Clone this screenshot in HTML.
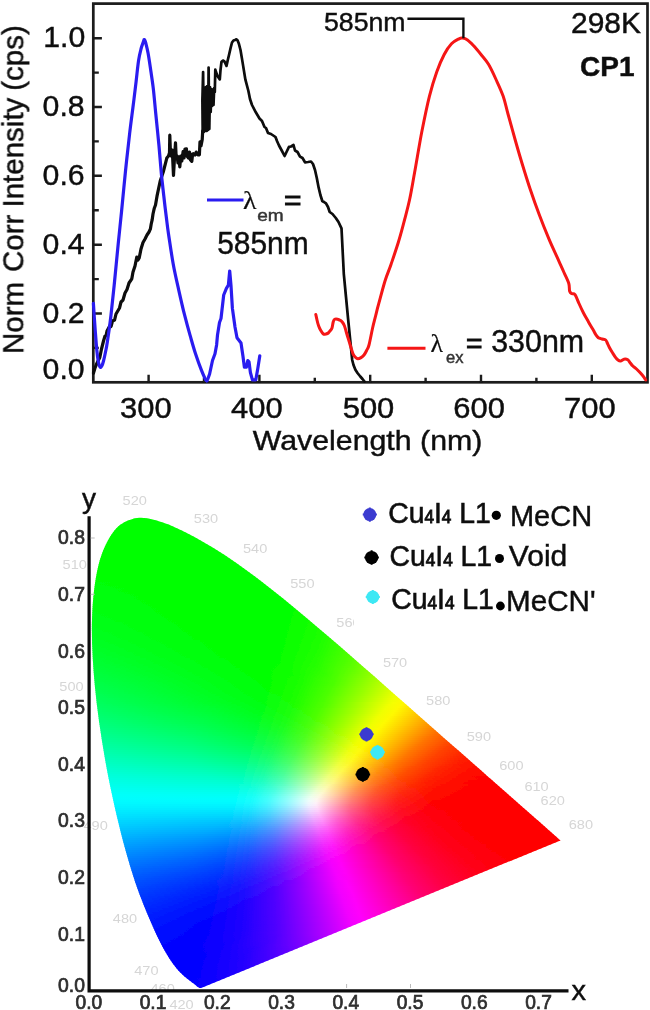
<!DOCTYPE html>
<html><head><meta charset="utf-8"><title>chart</title>
<style>html,body{margin:0;padding:0;background:#fff}svg{display:block}text{font-family:"Liberation Sans",sans-serif}</style>
</head><body>
<svg width="650" height="1010" viewBox="0 0 650 1010">
<defs><filter id="bl" x="0" y="0" width="650" height="1010" filterUnits="userSpaceOnUse"><feGaussianBlur stdDeviation="0.55"/></filter></defs>
<g filter="url(#bl)">
<rect width="650" height="1010" fill="#fff"/>
<rect x="93.3" y="3.6" width="554.2" height="378.7" fill="#fff" stroke="#1a1a1a" stroke-width="2.7"/>
<path d="M148.6 382.3 v-7.5M204.0 382.3 v-4.5M259.4 382.3 v-7.5M314.8 382.3 v-4.5M370.2 382.3 v-7.5M425.6 382.3 v-4.5M481.0 382.3 v-7.5M536.4 382.3 v-4.5M591.8 382.3 v-7.5M93.3 347.9 h5.5M93.3 313.5 h8.6M93.3 279.1 h5.5M93.3 244.7 h8.6M93.3 210.2 h5.5M93.3 175.8 h8.6M93.3 141.4 h5.5M93.3 107.0 h8.6M93.3 72.6 h5.5M93.3 38.2 h8.6" stroke="#1a1a1a" stroke-width="2.4" fill="none"/>
<polyline points="93.5,373.0 95.0,368.0 96.2,365.0 98.0,361.0 99.8,357.5 101.5,349.0 103.5,341.0 105.0,336.0 106.0,336.0 107.0,331.0 109.7,326.0 111.0,326.5 112.5,321.0 114.6,320.0 116.0,314.0 119.5,308.0 121.0,302.0 123.0,300.0 125.0,293.0 127.0,289.5 129.0,283.0 131.8,278.8 133.0,272.0 135.0,266.0 136.8,257.0 138.0,260.0 139.2,258.0 141.0,249.0 143.0,242.5 145.0,239.0 147.0,235.0 149.0,232.0 150.4,228.9 151.2,224.0 152.1,220.2 153.0,214.0 154.3,208.2 155.5,205.0 157.0,196.2 160.2,181.0 163.5,171.2 166.8,158.1 168.5,156.0 169.5,152.7 169.8,135.2 170.4,152.0 171.1,155.9 172.3,150.0 173.5,175.5 174.6,156.0 175.5,142.9 176.2,158.0 177.1,155.9 178.0,163.0 179.0,157.0 179.8,166.8 180.8,156.0 181.8,161.0 183.1,151.6 184.0,158.0 185.0,149.0 186.4,148.8 187.0,156.0 188.5,158.1 189.5,152.0 190.5,160.0 191.8,161.4 192.6,154.0 193.4,153.7 195.0,155.0 196.2,152.1 198.0,155.0 199.4,154.8 200.0,141.8 201.0,146.0 202.2,139.6 202.7,130.9" fill="none" stroke="#0a0a0a" stroke-width="3.2" stroke-linejoin="round" stroke-linecap="round"/>
<polyline points="202.7,130.9 202.4,100.0 203.1,72.0 203.8,132.0 204.6,88.0 205.3,131.0 206.0,87.0 206.7,131.0 207.4,86.0 208.1,130.0 208.6,67.6 209.3,129.0 210.0,87.0 210.7,112.0 211.4,89.0 212.1,106.0 212.8,90.0 213.5,105.0 214.2,88.0 214.8,92.0 215.3,69.5 216.0,72.0 217.5,76.0 219.8,79.4 220.5,70.0 221.5,61.7 223.0,60.5 224.4,61.3 226.5,65.9 227.8,60.0 229.0,55.0 230.6,48.0 232.0,42.5 233.5,40.5 235.0,40.0 236.5,39.3 237.6,40.5 238.9,43.8 240.5,50.0 242.5,61.9 245.4,79.7 248.4,91.0 250.0,99.0 252.0,105.0 255.8,112.3 259.5,118.5 262.0,121.0 264.5,127.0 266.0,128.0 268.0,133.0 271.0,134.0 275.5,137.0 277.0,141.0 279.0,145.5 282.0,151.0 284.6,156.0 286.5,152.0 289.0,146.8 291.0,146.5 293.5,145.0 295.0,150.5 297.5,152.0 300.0,156.6 302.5,158.0 305.0,162.3 308.0,162.0 311.0,161.5 313.0,164.0 315.0,170.0 316.8,178.0 318.6,187.4 320.4,195.0 322.3,201.0 324.0,202.0 326.0,203.4 328.0,207.0 329.7,212.0 332.5,214.0 335.8,218.0 338.5,222.0 341.5,228.3 342.6,250.0 343.8,273.8 346.0,297.0 348.0,318.0 350.5,342.8 352.2,360.0 353.5,365.0 355.4,369.8 357.5,373.0 360.3,376.5 362.5,379.0 364.5,381.5" fill="none" stroke="#0a0a0a" stroke-width="2.7" stroke-linejoin="round" stroke-linecap="round"/>
<path d="M315.8 314.5C316.0 315.4 316.6 318.2 317.0 320.0C317.4 321.8 317.9 323.8 318.5 325.5C319.1 327.2 319.7 328.6 320.5 330.0C321.3 331.4 322.5 333.3 323.4 334.0C324.3 334.7 325.2 334.2 326.0 334.0C326.8 333.8 327.6 333.6 328.3 333.0C329.0 332.4 329.8 331.3 330.4 330.5C331.0 329.7 331.5 329.4 332.0 328.0C332.5 326.6 332.8 323.4 333.2 322.0C333.6 320.6 333.8 319.9 334.5 319.4C335.2 318.9 336.5 319.0 337.5 319.2C338.5 319.4 339.8 320.1 340.6 320.6C341.5 321.2 342.0 321.7 342.6 322.5C343.2 323.3 343.7 324.1 344.3 325.5C344.9 326.9 345.4 328.9 346.0 331.0C346.6 333.1 347.2 335.3 348.0 337.8C348.8 340.3 349.7 343.3 350.5 346.0C351.3 348.7 352.2 351.9 353.0 353.8C353.8 355.7 354.6 356.4 355.4 357.2C356.2 358.0 356.9 358.7 357.8 358.8C358.7 358.9 360.0 358.2 361.0 357.6C362.0 357.0 363.1 356.2 364.0 355.0C364.9 353.8 365.8 352.2 366.6 350.5C367.4 348.8 368.0 348.8 369.0 345.0C370.0 341.2 371.5 332.9 372.6 328.0C373.7 323.1 374.7 319.6 375.7 315.5C376.7 311.4 377.2 309.1 378.8 303.4C380.4 297.6 383.0 287.5 385.0 281.0C387.0 274.5 388.8 271.0 391.0 264.5C393.2 258.0 396.2 249.3 398.5 241.8C400.8 234.3 402.8 226.7 404.6 219.7C406.4 212.7 407.8 207.8 409.5 200.0C411.2 192.2 412.5 184.1 414.6 172.6C416.7 161.1 419.5 143.5 422.0 130.8C424.5 118.1 426.9 106.2 429.4 96.3C431.9 86.4 434.3 78.7 436.8 71.7C439.3 64.7 441.8 59.1 444.2 54.5C446.6 49.9 449.0 46.4 451.5 43.8C454.0 41.2 457.1 39.8 459.0 38.8C460.9 37.8 461.2 37.9 462.6 38.1C464.0 38.3 465.6 38.7 467.5 40.0C469.4 41.3 471.4 43.4 473.7 45.8C475.9 48.2 478.5 51.4 481.0 54.5C483.5 57.6 486.0 60.2 488.5 64.3C491.0 68.4 493.4 73.7 495.8 79.0C498.2 84.3 501.2 90.5 503.2 96.3C505.2 102.1 505.9 106.5 508.0 114.0C510.1 121.5 513.0 132.2 515.5 141.0C518.0 149.8 520.5 158.4 523.0 166.5C525.5 174.6 527.6 181.5 530.3 189.5C533.0 197.5 536.1 206.3 539.2 214.6C542.3 222.9 545.7 231.4 549.0 239.2C552.3 247.0 556.5 255.8 559.0 261.4C561.5 266.9 562.4 268.8 564.0 272.5C565.6 276.2 567.9 280.4 568.8 283.5C569.7 286.6 569.1 289.3 569.6 291.0C570.1 292.7 570.6 293.0 571.5 293.6C572.4 294.2 573.8 293.0 575.0 294.6C576.2 296.2 577.6 300.4 579.0 303.5C580.4 306.6 581.9 309.9 583.5 313.0C585.1 316.1 586.9 319.1 588.5 322.0C590.1 324.9 592.1 328.1 593.4 330.3C594.6 332.5 595.2 333.8 596.0 335.0C596.8 336.2 597.3 337.0 598.3 337.7C599.3 338.4 600.8 338.6 602.0 339.0C603.2 339.4 604.8 339.2 605.7 340.0C606.6 340.8 606.9 342.2 607.5 343.5C608.1 344.8 608.6 345.9 609.4 347.5C610.2 349.1 611.5 351.2 612.5 352.8C613.5 354.4 614.6 356.2 615.5 357.4C616.4 358.6 617.2 359.4 618.0 360.0C618.8 360.6 619.5 361.1 620.5 361.0C621.5 360.9 622.8 359.4 624.0 359.2C625.2 359.0 626.8 359.2 627.8 359.8C628.8 360.4 629.5 362.0 630.3 363.0C631.1 364.0 631.8 365.0 632.8 366.0C633.8 367.0 635.3 367.9 636.5 369.0C637.7 370.1 638.9 371.3 640.0 372.5C641.1 373.7 642.0 374.8 643.0 376.0C644.0 377.2 645.3 379.3 645.8 380.0" fill="none" stroke="#f51515" stroke-width="3.0" stroke-linejoin="round" stroke-linecap="round"/>
<path d="M93.4 303.4C93.7 307.8 94.6 322.2 95.2 330.0C95.8 337.8 96.3 344.7 96.8 350.0C97.3 355.3 97.9 359.2 98.4 362.0C98.9 364.8 99.4 366.3 100.0 367.0C100.6 367.7 101.2 367.0 101.8 366.0C102.4 365.0 102.9 363.3 103.5 361.0C104.1 358.7 104.9 355.0 105.5 352.0C106.1 349.0 106.3 348.8 107.2 342.8C108.1 336.8 109.7 326.3 110.9 316.0C112.1 305.7 113.4 293.2 114.6 281.0C115.8 268.8 117.1 254.8 118.3 243.0C119.5 231.2 120.5 222.0 121.7 210.0C122.9 198.0 124.2 183.7 125.5 171.0C126.8 158.3 128.4 144.5 129.6 133.9C130.8 123.4 131.8 116.4 132.9 107.7C134.0 99.0 135.2 89.4 136.1 81.6C137.0 73.8 137.7 66.3 138.5 60.9C139.3 55.5 140.2 52.1 141.0 49.0C141.8 45.9 142.6 44.0 143.2 42.4C143.8 40.8 143.9 39.4 144.3 39.6C144.8 39.8 145.3 41.2 145.9 43.5C146.5 45.8 147.3 48.8 148.1 53.3C148.9 57.8 149.9 64.5 150.8 70.7C151.7 76.9 152.7 82.9 153.5 90.3C154.3 97.7 155.0 105.9 155.9 115.0C156.8 124.1 158.0 135.3 158.9 145.0C159.8 154.7 160.5 164.5 161.3 173.0C162.1 181.5 163.0 188.7 163.8 196.0C164.6 203.3 165.5 210.7 166.3 217.0C167.1 223.3 167.3 226.1 168.5 233.9C169.7 241.7 171.5 254.6 173.2 264.0C174.9 273.4 176.9 281.9 178.8 290.3C180.7 298.8 182.6 307.2 184.5 314.7C186.4 322.2 188.2 328.8 190.1 335.4C192.0 342.0 193.8 348.5 195.7 354.3C197.6 360.1 199.8 366.1 201.4 370.2C203.0 374.3 204.2 376.9 205.1 378.7C206.0 380.5 206.5 380.4 206.8 380.8" fill="none" stroke="#2b1cf0" stroke-width="3.2" stroke-linejoin="round" stroke-linecap="round"/>
<polyline points="206.8,380.8 208.0,378.5 209.6,374.0 212.5,360.5 215.0,353.8 216.6,345.0 217.5,335.0 219.5,322.5 221.0,318.5 223.7,295.0 226.4,288.4 228.4,285.0 229.7,271.0 231.0,285.7 232.4,308.4 235.0,327.0 237.0,337.8 241.0,343.0 243.0,356.5 244.4,367.2 246.4,367.2 247.8,360.5 249.0,361.8 250.4,372.5 252.4,379.8 255.8,379.8 257.8,368.5 259.8,355.8" fill="none" stroke="#2b1cf0" stroke-width="3.2" stroke-linejoin="round" stroke-linecap="round"/>
<path d="M407.4 18.8H463.4V38.2" fill="none" stroke="#111" stroke-width="2.4"/>
<text x="324.0" y="31.0" font-size="26" fill="#111" font-weight="normal" text-anchor="start"  textLength="81.5" lengthAdjust="spacingAndGlyphs"  stroke="#111" stroke-width="0.45">585nm</text>
<text x="571.0" y="32.8" font-size="29.5" fill="#111" font-weight="normal" text-anchor="start"  textLength="70.0" lengthAdjust="spacingAndGlyphs"  stroke="#111" stroke-width="0.45">298K</text>
<text x="580.0" y="76.3" font-size="27.5" fill="#111" font-weight="bold" text-anchor="start"  textLength="54.5" lengthAdjust="spacingAndGlyphs"  stroke="#111" stroke-width="0.45">CP1</text>
<path d="M207 200H243.5" stroke="#2b1cf0" stroke-width="3.1"/>
<text x="243.0" y="209.0" font-size="26" fill="#111" font-weight="normal" text-anchor="start" style="font-family:'Liberation Serif',serif" textLength="13.5" lengthAdjust="spacingAndGlyphs"  stroke="#111" stroke-width="0.2">λ</text>
<text x="257.2" y="220.5" font-size="16.7" fill="#333" font-weight="normal" text-anchor="start"  textLength="26.5" lengthAdjust="spacingAndGlyphs"  stroke="#333" stroke-width="0.45">em</text>
<text x="284.0" y="209.5" font-size="27" fill="#111" font-weight="normal" text-anchor="start"  textLength="17.5" lengthAdjust="spacingAndGlyphs"  stroke="#111" stroke-width="0.9">=</text>
<text x="217.2" y="254.2" font-size="30.5" fill="#111" font-weight="normal" text-anchor="start"  textLength="91.5" lengthAdjust="spacingAndGlyphs"  stroke="#111" stroke-width="0.45">585nm</text>
<path d="M387.4 348.2H425.5" stroke="#f51515" stroke-width="3.0"/>
<text x="430.5" y="351.8" font-size="25" fill="#111" font-weight="normal" text-anchor="start" style="font-family:'Liberation Serif',serif" textLength="12.5" lengthAdjust="spacingAndGlyphs"  stroke="#111" stroke-width="0.2">λ</text>
<text x="446.0" y="363.4" font-size="16" fill="#333" font-weight="normal" text-anchor="start"  textLength="17.5" lengthAdjust="spacingAndGlyphs"  stroke="#333" stroke-width="0.45">ex</text>
<text x="466.0" y="352.8" font-size="27" fill="#111" font-weight="normal" text-anchor="start"  textLength="16.5" lengthAdjust="spacingAndGlyphs"  stroke="#111" stroke-width="0.9">=</text>
<text x="491.2" y="352.4" font-size="30.5" fill="#111" font-weight="normal" text-anchor="start"  textLength="93.0" lengthAdjust="spacingAndGlyphs"  stroke="#111" stroke-width="0.45">330nm</text>
<text x="43.3" y="46.9" font-size="30.3" fill="#111" font-weight="normal" text-anchor="start"  textLength="42.0" lengthAdjust="spacingAndGlyphs"  stroke="#111" stroke-width="0.45">1.0</text>
<text x="42.6" y="116.0" font-size="30.3" fill="#111" font-weight="normal" text-anchor="start"  textLength="42.0" lengthAdjust="spacingAndGlyphs"  stroke="#111" stroke-width="0.45">0.8</text>
<text x="42.6" y="185.1" font-size="30.3" fill="#111" font-weight="normal" text-anchor="start"  textLength="42.0" lengthAdjust="spacingAndGlyphs"  stroke="#111" stroke-width="0.45">0.6</text>
<text x="42.6" y="254.2" font-size="30.3" fill="#111" font-weight="normal" text-anchor="start"  textLength="42.0" lengthAdjust="spacingAndGlyphs"  stroke="#111" stroke-width="0.45">0.4</text>
<text x="42.6" y="323.3" font-size="30.3" fill="#111" font-weight="normal" text-anchor="start"  textLength="42.0" lengthAdjust="spacingAndGlyphs"  stroke="#111" stroke-width="0.45">0.2</text>
<text x="42.6" y="378.7" font-size="30.3" fill="#111" font-weight="normal" text-anchor="start"  textLength="42.0" lengthAdjust="spacingAndGlyphs"  stroke="#111" stroke-width="0.45">0.0</text>
<text x="120.1" y="418.3" font-size="30.3" fill="#111" font-weight="normal" text-anchor="start"  textLength="51.6" lengthAdjust="spacingAndGlyphs"  stroke="#111" stroke-width="0.45">300</text>
<text x="231.1" y="418.3" font-size="30.3" fill="#111" font-weight="normal" text-anchor="start"  textLength="51.6" lengthAdjust="spacingAndGlyphs"  stroke="#111" stroke-width="0.45">400</text>
<text x="342.7" y="418.3" font-size="30.3" fill="#111" font-weight="normal" text-anchor="start"  textLength="51.6" lengthAdjust="spacingAndGlyphs"  stroke="#111" stroke-width="0.45">500</text>
<text x="453.3" y="418.3" font-size="30.3" fill="#111" font-weight="normal" text-anchor="start"  textLength="51.6" lengthAdjust="spacingAndGlyphs"  stroke="#111" stroke-width="0.45">600</text>
<text x="564.1" y="418.3" font-size="30.3" fill="#111" font-weight="normal" text-anchor="start"  textLength="51.6" lengthAdjust="spacingAndGlyphs"  stroke="#111" stroke-width="0.45">700</text>
<text x="252.8" y="450.2" font-size="28.5" fill="#111" font-weight="normal" text-anchor="start"  textLength="229.5" lengthAdjust="spacingAndGlyphs"  stroke="#111" stroke-width="0.45">Wavelength (nm)</text>
<text transform="translate(23.3 354.0) rotate(-90)" font-size="29.5" fill="#111" stroke="#111" stroke-width="0.45"><tspan x="0">Norm</tspan><tspan x="82">Corr</tspan><tspan x="146.5">Intensity</tspan><tspan x="263.3">(cps)</tspan></text>
<defs><linearGradient id="g" gradientUnits="userSpaceOnUse" x1="88" y1="0" x2="564" y2="0"/><linearGradient id="r0" href="#g"><stop offset="0.000" stop-color="#00ff00"/><stop offset="0.479" stop-color="#03ff00"/><stop offset="0.597" stop-color="#1dff00"/><stop offset="0.710" stop-color="#4eff00"/><stop offset="0.842" stop-color="#a1ff00"/><stop offset="0.964" stop-color="#f1ff00"/><stop offset="1.000" stop-color="#fefe00"/></linearGradient><linearGradient id="r1" href="#g"><stop offset="0.000" stop-color="#00ff00"/><stop offset="0.477" stop-color="#03ff00"/><stop offset="0.595" stop-color="#1dff00"/><stop offset="0.708" stop-color="#4eff00"/><stop offset="0.838" stop-color="#a0ff00"/><stop offset="0.960" stop-color="#f1ff00"/><stop offset="1.000" stop-color="#fffd00"/></linearGradient><linearGradient id="r2" href="#g"><stop offset="0.000" stop-color="#00ff00"/><stop offset="0.477" stop-color="#03ff00"/><stop offset="0.592" stop-color="#1dff00"/><stop offset="0.706" stop-color="#4eff00"/><stop offset="0.836" stop-color="#a1ff00"/><stop offset="0.958" stop-color="#f2ff00"/><stop offset="1.000" stop-color="#fffc00"/></linearGradient><linearGradient id="r3" href="#g"><stop offset="0.000" stop-color="#00ff00"/><stop offset="0.475" stop-color="#03ff00"/><stop offset="0.590" stop-color="#1dff00"/><stop offset="0.702" stop-color="#4dff00"/><stop offset="0.830" stop-color="#9eff00"/><stop offset="0.954" stop-color="#f1ff00"/><stop offset="0.996" stop-color="#fffc00"/><stop offset="1.000" stop-color="#fffb00"/></linearGradient><linearGradient id="r4" href="#g"><stop offset="0.000" stop-color="#00ff00"/><stop offset="0.473" stop-color="#03ff00"/><stop offset="0.588" stop-color="#1dff00"/><stop offset="0.700" stop-color="#4dff00"/><stop offset="0.828" stop-color="#9fff00"/><stop offset="0.950" stop-color="#f1ff00"/><stop offset="0.992" stop-color="#fffc00"/><stop offset="1.000" stop-color="#fff900"/></linearGradient><linearGradient id="r5" href="#g"><stop offset="0.000" stop-color="#00ff00"/><stop offset="0.473" stop-color="#03ff00"/><stop offset="0.586" stop-color="#1dff00"/><stop offset="0.697" stop-color="#4dff00"/><stop offset="0.826" stop-color="#9fff00"/><stop offset="0.945" stop-color="#f0ff00"/><stop offset="0.987" stop-color="#fffc00"/><stop offset="1.000" stop-color="#fff800"/></linearGradient><linearGradient id="r6" href="#g"><stop offset="0.000" stop-color="#00ff00"/><stop offset="0.471" stop-color="#03ff00"/><stop offset="0.584" stop-color="#1dff00"/><stop offset="0.695" stop-color="#4dff00"/><stop offset="0.821" stop-color="#9fff00"/><stop offset="0.943" stop-color="#f1ff00"/><stop offset="0.985" stop-color="#fffb00"/><stop offset="1.000" stop-color="#fff600"/></linearGradient><linearGradient id="r7" href="#g"><stop offset="0.000" stop-color="#00ff00"/><stop offset="0.471" stop-color="#03ff00"/><stop offset="0.584" stop-color="#1dff00"/><stop offset="0.693" stop-color="#4dff00"/><stop offset="0.819" stop-color="#9fff00"/><stop offset="0.939" stop-color="#f1ff00"/><stop offset="0.981" stop-color="#fffb00"/><stop offset="1.000" stop-color="#fff400"/></linearGradient><linearGradient id="r8" href="#g"><stop offset="0.000" stop-color="#00ff00"/><stop offset="0.468" stop-color="#03ff00"/><stop offset="0.582" stop-color="#1dff00"/><stop offset="0.691" stop-color="#4dff00"/><stop offset="0.817" stop-color="#a0ff00"/><stop offset="0.935" stop-color="#f0ff00"/><stop offset="0.977" stop-color="#fffb00"/><stop offset="1.000" stop-color="#fff200"/></linearGradient><linearGradient id="r9" href="#g"><stop offset="0.000" stop-color="#00ff00"/><stop offset="0.468" stop-color="#03ff00"/><stop offset="0.580" stop-color="#1dff00"/><stop offset="0.689" stop-color="#4dff00"/><stop offset="0.815" stop-color="#a0ff00"/><stop offset="0.933" stop-color="#f1ff00"/><stop offset="0.975" stop-color="#fffb00"/><stop offset="1.000" stop-color="#fff000"/></linearGradient><linearGradient id="r10" href="#g"><stop offset="0.000" stop-color="#00ff00"/><stop offset="0.466" stop-color="#03ff00"/><stop offset="0.578" stop-color="#1dff00"/><stop offset="0.687" stop-color="#4eff00"/><stop offset="0.811" stop-color="#9fff00"/><stop offset="0.929" stop-color="#f1ff00"/><stop offset="0.971" stop-color="#fffb00"/><stop offset="1.000" stop-color="#ffee00"/></linearGradient><linearGradient id="r11" href="#g"><stop offset="0.000" stop-color="#00ff00"/><stop offset="0.464" stop-color="#03ff00"/><stop offset="0.576" stop-color="#1dff00"/><stop offset="0.683" stop-color="#4dff00"/><stop offset="0.807" stop-color="#9eff00"/><stop offset="0.924" stop-color="#f0ff00"/><stop offset="0.966" stop-color="#fffb00"/><stop offset="1.000" stop-color="#ffec00"/></linearGradient><linearGradient id="r12" href="#g"><stop offset="0.000" stop-color="#00ff00"/><stop offset="0.464" stop-color="#03ff00"/><stop offset="0.576" stop-color="#1dff00"/><stop offset="0.683" stop-color="#4eff00"/><stop offset="0.807" stop-color="#a1ff00"/><stop offset="0.922" stop-color="#f1ff00"/><stop offset="0.962" stop-color="#fffb00"/><stop offset="1.000" stop-color="#ffea00"/></linearGradient><linearGradient id="r13" href="#g"><stop offset="0.000" stop-color="#00ff00"/><stop offset="0.462" stop-color="#03ff00"/><stop offset="0.571" stop-color="#1cff00"/><stop offset="0.679" stop-color="#4dff00"/><stop offset="0.800" stop-color="#9eff00"/><stop offset="0.918" stop-color="#f1ff00"/><stop offset="0.958" stop-color="#fffc00"/><stop offset="1.000" stop-color="#ffe800"/></linearGradient><linearGradient id="r14" href="#g"><stop offset="0.000" stop-color="#00ff00"/><stop offset="0.462" stop-color="#03ff00"/><stop offset="0.571" stop-color="#1dff00"/><stop offset="0.679" stop-color="#4eff00"/><stop offset="0.800" stop-color="#a0ff00"/><stop offset="0.914" stop-color="#f0ff00"/><stop offset="0.954" stop-color="#fffc00"/><stop offset="1.000" stop-color="#ffe600"/></linearGradient><linearGradient id="r15" href="#g"><stop offset="0.000" stop-color="#00ff00"/><stop offset="0.460" stop-color="#03ff00"/><stop offset="0.569" stop-color="#1dff00"/><stop offset="0.674" stop-color="#4dff00"/><stop offset="0.796" stop-color="#9fff00"/><stop offset="0.912" stop-color="#f1ff00"/><stop offset="0.952" stop-color="#fffb00"/><stop offset="1.000" stop-color="#ffe300"/></linearGradient><linearGradient id="r16" href="#g"><stop offset="0.000" stop-color="#00ff00"/><stop offset="0.460" stop-color="#03ff00"/><stop offset="0.567" stop-color="#1dff00"/><stop offset="0.672" stop-color="#4dff00"/><stop offset="0.792" stop-color="#9eff00"/><stop offset="0.908" stop-color="#f1ff00"/><stop offset="0.947" stop-color="#fffb00"/><stop offset="1.000" stop-color="#ffe100"/></linearGradient><linearGradient id="r17" href="#g"><stop offset="0.000" stop-color="#00ff01"/><stop offset="0.458" stop-color="#03ff00"/><stop offset="0.565" stop-color="#1dff00"/><stop offset="0.670" stop-color="#4dff00"/><stop offset="0.790" stop-color="#9fff00"/><stop offset="0.903" stop-color="#f0ff00"/><stop offset="0.943" stop-color="#fffb00"/><stop offset="1.000" stop-color="#ffdf00"/></linearGradient><linearGradient id="r18" href="#g"><stop offset="0.000" stop-color="#00ff01"/><stop offset="0.456" stop-color="#03ff00"/><stop offset="0.563" stop-color="#1dff00"/><stop offset="0.666" stop-color="#4cff00"/><stop offset="0.784" stop-color="#9cff00"/><stop offset="0.899" stop-color="#f0ff00"/><stop offset="0.939" stop-color="#fffc00"/><stop offset="1.000" stop-color="#ffdc00"/></linearGradient><linearGradient id="r19" href="#g"><stop offset="0.000" stop-color="#00ff01"/><stop offset="0.456" stop-color="#03ff00"/><stop offset="0.563" stop-color="#1dff00"/><stop offset="0.666" stop-color="#4dff00"/><stop offset="0.786" stop-color="#a0ff00"/><stop offset="0.897" stop-color="#f1ff00"/><stop offset="0.937" stop-color="#fffb00"/><stop offset="1.000" stop-color="#ffda00"/></linearGradient><linearGradient id="r20" href="#g"><stop offset="0.000" stop-color="#00ff02"/><stop offset="0.454" stop-color="#03ff00"/><stop offset="0.559" stop-color="#1cff00"/><stop offset="0.662" stop-color="#4cff00"/><stop offset="0.779" stop-color="#9dff00"/><stop offset="0.893" stop-color="#f0ff00"/><stop offset="0.933" stop-color="#fffb00"/><stop offset="1.000" stop-color="#ffd700"/></linearGradient><linearGradient id="r21" href="#g"><stop offset="0.000" stop-color="#00ff02"/><stop offset="0.454" stop-color="#03ff00"/><stop offset="0.559" stop-color="#1dff00"/><stop offset="0.662" stop-color="#4eff00"/><stop offset="0.779" stop-color="#a0ff00"/><stop offset="0.891" stop-color="#f1ff00"/><stop offset="0.931" stop-color="#fffb00"/><stop offset="1.000" stop-color="#ffd400"/></linearGradient><linearGradient id="r22" href="#g"><stop offset="0.000" stop-color="#00ff02"/><stop offset="0.452" stop-color="#03ff00"/><stop offset="0.557" stop-color="#1dff00"/><stop offset="0.658" stop-color="#4cff00"/><stop offset="0.773" stop-color="#9dff00"/><stop offset="0.887" stop-color="#f1ff00"/><stop offset="0.926" stop-color="#fffb00"/><stop offset="1.000" stop-color="#ffd200"/></linearGradient><linearGradient id="r23" href="#g"><stop offset="0.000" stop-color="#00ff02"/><stop offset="0.452" stop-color="#03ff00"/><stop offset="0.557" stop-color="#1dff00"/><stop offset="0.658" stop-color="#4eff00"/><stop offset="0.775" stop-color="#a1ff00"/><stop offset="0.882" stop-color="#f0ff00"/><stop offset="0.922" stop-color="#fffb00"/><stop offset="1.000" stop-color="#ffcf00"/></linearGradient><linearGradient id="r24" href="#g"><stop offset="0.000" stop-color="#00ff03"/><stop offset="0.450" stop-color="#03ff00"/><stop offset="0.553" stop-color="#1dff00"/><stop offset="0.653" stop-color="#4dff00"/><stop offset="0.769" stop-color="#9eff00"/><stop offset="0.880" stop-color="#f1ff00"/><stop offset="0.918" stop-color="#fffb00"/><stop offset="1.000" stop-color="#ffcc00"/></linearGradient><linearGradient id="r25" href="#g"><stop offset="0.000" stop-color="#00ff03"/><stop offset="0.447" stop-color="#03ff00"/><stop offset="0.550" stop-color="#1cff00"/><stop offset="0.651" stop-color="#4dff00"/><stop offset="0.767" stop-color="#9fff00"/><stop offset="0.876" stop-color="#f1ff00"/><stop offset="0.914" stop-color="#fffb00"/><stop offset="1.000" stop-color="#ffc900"/></linearGradient><linearGradient id="r26" href="#g"><stop offset="0.000" stop-color="#00ff04"/><stop offset="0.447" stop-color="#03ff00"/><stop offset="0.550" stop-color="#1dff00"/><stop offset="0.649" stop-color="#4dff00"/><stop offset="0.763" stop-color="#9eff00"/><stop offset="0.872" stop-color="#f0ff00"/><stop offset="0.910" stop-color="#fffc00"/><stop offset="1.000" stop-color="#ffc700"/></linearGradient><linearGradient id="r27" href="#g"><stop offset="0.000" stop-color="#00ff04"/><stop offset="0.330" stop-color="#00ff00"/><stop offset="0.456" stop-color="#05ff00"/><stop offset="0.557" stop-color="#20ff00"/><stop offset="0.655" stop-color="#52ff00"/><stop offset="0.775" stop-color="#aaff00"/><stop offset="0.872" stop-color="#f2ff00"/><stop offset="0.910" stop-color="#fffa00"/><stop offset="1.000" stop-color="#ffc400"/></linearGradient><linearGradient id="r28" href="#g"><stop offset="0.000" stop-color="#00ff05"/><stop offset="0.271" stop-color="#00ff00"/><stop offset="0.450" stop-color="#04ff00"/><stop offset="0.550" stop-color="#1eff00"/><stop offset="0.649" stop-color="#50ff00"/><stop offset="0.765" stop-color="#a4ff00"/><stop offset="0.866" stop-color="#f1ff00"/><stop offset="0.903" stop-color="#fffb00"/><stop offset="1.000" stop-color="#ffc100"/></linearGradient><linearGradient id="r29" href="#g"><stop offset="0.000" stop-color="#00ff05"/><stop offset="0.239" stop-color="#00ff00"/><stop offset="0.447" stop-color="#04ff00"/><stop offset="0.548" stop-color="#1eff00"/><stop offset="0.647" stop-color="#50ff00"/><stop offset="0.763" stop-color="#a5ff00"/><stop offset="0.863" stop-color="#f2ff00"/><stop offset="0.901" stop-color="#fffa00"/><stop offset="1.000" stop-color="#ffbe00"/></linearGradient><linearGradient id="r30" href="#g"><stop offset="0.000" stop-color="#00ff06"/><stop offset="0.221" stop-color="#00ff00"/><stop offset="0.445" stop-color="#04ff00"/><stop offset="0.546" stop-color="#1eff00"/><stop offset="0.643" stop-color="#4fff00"/><stop offset="0.756" stop-color="#a2ff00"/><stop offset="0.859" stop-color="#f1ff00"/><stop offset="0.897" stop-color="#fffb00"/><stop offset="1.000" stop-color="#ffbb00"/></linearGradient><linearGradient id="r31" href="#g"><stop offset="0.000" stop-color="#00ff06"/><stop offset="0.210" stop-color="#00ff00"/><stop offset="0.443" stop-color="#03ff00"/><stop offset="0.542" stop-color="#1dff00"/><stop offset="0.639" stop-color="#4dff00"/><stop offset="0.750" stop-color="#a0ff00"/><stop offset="0.855" stop-color="#f1ff00"/><stop offset="0.893" stop-color="#fffb00"/><stop offset="1.000" stop-color="#ffb800"/></linearGradient><linearGradient id="r32" href="#g"><stop offset="0.000" stop-color="#00ff07"/><stop offset="0.202" stop-color="#00ff00"/><stop offset="0.441" stop-color="#03ff00"/><stop offset="0.540" stop-color="#1dff00"/><stop offset="0.637" stop-color="#4eff00"/><stop offset="0.748" stop-color="#a0ff00"/><stop offset="0.851" stop-color="#f0ff00"/><stop offset="0.889" stop-color="#fffb00"/><stop offset="0.981" stop-color="#ffc100"/><stop offset="1.000" stop-color="#ffb500"/></linearGradient><linearGradient id="r33" href="#g"><stop offset="0.000" stop-color="#00ff07"/><stop offset="0.197" stop-color="#00ff00"/><stop offset="0.441" stop-color="#04ff00"/><stop offset="0.540" stop-color="#1eff00"/><stop offset="0.637" stop-color="#4fff00"/><stop offset="0.748" stop-color="#a3ff00"/><stop offset="0.849" stop-color="#f1ff00"/><stop offset="0.884" stop-color="#fffb00"/><stop offset="0.975" stop-color="#ffc200"/><stop offset="1.000" stop-color="#ffb200"/></linearGradient><linearGradient id="r34" href="#g"><stop offset="0.000" stop-color="#00ff08"/><stop offset="0.195" stop-color="#00ff00"/><stop offset="0.439" stop-color="#03ff00"/><stop offset="0.538" stop-color="#1eff00"/><stop offset="0.632" stop-color="#4eff00"/><stop offset="0.742" stop-color="#a0ff00"/><stop offset="0.845" stop-color="#f1ff00"/><stop offset="0.880" stop-color="#fffb00"/><stop offset="0.966" stop-color="#ffc500"/><stop offset="1.000" stop-color="#ffaf00"/></linearGradient><linearGradient id="r35" href="#g"><stop offset="0.000" stop-color="#00ff08"/><stop offset="0.195" stop-color="#00ff00"/><stop offset="0.439" stop-color="#04ff00"/><stop offset="0.536" stop-color="#1dff00"/><stop offset="0.630" stop-color="#4eff00"/><stop offset="0.739" stop-color="#a0ff00"/><stop offset="0.840" stop-color="#f0ff00"/><stop offset="0.878" stop-color="#fffb00"/><stop offset="0.973" stop-color="#ffbe00"/><stop offset="1.000" stop-color="#ffac00"/></linearGradient><linearGradient id="r36" href="#g"><stop offset="0.000" stop-color="#00ff09"/><stop offset="0.195" stop-color="#00ff00"/><stop offset="0.437" stop-color="#03ff00"/><stop offset="0.534" stop-color="#1dff00"/><stop offset="0.628" stop-color="#4eff00"/><stop offset="0.737" stop-color="#a1ff00"/><stop offset="0.838" stop-color="#f1ff00"/><stop offset="0.874" stop-color="#fffb00"/><stop offset="0.964" stop-color="#ffc100"/><stop offset="1.000" stop-color="#ffa900"/></linearGradient><linearGradient id="r37" href="#g"><stop offset="0.000" stop-color="#00ff0a"/><stop offset="0.195" stop-color="#00ff00"/><stop offset="0.435" stop-color="#03ff00"/><stop offset="0.532" stop-color="#1dff00"/><stop offset="0.626" stop-color="#4eff00"/><stop offset="0.735" stop-color="#a2ff00"/><stop offset="0.834" stop-color="#f1ff00"/><stop offset="0.870" stop-color="#fffb00"/><stop offset="0.958" stop-color="#ffc200"/><stop offset="1.000" stop-color="#ffa600"/></linearGradient><linearGradient id="r38" href="#g"><stop offset="0.000" stop-color="#00ff0a"/><stop offset="0.195" stop-color="#00ff00"/><stop offset="0.435" stop-color="#03ff00"/><stop offset="0.532" stop-color="#1eff00"/><stop offset="0.624" stop-color="#4eff00"/><stop offset="0.731" stop-color="#a1ff00"/><stop offset="0.830" stop-color="#f0ff00"/><stop offset="0.866" stop-color="#fffb00"/><stop offset="0.950" stop-color="#ffc500"/><stop offset="1.000" stop-color="#ffa300"/></linearGradient><linearGradient id="r39" href="#g"><stop offset="0.000" stop-color="#00ff0b"/><stop offset="0.197" stop-color="#00ff00"/><stop offset="0.433" stop-color="#03ff00"/><stop offset="0.527" stop-color="#1dff00"/><stop offset="0.620" stop-color="#4dff00"/><stop offset="0.727" stop-color="#a0ff00"/><stop offset="0.828" stop-color="#f1ff00"/><stop offset="0.863" stop-color="#fffb00"/><stop offset="0.956" stop-color="#ffbe00"/><stop offset="1.000" stop-color="#ffa000"/></linearGradient><linearGradient id="r40" href="#g"><stop offset="0.000" stop-color="#00ff0c"/><stop offset="0.200" stop-color="#00ff00"/><stop offset="0.433" stop-color="#04ff00"/><stop offset="0.527" stop-color="#1eff00"/><stop offset="0.620" stop-color="#4fff00"/><stop offset="0.727" stop-color="#a2ff00"/><stop offset="0.824" stop-color="#f1ff00"/><stop offset="0.859" stop-color="#fffb00"/><stop offset="0.947" stop-color="#ffc100"/><stop offset="1.000" stop-color="#ff9d00"/></linearGradient><linearGradient id="r41" href="#g"><stop offset="0.000" stop-color="#00ff0d"/><stop offset="0.202" stop-color="#00ff00"/><stop offset="0.431" stop-color="#03ff00"/><stop offset="0.525" stop-color="#1eff00"/><stop offset="0.616" stop-color="#4dff00"/><stop offset="0.721" stop-color="#9fff00"/><stop offset="0.819" stop-color="#f0ff00"/><stop offset="0.855" stop-color="#fffb00"/><stop offset="0.941" stop-color="#ffc200"/><stop offset="1.000" stop-color="#ff9a00"/></linearGradient><linearGradient id="r42" href="#g"><stop offset="0.000" stop-color="#00ff0d"/><stop offset="0.204" stop-color="#00ff00"/><stop offset="0.431" stop-color="#04ff00"/><stop offset="0.525" stop-color="#1eff00"/><stop offset="0.616" stop-color="#4fff00"/><stop offset="0.721" stop-color="#a2ff00"/><stop offset="0.817" stop-color="#f1ff00"/><stop offset="0.853" stop-color="#fffa00"/><stop offset="0.947" stop-color="#ffba00"/><stop offset="1.000" stop-color="#ff9700"/></linearGradient><linearGradient id="r43" href="#g"><stop offset="0.000" stop-color="#00ff0e"/><stop offset="0.206" stop-color="#00ff00"/><stop offset="0.429" stop-color="#03ff00"/><stop offset="0.521" stop-color="#1dff00"/><stop offset="0.611" stop-color="#4eff00"/><stop offset="0.716" stop-color="#a1ff00"/><stop offset="0.813" stop-color="#f1ff00"/><stop offset="0.849" stop-color="#fffb00"/><stop offset="0.939" stop-color="#ffbd00"/><stop offset="1.000" stop-color="#ff9400"/></linearGradient><linearGradient id="r44" href="#g"><stop offset="0.000" stop-color="#00ff0f"/><stop offset="0.208" stop-color="#00ff00"/><stop offset="0.429" stop-color="#04ff00"/><stop offset="0.521" stop-color="#1eff00"/><stop offset="0.611" stop-color="#4fff00"/><stop offset="0.716" stop-color="#a3ff00"/><stop offset="0.811" stop-color="#f2ff00"/><stop offset="0.845" stop-color="#fffb00"/><stop offset="0.933" stop-color="#ffbf00"/><stop offset="1.000" stop-color="#ff9100"/></linearGradient><linearGradient id="r45" href="#g"><stop offset="0.000" stop-color="#00ff10"/><stop offset="0.212" stop-color="#00ff00"/><stop offset="0.426" stop-color="#04ff00"/><stop offset="0.519" stop-color="#1eff00"/><stop offset="0.607" stop-color="#4eff00"/><stop offset="0.710" stop-color="#a0ff00"/><stop offset="0.807" stop-color="#f1ff00"/><stop offset="0.840" stop-color="#fffb00"/><stop offset="0.924" stop-color="#ffc200"/><stop offset="1.000" stop-color="#ff8e00"/></linearGradient><linearGradient id="r46" href="#g"><stop offset="0.000" stop-color="#00ff11"/><stop offset="0.214" stop-color="#00ff00"/><stop offset="0.424" stop-color="#03ff00"/><stop offset="0.515" stop-color="#1dff00"/><stop offset="0.603" stop-color="#4dff00"/><stop offset="0.704" stop-color="#9dff00"/><stop offset="0.803" stop-color="#f1ff00"/><stop offset="0.836" stop-color="#fffb00"/><stop offset="0.918" stop-color="#ffc400"/><stop offset="1.000" stop-color="#ff8b00"/></linearGradient><linearGradient id="r47" href="#g"><stop offset="0.000" stop-color="#00ff12"/><stop offset="0.218" stop-color="#00ff00"/><stop offset="0.424" stop-color="#04ff00"/><stop offset="0.515" stop-color="#1eff00"/><stop offset="0.603" stop-color="#4eff00"/><stop offset="0.706" stop-color="#a2ff00"/><stop offset="0.798" stop-color="#f0ff00"/><stop offset="0.832" stop-color="#fffb00"/><stop offset="0.910" stop-color="#ffc700"/><stop offset="1.000" stop-color="#ff8800"/></linearGradient><linearGradient id="r48" href="#g"><stop offset="0.000" stop-color="#00ff12"/><stop offset="0.221" stop-color="#00ff00"/><stop offset="0.422" stop-color="#03ff00"/><stop offset="0.513" stop-color="#1dff00"/><stop offset="0.601" stop-color="#4eff00"/><stop offset="0.702" stop-color="#a1ff00"/><stop offset="0.796" stop-color="#f1ff00"/><stop offset="0.830" stop-color="#fffb00"/><stop offset="0.916" stop-color="#ffbf00"/><stop offset="1.000" stop-color="#ff8500"/></linearGradient><linearGradient id="r49" href="#g"><stop offset="0.000" stop-color="#00ff13"/><stop offset="0.225" stop-color="#00ff00"/><stop offset="0.422" stop-color="#04ff00"/><stop offset="0.513" stop-color="#1eff00"/><stop offset="0.599" stop-color="#4eff00"/><stop offset="0.700" stop-color="#a1ff00"/><stop offset="0.792" stop-color="#f1ff00"/><stop offset="0.826" stop-color="#fffb00"/><stop offset="0.908" stop-color="#ffc200"/><stop offset="1.000" stop-color="#ff8200"/></linearGradient><linearGradient id="r50" href="#g"><stop offset="0.000" stop-color="#00ff14"/><stop offset="0.229" stop-color="#00ff00"/><stop offset="0.420" stop-color="#03ff00"/><stop offset="0.508" stop-color="#1dff00"/><stop offset="0.595" stop-color="#4dff00"/><stop offset="0.693" stop-color="#9eff00"/><stop offset="0.788" stop-color="#f0ff00"/><stop offset="0.821" stop-color="#fffb00"/><stop offset="0.901" stop-color="#ffc400"/><stop offset="1.000" stop-color="#ff7f00"/></linearGradient><linearGradient id="r51" href="#g"><stop offset="0.000" stop-color="#00ff15"/><stop offset="0.231" stop-color="#00ff00"/><stop offset="0.420" stop-color="#04ff00"/><stop offset="0.508" stop-color="#1eff00"/><stop offset="0.595" stop-color="#4fff00"/><stop offset="0.695" stop-color="#a3ff00"/><stop offset="0.786" stop-color="#f1ff00"/><stop offset="0.819" stop-color="#fffa00"/><stop offset="0.905" stop-color="#ffbd00"/><stop offset="1.000" stop-color="#ff7c00"/></linearGradient><linearGradient id="r52" href="#g"><stop offset="0.000" stop-color="#00ff16"/><stop offset="0.235" stop-color="#00ff00"/><stop offset="0.418" stop-color="#04ff00"/><stop offset="0.506" stop-color="#1eff00"/><stop offset="0.592" stop-color="#4fff00"/><stop offset="0.691" stop-color="#a2ff00"/><stop offset="0.782" stop-color="#f1ff00"/><stop offset="0.815" stop-color="#fffb00"/><stop offset="0.899" stop-color="#ffbf00"/><stop offset="0.998" stop-color="#ff7a00"/><stop offset="1.000" stop-color="#ff7900"/></linearGradient><linearGradient id="r53" href="#g"><stop offset="0.000" stop-color="#00ff17"/><stop offset="0.239" stop-color="#00ff00"/><stop offset="0.418" stop-color="#04ff00"/><stop offset="0.506" stop-color="#1eff00"/><stop offset="0.590" stop-color="#4fff00"/><stop offset="0.689" stop-color="#a2ff00"/><stop offset="0.777" stop-color="#f0ff00"/><stop offset="0.811" stop-color="#fffb00"/><stop offset="0.891" stop-color="#ffc200"/><stop offset="0.996" stop-color="#ff7800"/><stop offset="1.000" stop-color="#ff7600"/></linearGradient><linearGradient id="r54" href="#g"><stop offset="0.000" stop-color="#00ff19"/><stop offset="0.244" stop-color="#00ff00"/><stop offset="0.416" stop-color="#04ff00"/><stop offset="0.502" stop-color="#1dff00"/><stop offset="0.586" stop-color="#4eff00"/><stop offset="0.683" stop-color="#9fff00"/><stop offset="0.775" stop-color="#f1ff00"/><stop offset="0.809" stop-color="#fffa00"/><stop offset="0.899" stop-color="#ffb800"/><stop offset="0.998" stop-color="#ff7400"/><stop offset="1.000" stop-color="#ff7300"/></linearGradient><linearGradient id="r55" href="#g"><stop offset="0.000" stop-color="#00ff1a"/><stop offset="0.248" stop-color="#00ff00"/><stop offset="0.416" stop-color="#04ff00"/><stop offset="0.502" stop-color="#1eff00"/><stop offset="0.586" stop-color="#4fff00"/><stop offset="0.685" stop-color="#a4ff00"/><stop offset="0.771" stop-color="#f1ff00"/><stop offset="0.805" stop-color="#fffa00"/><stop offset="0.891" stop-color="#ffbb00"/><stop offset="0.994" stop-color="#ff7300"/><stop offset="1.000" stop-color="#ff7000"/></linearGradient><linearGradient id="r56" href="#g"><stop offset="0.000" stop-color="#00ff1b"/><stop offset="0.250" stop-color="#00ff00"/><stop offset="0.414" stop-color="#04ff00"/><stop offset="0.500" stop-color="#1eff00"/><stop offset="0.584" stop-color="#4fff00"/><stop offset="0.681" stop-color="#a3ff00"/><stop offset="0.769" stop-color="#f2ff00"/><stop offset="0.800" stop-color="#fffb00"/><stop offset="0.882" stop-color="#ffbf00"/><stop offset="0.989" stop-color="#ff7200"/><stop offset="1.000" stop-color="#ff6d00"/></linearGradient><linearGradient id="r57" href="#g"><stop offset="0.000" stop-color="#00ff1c"/><stop offset="0.254" stop-color="#00ff00"/><stop offset="0.414" stop-color="#04ff00"/><stop offset="0.498" stop-color="#1eff00"/><stop offset="0.580" stop-color="#4eff00"/><stop offset="0.676" stop-color="#a2ff00"/><stop offset="0.765" stop-color="#f1ff00"/><stop offset="0.796" stop-color="#fffb00"/><stop offset="0.874" stop-color="#ffc200"/><stop offset="0.983" stop-color="#ff7300"/><stop offset="1.000" stop-color="#ff6a00"/></linearGradient><linearGradient id="r58" href="#g"><stop offset="0.000" stop-color="#00ff1d"/><stop offset="0.258" stop-color="#00ff00"/><stop offset="0.412" stop-color="#04ff00"/><stop offset="0.496" stop-color="#1eff00"/><stop offset="0.578" stop-color="#4eff00"/><stop offset="0.672" stop-color="#a0ff00"/><stop offset="0.761" stop-color="#f1ff00"/><stop offset="0.792" stop-color="#fffb00"/><stop offset="0.868" stop-color="#ffc400"/><stop offset="0.977" stop-color="#ff7400"/><stop offset="1.000" stop-color="#ff6700"/></linearGradient><linearGradient id="r59" href="#g"><stop offset="0.000" stop-color="#00ff1f"/><stop offset="0.263" stop-color="#00ff00"/><stop offset="0.412" stop-color="#04ff00"/><stop offset="0.496" stop-color="#1fff00"/><stop offset="0.578" stop-color="#50ff00"/><stop offset="0.674" stop-color="#a5ff00"/><stop offset="0.758" stop-color="#f2ff00"/><stop offset="0.790" stop-color="#fffa00"/><stop offset="0.874" stop-color="#ffbb00"/><stop offset="0.979" stop-color="#ff6f00"/><stop offset="1.000" stop-color="#ff6500"/></linearGradient><linearGradient id="r60" href="#g"><stop offset="0.000" stop-color="#00ff20"/><stop offset="0.267" stop-color="#00ff00"/><stop offset="0.410" stop-color="#04ff00"/><stop offset="0.494" stop-color="#1eff00"/><stop offset="0.576" stop-color="#50ff00"/><stop offset="0.670" stop-color="#a4ff00"/><stop offset="0.754" stop-color="#f1ff00"/><stop offset="0.786" stop-color="#fffa00"/><stop offset="0.866" stop-color="#ffbe00"/><stop offset="0.971" stop-color="#ff7100"/><stop offset="1.000" stop-color="#ff6200"/></linearGradient><linearGradient id="r61" href="#g"><stop offset="0.000" stop-color="#00ff21"/><stop offset="0.271" stop-color="#00ff00"/><stop offset="0.410" stop-color="#04ff00"/><stop offset="0.492" stop-color="#1eff00"/><stop offset="0.571" stop-color="#4fff00"/><stop offset="0.666" stop-color="#a3ff00"/><stop offset="0.750" stop-color="#f1ff00"/><stop offset="0.782" stop-color="#fffb00"/><stop offset="0.857" stop-color="#ffc200"/><stop offset="0.962" stop-color="#ff7400"/><stop offset="1.000" stop-color="#ff5f00"/></linearGradient><linearGradient id="r62" href="#g"><stop offset="0.000" stop-color="#00ff22"/><stop offset="0.275" stop-color="#00ff00"/><stop offset="0.408" stop-color="#04ff00"/><stop offset="0.489" stop-color="#1eff00"/><stop offset="0.569" stop-color="#4fff00"/><stop offset="0.662" stop-color="#a2ff00"/><stop offset="0.746" stop-color="#f0ff00"/><stop offset="0.777" stop-color="#fffb00"/><stop offset="0.851" stop-color="#ffc400"/><stop offset="0.956" stop-color="#ff7400"/><stop offset="1.000" stop-color="#ff5c00"/></linearGradient><linearGradient id="r63" href="#g"><stop offset="0.000" stop-color="#00ff24"/><stop offset="0.279" stop-color="#00ff01"/><stop offset="0.408" stop-color="#04ff00"/><stop offset="0.489" stop-color="#1fff00"/><stop offset="0.569" stop-color="#50ff00"/><stop offset="0.664" stop-color="#a7ff00"/><stop offset="0.744" stop-color="#f1ff00"/><stop offset="0.775" stop-color="#fffa00"/><stop offset="0.857" stop-color="#ffbb00"/><stop offset="0.958" stop-color="#ff7000"/><stop offset="1.000" stop-color="#ff5900"/></linearGradient><linearGradient id="r64" href="#g"><stop offset="0.000" stop-color="#00ff25"/><stop offset="0.284" stop-color="#00ff01"/><stop offset="0.408" stop-color="#04ff00"/><stop offset="0.489" stop-color="#20ff00"/><stop offset="0.567" stop-color="#51ff00"/><stop offset="0.662" stop-color="#a7ff00"/><stop offset="0.742" stop-color="#f2ff00"/><stop offset="0.771" stop-color="#fffa00"/><stop offset="0.849" stop-color="#ffbe00"/><stop offset="0.952" stop-color="#ff7100"/><stop offset="1.000" stop-color="#ff5700"/></linearGradient><linearGradient id="r65" href="#g"><stop offset="0.000" stop-color="#00ff27"/><stop offset="0.286" stop-color="#00ff01"/><stop offset="0.405" stop-color="#04ff00"/><stop offset="0.485" stop-color="#1fff00"/><stop offset="0.563" stop-color="#4fff00"/><stop offset="0.655" stop-color="#a4ff00"/><stop offset="0.737" stop-color="#f2ff00"/><stop offset="0.767" stop-color="#fffb00"/><stop offset="0.840" stop-color="#ffc200"/><stop offset="0.943" stop-color="#ff7300"/><stop offset="1.000" stop-color="#ff5400"/></linearGradient><linearGradient id="r66" href="#g"><stop offset="0.000" stop-color="#00ff28"/><stop offset="0.290" stop-color="#00ff01"/><stop offset="0.405" stop-color="#04ff00"/><stop offset="0.485" stop-color="#1fff00"/><stop offset="0.563" stop-color="#51ff00"/><stop offset="0.655" stop-color="#a7ff00"/><stop offset="0.733" stop-color="#f1ff00"/><stop offset="0.763" stop-color="#fffb00"/><stop offset="0.834" stop-color="#ffc400"/><stop offset="0.937" stop-color="#ff7400"/><stop offset="1.000" stop-color="#ff5100"/></linearGradient><linearGradient id="r67" href="#g"><stop offset="0.000" stop-color="#00ff2a"/><stop offset="0.296" stop-color="#00ff01"/><stop offset="0.403" stop-color="#04ff00"/><stop offset="0.483" stop-color="#1fff00"/><stop offset="0.561" stop-color="#51ff00"/><stop offset="0.653" stop-color="#a8ff00"/><stop offset="0.731" stop-color="#f2ff00"/><stop offset="0.761" stop-color="#fffa00"/><stop offset="0.840" stop-color="#ffbb00"/><stop offset="0.939" stop-color="#ff6f00"/><stop offset="1.000" stop-color="#ff4f00"/></linearGradient><linearGradient id="r68" href="#g"><stop offset="0.000" stop-color="#00ff2b"/><stop offset="0.300" stop-color="#00ff01"/><stop offset="0.403" stop-color="#04ff00"/><stop offset="0.481" stop-color="#1fff00"/><stop offset="0.557" stop-color="#50ff00"/><stop offset="0.647" stop-color="#a4ff00"/><stop offset="0.727" stop-color="#f2ff00"/><stop offset="0.756" stop-color="#fffa00"/><stop offset="0.832" stop-color="#ffbe00"/><stop offset="0.931" stop-color="#ff7200"/><stop offset="1.000" stop-color="#ff4c00"/></linearGradient><linearGradient id="r69" href="#g"><stop offset="0.000" stop-color="#00ff2d"/><stop offset="0.305" stop-color="#00ff01"/><stop offset="0.403" stop-color="#05ff00"/><stop offset="0.481" stop-color="#20ff00"/><stop offset="0.557" stop-color="#52ff00"/><stop offset="0.647" stop-color="#a8ff00"/><stop offset="0.723" stop-color="#f1ff00"/><stop offset="0.752" stop-color="#fffa00"/><stop offset="0.826" stop-color="#ffc000"/><stop offset="0.924" stop-color="#ff7300"/><stop offset="1.000" stop-color="#ff4900"/></linearGradient><linearGradient id="r70" href="#g"><stop offset="0.000" stop-color="#00ff2e"/><stop offset="0.309" stop-color="#00ff01"/><stop offset="0.403" stop-color="#05ff00"/><stop offset="0.481" stop-color="#21ff00"/><stop offset="0.557" stop-color="#53ff00"/><stop offset="0.649" stop-color="#adff00"/><stop offset="0.721" stop-color="#f2ff00"/><stop offset="0.750" stop-color="#fffa00"/><stop offset="0.834" stop-color="#ffb500"/><stop offset="0.929" stop-color="#ff6d00"/><stop offset="1.000" stop-color="#ff4700"/></linearGradient><linearGradient id="r71" href="#g"><stop offset="0.000" stop-color="#00ff30"/><stop offset="0.313" stop-color="#00ff01"/><stop offset="0.401" stop-color="#05ff00"/><stop offset="0.479" stop-color="#21ff00"/><stop offset="0.555" stop-color="#54ff00"/><stop offset="0.647" stop-color="#aeff00"/><stop offset="0.718" stop-color="#f3ff00"/><stop offset="0.748" stop-color="#fff900"/><stop offset="0.910" stop-color="#ff7600"/><stop offset="0.998" stop-color="#ff4500"/><stop offset="1.000" stop-color="#ff4400"/></linearGradient><linearGradient id="r72" href="#g"><stop offset="0.000" stop-color="#00ff32"/><stop offset="0.317" stop-color="#00ff02"/><stop offset="0.401" stop-color="#05ff00"/><stop offset="0.477" stop-color="#21ff00"/><stop offset="0.550" stop-color="#52ff00"/><stop offset="0.641" stop-color="#aaff00"/><stop offset="0.712" stop-color="#f1ff00"/><stop offset="0.742" stop-color="#fffa00"/><stop offset="0.815" stop-color="#ffbe00"/><stop offset="0.912" stop-color="#ff7100"/><stop offset="0.998" stop-color="#ff4200"/><stop offset="1.000" stop-color="#ff4200"/></linearGradient><linearGradient id="r73" href="#g"><stop offset="0.000" stop-color="#00ff34"/><stop offset="0.324" stop-color="#00ff02"/><stop offset="0.403" stop-color="#06ff00"/><stop offset="0.479" stop-color="#23ff00"/><stop offset="0.553" stop-color="#56ff00"/><stop offset="0.647" stop-color="#b4ff00"/><stop offset="0.712" stop-color="#f4ff00"/><stop offset="0.742" stop-color="#fff800"/><stop offset="0.899" stop-color="#ff7600"/><stop offset="0.992" stop-color="#ff4200"/><stop offset="1.000" stop-color="#ff3f00"/></linearGradient><linearGradient id="r74" href="#g"><stop offset="0.000" stop-color="#00ff35"/><stop offset="0.328" stop-color="#00ff02"/><stop offset="0.403" stop-color="#06ff00"/><stop offset="0.479" stop-color="#24ff00"/><stop offset="0.553" stop-color="#58ff00"/><stop offset="0.649" stop-color="#baff00"/><stop offset="0.710" stop-color="#f5ff00"/><stop offset="0.739" stop-color="#fff700"/><stop offset="0.893" stop-color="#ff7700"/><stop offset="0.985" stop-color="#ff4200"/><stop offset="1.000" stop-color="#ff3d00"/></linearGradient><linearGradient id="r75" href="#g"><stop offset="0.000" stop-color="#00ff37"/><stop offset="0.334" stop-color="#00ff02"/><stop offset="0.405" stop-color="#07ff00"/><stop offset="0.479" stop-color="#25ff00"/><stop offset="0.553" stop-color="#5aff00"/><stop offset="0.655" stop-color="#c4ff00"/><stop offset="0.710" stop-color="#f7ff00"/><stop offset="0.739" stop-color="#fff400"/><stop offset="0.887" stop-color="#ff7800"/><stop offset="0.979" stop-color="#ff4300"/><stop offset="1.000" stop-color="#ff3b00"/></linearGradient><linearGradient id="r76" href="#g"><stop offset="0.000" stop-color="#00ff39"/><stop offset="0.338" stop-color="#00ff02"/><stop offset="0.408" stop-color="#08ff00"/><stop offset="0.481" stop-color="#27ff00"/><stop offset="0.555" stop-color="#5eff00"/><stop offset="0.697" stop-color="#f0ff00"/><stop offset="0.727" stop-color="#fffa00"/><stop offset="0.798" stop-color="#ffbe00"/><stop offset="0.893" stop-color="#ff7100"/><stop offset="0.985" stop-color="#ff3e00"/><stop offset="1.000" stop-color="#ff3800"/></linearGradient><linearGradient id="r77" href="#g"><stop offset="0.000" stop-color="#00ff3b"/><stop offset="0.345" stop-color="#00ff02"/><stop offset="0.414" stop-color="#0aff00"/><stop offset="0.487" stop-color="#2cff00"/><stop offset="0.559" stop-color="#64ff00"/><stop offset="0.693" stop-color="#f0ff00"/><stop offset="0.723" stop-color="#fffa00"/><stop offset="0.792" stop-color="#ffc000"/><stop offset="0.884" stop-color="#ff7300"/><stop offset="0.977" stop-color="#ff3f00"/><stop offset="1.000" stop-color="#ff3600"/></linearGradient><linearGradient id="r78" href="#g"><stop offset="0.000" stop-color="#00ff3d"/><stop offset="0.349" stop-color="#00ff02"/><stop offset="0.418" stop-color="#0cff00"/><stop offset="0.489" stop-color="#2fff00"/><stop offset="0.561" stop-color="#69ff00"/><stop offset="0.689" stop-color="#efff00"/><stop offset="0.718" stop-color="#fffa00"/><stop offset="0.784" stop-color="#ffc400"/><stop offset="0.878" stop-color="#ff7400"/><stop offset="0.968" stop-color="#ff4000"/><stop offset="1.000" stop-color="#ff3400"/></linearGradient><linearGradient id="r79" href="#g"><stop offset="0.000" stop-color="#00ff3f"/><stop offset="0.355" stop-color="#00ff02"/><stop offset="0.424" stop-color="#0eff00"/><stop offset="0.496" stop-color="#34ff00"/><stop offset="0.567" stop-color="#71ff00"/><stop offset="0.685" stop-color="#efff00"/><stop offset="0.714" stop-color="#fefb00"/><stop offset="0.777" stop-color="#ffc600"/><stop offset="0.872" stop-color="#ff7500"/><stop offset="0.962" stop-color="#ff4000"/><stop offset="1.000" stop-color="#ff3200"/></linearGradient><linearGradient id="r80" href="#g"><stop offset="0.000" stop-color="#00ff41"/><stop offset="0.359" stop-color="#00ff02"/><stop offset="0.431" stop-color="#11ff00"/><stop offset="0.502" stop-color="#3aff00"/><stop offset="0.576" stop-color="#7dff00"/><stop offset="0.681" stop-color="#eeff00"/><stop offset="0.710" stop-color="#fefb00"/><stop offset="0.769" stop-color="#ffca00"/><stop offset="0.863" stop-color="#ff7700"/><stop offset="0.952" stop-color="#ff4300"/><stop offset="1.000" stop-color="#ff2f00"/></linearGradient><linearGradient id="r81" href="#g"><stop offset="0.000" stop-color="#00ff43"/><stop offset="0.366" stop-color="#01ff02"/><stop offset="0.437" stop-color="#15ff00"/><stop offset="0.506" stop-color="#3fff00"/><stop offset="0.580" stop-color="#84ff00"/><stop offset="0.679" stop-color="#efff00"/><stop offset="0.708" stop-color="#fffa00"/><stop offset="0.775" stop-color="#ffc000"/><stop offset="0.866" stop-color="#ff7200"/><stop offset="0.956" stop-color="#ff3e00"/><stop offset="1.000" stop-color="#ff2d00"/></linearGradient><linearGradient id="r82" href="#g"><stop offset="0.000" stop-color="#00ff45"/><stop offset="0.372" stop-color="#02ff02"/><stop offset="0.443" stop-color="#19ff00"/><stop offset="0.513" stop-color="#46ff00"/><stop offset="0.588" stop-color="#90ff00"/><stop offset="0.674" stop-color="#efff00"/><stop offset="0.704" stop-color="#fffa00"/><stop offset="0.767" stop-color="#ffc400"/><stop offset="0.857" stop-color="#ff7500"/><stop offset="0.945" stop-color="#ff4000"/><stop offset="1.000" stop-color="#ff2b00"/></linearGradient><linearGradient id="r83" href="#g"><stop offset="0.000" stop-color="#00ff47"/><stop offset="0.378" stop-color="#03ff02"/><stop offset="0.450" stop-color="#1dff00"/><stop offset="0.519" stop-color="#4dff00"/><stop offset="0.597" stop-color="#9dff00"/><stop offset="0.672" stop-color="#f0ff00"/><stop offset="0.700" stop-color="#fefb00"/><stop offset="0.761" stop-color="#ffc600"/><stop offset="0.851" stop-color="#ff7600"/><stop offset="0.939" stop-color="#ff4100"/><stop offset="1.000" stop-color="#ff2900"/></linearGradient><linearGradient id="r84" href="#g"><stop offset="0.000" stop-color="#00ff4a"/><stop offset="0.376" stop-color="#03ff03"/><stop offset="0.445" stop-color="#1bff00"/><stop offset="0.513" stop-color="#49ff00"/><stop offset="0.588" stop-color="#97ff00"/><stop offset="0.668" stop-color="#efff00"/><stop offset="0.695" stop-color="#fefb00"/><stop offset="0.754" stop-color="#ffc800"/><stop offset="0.847" stop-color="#ff7500"/><stop offset="0.933" stop-color="#ff4100"/><stop offset="1.000" stop-color="#ff2700"/></linearGradient><linearGradient id="r85" href="#g"><stop offset="0.000" stop-color="#00ff4c"/><stop offset="0.376" stop-color="#03ff04"/><stop offset="0.445" stop-color="#1cff00"/><stop offset="0.513" stop-color="#4bff00"/><stop offset="0.588" stop-color="#9aff00"/><stop offset="0.664" stop-color="#efff00"/><stop offset="0.691" stop-color="#fefb00"/><stop offset="0.746" stop-color="#ffcc00"/><stop offset="0.838" stop-color="#ff7800"/><stop offset="0.924" stop-color="#ff4200"/><stop offset="1.000" stop-color="#ff2500"/></linearGradient><linearGradient id="r86" href="#g"><stop offset="0.000" stop-color="#00ff4e"/><stop offset="0.374" stop-color="#03ff05"/><stop offset="0.443" stop-color="#1cff00"/><stop offset="0.511" stop-color="#4cff00"/><stop offset="0.586" stop-color="#9bff00"/><stop offset="0.662" stop-color="#f0ff00"/><stop offset="0.689" stop-color="#fefa00"/><stop offset="0.750" stop-color="#ffc400"/><stop offset="0.838" stop-color="#ff7400"/><stop offset="0.924" stop-color="#ff4000"/><stop offset="1.000" stop-color="#ff2300"/></linearGradient><linearGradient id="r87" href="#g"><stop offset="0.000" stop-color="#00ff50"/><stop offset="0.374" stop-color="#03ff06"/><stop offset="0.443" stop-color="#1dff00"/><stop offset="0.508" stop-color="#4cff00"/><stop offset="0.584" stop-color="#9cff00"/><stop offset="0.658" stop-color="#efff00"/><stop offset="0.685" stop-color="#fefa00"/><stop offset="0.744" stop-color="#ffc600"/><stop offset="0.832" stop-color="#ff7500"/><stop offset="0.916" stop-color="#ff4100"/><stop offset="1.000" stop-color="#ff2100"/></linearGradient><linearGradient id="r88" href="#g"><stop offset="0.000" stop-color="#00ff53"/><stop offset="0.372" stop-color="#03ff07"/><stop offset="0.439" stop-color="#1cff00"/><stop offset="0.504" stop-color="#4aff00"/><stop offset="0.578" stop-color="#98ff00"/><stop offset="0.653" stop-color="#eeff00"/><stop offset="0.681" stop-color="#fefb00"/><stop offset="0.737" stop-color="#ffc800"/><stop offset="0.826" stop-color="#ff7600"/><stop offset="0.910" stop-color="#ff4100"/><stop offset="1.000" stop-color="#ff1f00"/></linearGradient><linearGradient id="r89" href="#g"><stop offset="0.000" stop-color="#00ff55"/><stop offset="0.372" stop-color="#03ff08"/><stop offset="0.439" stop-color="#1dff00"/><stop offset="0.504" stop-color="#4cff00"/><stop offset="0.578" stop-color="#9bff00"/><stop offset="0.651" stop-color="#f0ff00"/><stop offset="0.679" stop-color="#fffa00"/><stop offset="0.742" stop-color="#ffbf00"/><stop offset="0.826" stop-color="#ff7300"/><stop offset="0.910" stop-color="#ff3f00"/><stop offset="1.000" stop-color="#ff1d00"/></linearGradient><linearGradient id="r90" href="#g"><stop offset="0.000" stop-color="#00ff58"/><stop offset="0.370" stop-color="#03ff0a"/><stop offset="0.437" stop-color="#1cff01"/><stop offset="0.502" stop-color="#4cff00"/><stop offset="0.576" stop-color="#9cff00"/><stop offset="0.647" stop-color="#efff00"/><stop offset="0.674" stop-color="#fefa00"/><stop offset="0.733" stop-color="#ffc400"/><stop offset="0.819" stop-color="#ff7400"/><stop offset="0.901" stop-color="#ff4000"/><stop offset="0.998" stop-color="#ff1c00"/><stop offset="1.000" stop-color="#ff1c00"/></linearGradient><linearGradient id="r91" href="#g"><stop offset="0.000" stop-color="#00ff5a"/><stop offset="0.368" stop-color="#03ff0c"/><stop offset="0.433" stop-color="#1bff02"/><stop offset="0.496" stop-color="#49ff00"/><stop offset="0.567" stop-color="#96ff00"/><stop offset="0.643" stop-color="#eeff00"/><stop offset="0.670" stop-color="#fefa00"/><stop offset="0.727" stop-color="#ffc600"/><stop offset="0.813" stop-color="#ff7500"/><stop offset="0.895" stop-color="#ff4000"/><stop offset="0.994" stop-color="#ff1b00"/><stop offset="1.000" stop-color="#ff1a00"/></linearGradient><linearGradient id="r92" href="#g"><stop offset="0.000" stop-color="#00ff5d"/><stop offset="0.368" stop-color="#03ff0d"/><stop offset="0.433" stop-color="#1cff02"/><stop offset="0.496" stop-color="#4bff00"/><stop offset="0.567" stop-color="#99ff00"/><stop offset="0.641" stop-color="#f0ff00"/><stop offset="0.666" stop-color="#fefb00"/><stop offset="0.721" stop-color="#ffc800"/><stop offset="0.807" stop-color="#ff7600"/><stop offset="0.889" stop-color="#ff4100"/><stop offset="0.987" stop-color="#ff1b00"/><stop offset="1.000" stop-color="#ff1800"/></linearGradient><linearGradient id="r93" href="#g"><stop offset="0.000" stop-color="#00ff60"/><stop offset="0.366" stop-color="#03ff0f"/><stop offset="0.431" stop-color="#1cff03"/><stop offset="0.494" stop-color="#4bff00"/><stop offset="0.565" stop-color="#9aff00"/><stop offset="0.637" stop-color="#efff00"/><stop offset="0.662" stop-color="#fefb00"/><stop offset="0.714" stop-color="#ffca00"/><stop offset="0.800" stop-color="#ff7700"/><stop offset="0.880" stop-color="#ff4200"/><stop offset="0.977" stop-color="#ff1c00"/><stop offset="1.000" stop-color="#ff1700"/></linearGradient><linearGradient id="r94" href="#g"><stop offset="0.000" stop-color="#00ff62"/><stop offset="0.317" stop-color="#00ff1c"/><stop offset="0.380" stop-color="#07ff0e"/><stop offset="0.443" stop-color="#24ff03"/><stop offset="0.506" stop-color="#59ff00"/><stop offset="0.592" stop-color="#c1ff00"/><stop offset="0.641" stop-color="#f6ff00"/><stop offset="0.666" stop-color="#fff600"/><stop offset="0.794" stop-color="#ff7800"/><stop offset="0.874" stop-color="#ff4300"/><stop offset="0.971" stop-color="#ff1c00"/><stop offset="1.000" stop-color="#ff1500"/></linearGradient><linearGradient id="r95" href="#g"><stop offset="0.000" stop-color="#00ff65"/><stop offset="0.298" stop-color="#00ff23"/><stop offset="0.372" stop-color="#05ff11"/><stop offset="0.435" stop-color="#20ff05"/><stop offset="0.496" stop-color="#51ff00"/><stop offset="0.569" stop-color="#a7ff00"/><stop offset="0.632" stop-color="#f2ff00"/><stop offset="0.658" stop-color="#fff900"/><stop offset="0.725" stop-color="#ffb600"/><stop offset="0.803" stop-color="#ff6e00"/><stop offset="0.882" stop-color="#ff3b00"/><stop offset="0.983" stop-color="#ff1700"/><stop offset="1.000" stop-color="#ff1300"/></linearGradient><linearGradient id="r96" href="#g"><stop offset="0.000" stop-color="#00ff68"/><stop offset="0.284" stop-color="#00ff29"/><stop offset="0.368" stop-color="#04ff14"/><stop offset="0.431" stop-color="#1fff06"/><stop offset="0.492" stop-color="#4fff00"/><stop offset="0.563" stop-color="#a2ff00"/><stop offset="0.628" stop-color="#f1ff00"/><stop offset="0.653" stop-color="#fff900"/><stop offset="0.716" stop-color="#ffba00"/><stop offset="0.794" stop-color="#ff7000"/><stop offset="0.874" stop-color="#ff3d00"/><stop offset="0.973" stop-color="#ff1800"/><stop offset="1.000" stop-color="#ff1200"/></linearGradient><linearGradient id="r97" href="#g"><stop offset="0.000" stop-color="#00ff6b"/><stop offset="0.275" stop-color="#00ff2e"/><stop offset="0.366" stop-color="#04ff16"/><stop offset="0.429" stop-color="#1fff08"/><stop offset="0.489" stop-color="#50ff00"/><stop offset="0.561" stop-color="#a4ff00"/><stop offset="0.624" stop-color="#f0ff00"/><stop offset="0.649" stop-color="#fef900"/><stop offset="0.708" stop-color="#ffbf00"/><stop offset="0.788" stop-color="#ff7100"/><stop offset="0.866" stop-color="#ff3e00"/><stop offset="0.962" stop-color="#ff1900"/><stop offset="1.000" stop-color="#ff1100"/></linearGradient><linearGradient id="r98" href="#g"><stop offset="0.000" stop-color="#00ff6d"/><stop offset="0.267" stop-color="#00ff32"/><stop offset="0.366" stop-color="#04ff18"/><stop offset="0.426" stop-color="#1eff0a"/><stop offset="0.487" stop-color="#50ff01"/><stop offset="0.559" stop-color="#a5ff00"/><stop offset="0.620" stop-color="#f0ff00"/><stop offset="0.645" stop-color="#fefa00"/><stop offset="0.702" stop-color="#ffc100"/><stop offset="0.782" stop-color="#ff7200"/><stop offset="0.859" stop-color="#ff3f00"/><stop offset="0.954" stop-color="#ff1a00"/><stop offset="1.000" stop-color="#ff0f00"/></linearGradient><linearGradient id="r99" href="#g"><stop offset="0.000" stop-color="#00ff70"/><stop offset="0.258" stop-color="#00ff37"/><stop offset="0.363" stop-color="#04ff1b"/><stop offset="0.424" stop-color="#1eff0c"/><stop offset="0.483" stop-color="#4eff01"/><stop offset="0.553" stop-color="#a0ff00"/><stop offset="0.616" stop-color="#efff00"/><stop offset="0.641" stop-color="#fefa00"/><stop offset="0.693" stop-color="#ffc600"/><stop offset="0.773" stop-color="#ff7500"/><stop offset="0.849" stop-color="#ff4100"/><stop offset="0.941" stop-color="#ff1b00"/><stop offset="1.000" stop-color="#ff0e00"/></linearGradient><linearGradient id="r100" href="#g"><stop offset="0.000" stop-color="#00ff73"/><stop offset="0.254" stop-color="#00ff3b"/><stop offset="0.361" stop-color="#04ff1e"/><stop offset="0.422" stop-color="#1eff0e"/><stop offset="0.481" stop-color="#4eff02"/><stop offset="0.550" stop-color="#a1ff00"/><stop offset="0.613" stop-color="#f0ff00"/><stop offset="0.639" stop-color="#fff900"/><stop offset="0.700" stop-color="#ffba00"/><stop offset="0.775" stop-color="#ff7000"/><stop offset="0.851" stop-color="#ff3d00"/><stop offset="0.945" stop-color="#ff1800"/><stop offset="1.000" stop-color="#ff0c00"/></linearGradient><linearGradient id="r101" href="#g"><stop offset="0.000" stop-color="#00ff76"/><stop offset="0.248" stop-color="#00ff40"/><stop offset="0.359" stop-color="#04ff21"/><stop offset="0.420" stop-color="#1eff11"/><stop offset="0.479" stop-color="#4eff04"/><stop offset="0.546" stop-color="#a0ff00"/><stop offset="0.609" stop-color="#f0ff00"/><stop offset="0.634" stop-color="#fef900"/><stop offset="0.691" stop-color="#ffbf00"/><stop offset="0.767" stop-color="#ff7200"/><stop offset="0.842" stop-color="#ff3f00"/><stop offset="0.935" stop-color="#ff1900"/><stop offset="1.000" stop-color="#ff0b00"/></linearGradient><linearGradient id="r102" href="#g"><stop offset="0.000" stop-color="#00ff79"/><stop offset="0.244" stop-color="#00ff44"/><stop offset="0.359" stop-color="#04ff24"/><stop offset="0.418" stop-color="#1eff13"/><stop offset="0.477" stop-color="#4eff05"/><stop offset="0.544" stop-color="#a1ff00"/><stop offset="0.605" stop-color="#efff00"/><stop offset="0.630" stop-color="#fefa00"/><stop offset="0.685" stop-color="#ffc100"/><stop offset="0.761" stop-color="#ff7400"/><stop offset="0.834" stop-color="#ff4000"/><stop offset="0.924" stop-color="#ff1b00"/><stop offset="1.000" stop-color="#ff0a00"/></linearGradient><linearGradient id="r103" href="#g"><stop offset="0.000" stop-color="#00ff7d"/><stop offset="0.239" stop-color="#00ff49"/><stop offset="0.357" stop-color="#04ff27"/><stop offset="0.416" stop-color="#1dff16"/><stop offset="0.473" stop-color="#4cff07"/><stop offset="0.538" stop-color="#9cff00"/><stop offset="0.601" stop-color="#eeff00"/><stop offset="0.626" stop-color="#fefa00"/><stop offset="0.676" stop-color="#ffc600"/><stop offset="0.754" stop-color="#ff7500"/><stop offset="0.828" stop-color="#ff4000"/><stop offset="0.918" stop-color="#ff1b00"/><stop offset="1.000" stop-color="#ff0900"/></linearGradient><linearGradient id="r104" href="#g"><stop offset="0.000" stop-color="#00ff80"/><stop offset="0.237" stop-color="#00ff4c"/><stop offset="0.355" stop-color="#04ff2b"/><stop offset="0.414" stop-color="#1dff19"/><stop offset="0.471" stop-color="#4dff09"/><stop offset="0.536" stop-color="#9dff00"/><stop offset="0.599" stop-color="#efff00"/><stop offset="0.622" stop-color="#fefa00"/><stop offset="0.670" stop-color="#ffc800"/><stop offset="0.748" stop-color="#ff7600"/><stop offset="0.821" stop-color="#ff4100"/><stop offset="0.910" stop-color="#ff1b00"/><stop offset="1.000" stop-color="#ff0800"/></linearGradient><linearGradient id="r105" href="#g"><stop offset="0.000" stop-color="#00ff83"/><stop offset="0.233" stop-color="#00ff51"/><stop offset="0.355" stop-color="#04ff2e"/><stop offset="0.414" stop-color="#1eff1b"/><stop offset="0.471" stop-color="#4fff0b"/><stop offset="0.536" stop-color="#a1ff00"/><stop offset="0.595" stop-color="#efff00"/><stop offset="0.618" stop-color="#fefa00"/><stop offset="0.664" stop-color="#ffcb00"/><stop offset="0.742" stop-color="#ff7700"/><stop offset="0.813" stop-color="#ff4200"/><stop offset="0.901" stop-color="#ff1c00"/><stop offset="1.000" stop-color="#ff0700"/></linearGradient><linearGradient id="r106" href="#g"><stop offset="0.000" stop-color="#00ff86"/><stop offset="0.231" stop-color="#00ff55"/><stop offset="0.353" stop-color="#04ff31"/><stop offset="0.410" stop-color="#1dff1f"/><stop offset="0.466" stop-color="#4dff0e"/><stop offset="0.532" stop-color="#9fff01"/><stop offset="0.592" stop-color="#f0ff00"/><stop offset="0.616" stop-color="#fef900"/><stop offset="0.668" stop-color="#ffc100"/><stop offset="0.742" stop-color="#ff7300"/><stop offset="0.813" stop-color="#ff3f00"/><stop offset="0.901" stop-color="#ff1a00"/><stop offset="1.000" stop-color="#ff0600"/></linearGradient><linearGradient id="r107" href="#g"><stop offset="0.000" stop-color="#00ff8a"/><stop offset="0.229" stop-color="#00ff59"/><stop offset="0.351" stop-color="#03ff35"/><stop offset="0.408" stop-color="#1cff23"/><stop offset="0.462" stop-color="#4bff12"/><stop offset="0.525" stop-color="#9bff02"/><stop offset="0.588" stop-color="#efff00"/><stop offset="0.611" stop-color="#fefa00"/><stop offset="0.660" stop-color="#ffc600"/><stop offset="0.733" stop-color="#ff7600"/><stop offset="0.805" stop-color="#ff4100"/><stop offset="0.891" stop-color="#ff1b00"/><stop offset="1.000" stop-color="#ff0500"/></linearGradient><linearGradient id="r108" href="#g"><stop offset="0.000" stop-color="#00ff8d"/><stop offset="0.225" stop-color="#00ff5e"/><stop offset="0.351" stop-color="#04ff39"/><stop offset="0.408" stop-color="#1eff26"/><stop offset="0.462" stop-color="#4dff14"/><stop offset="0.525" stop-color="#9fff04"/><stop offset="0.584" stop-color="#efff00"/><stop offset="0.607" stop-color="#fefa00"/><stop offset="0.653" stop-color="#ffc900"/><stop offset="0.727" stop-color="#ff7700"/><stop offset="0.796" stop-color="#ff4300"/><stop offset="0.880" stop-color="#ff1c00"/><stop offset="0.994" stop-color="#ff0400"/><stop offset="1.000" stop-color="#ff0400"/></linearGradient><linearGradient id="r109" href="#g"><stop offset="0.000" stop-color="#00ff90"/><stop offset="0.225" stop-color="#00ff62"/><stop offset="0.349" stop-color="#03ff3d"/><stop offset="0.405" stop-color="#1dff2a"/><stop offset="0.460" stop-color="#4eff17"/><stop offset="0.523" stop-color="#a0ff05"/><stop offset="0.582" stop-color="#f0ff00"/><stop offset="0.605" stop-color="#fef900"/><stop offset="0.658" stop-color="#ffbe00"/><stop offset="0.729" stop-color="#ff7100"/><stop offset="0.798" stop-color="#ff3e00"/><stop offset="0.884" stop-color="#ff1900"/><stop offset="0.998" stop-color="#ff0300"/><stop offset="1.000" stop-color="#ff0300"/></linearGradient><linearGradient id="r110" href="#g"><stop offset="0.000" stop-color="#00ff94"/><stop offset="0.223" stop-color="#00ff66"/><stop offset="0.349" stop-color="#04ff41"/><stop offset="0.403" stop-color="#1dff2e"/><stop offset="0.458" stop-color="#4eff1b"/><stop offset="0.521" stop-color="#a1ff07"/><stop offset="0.578" stop-color="#efff00"/><stop offset="0.601" stop-color="#fef900"/><stop offset="0.651" stop-color="#ffc100"/><stop offset="0.723" stop-color="#ff7200"/><stop offset="0.792" stop-color="#ff3e00"/><stop offset="0.878" stop-color="#ff1900"/><stop offset="0.994" stop-color="#ff0300"/><stop offset="1.000" stop-color="#ff0200"/></linearGradient><linearGradient id="r111" href="#g"><stop offset="0.000" stop-color="#00ff97"/><stop offset="0.221" stop-color="#00ff6b"/><stop offset="0.347" stop-color="#04ff46"/><stop offset="0.401" stop-color="#1dff33"/><stop offset="0.454" stop-color="#4cff1f"/><stop offset="0.515" stop-color="#9cff0b"/><stop offset="0.574" stop-color="#efff00"/><stop offset="0.597" stop-color="#fef900"/><stop offset="0.643" stop-color="#ffc600"/><stop offset="0.714" stop-color="#ff7500"/><stop offset="0.782" stop-color="#ff4100"/><stop offset="0.863" stop-color="#ff1c00"/><stop offset="0.975" stop-color="#ff0400"/><stop offset="1.000" stop-color="#ff0200"/></linearGradient><linearGradient id="r112" href="#g"><stop offset="0.000" stop-color="#00ff9b"/><stop offset="0.221" stop-color="#00ff6f"/><stop offset="0.345" stop-color="#03ff4a"/><stop offset="0.399" stop-color="#1dff37"/><stop offset="0.452" stop-color="#4cff23"/><stop offset="0.513" stop-color="#9dff0e"/><stop offset="0.569" stop-color="#eeff01"/><stop offset="0.592" stop-color="#fefa00"/><stop offset="0.637" stop-color="#ffc900"/><stop offset="0.708" stop-color="#ff7700"/><stop offset="0.775" stop-color="#ff4200"/><stop offset="0.857" stop-color="#ff1c00"/><stop offset="0.966" stop-color="#ff0400"/><stop offset="1.000" stop-color="#ff0100"/></linearGradient><linearGradient id="r113" href="#g"><stop offset="0.000" stop-color="#00ff9e"/><stop offset="0.218" stop-color="#00ff74"/><stop offset="0.345" stop-color="#04ff4f"/><stop offset="0.399" stop-color="#1eff3b"/><stop offset="0.452" stop-color="#4fff27"/><stop offset="0.513" stop-color="#a2ff10"/><stop offset="0.567" stop-color="#efff02"/><stop offset="0.590" stop-color="#fef900"/><stop offset="0.641" stop-color="#ffbe00"/><stop offset="0.708" stop-color="#ff7200"/><stop offset="0.775" stop-color="#ff3e00"/><stop offset="0.857" stop-color="#ff1a00"/><stop offset="0.968" stop-color="#ff0300"/><stop offset="1.000" stop-color="#ff0100"/></linearGradient><linearGradient id="r114" href="#g"><stop offset="0.000" stop-color="#00ffa2"/><stop offset="0.218" stop-color="#00ff78"/><stop offset="0.342" stop-color="#03ff54"/><stop offset="0.395" stop-color="#1cff41"/><stop offset="0.445" stop-color="#4aff2d"/><stop offset="0.504" stop-color="#99ff16"/><stop offset="0.563" stop-color="#eeff04"/><stop offset="0.586" stop-color="#fef900"/><stop offset="0.634" stop-color="#ffc100"/><stop offset="0.702" stop-color="#ff7300"/><stop offset="0.767" stop-color="#ff4000"/><stop offset="0.849" stop-color="#ff1a00"/><stop offset="0.958" stop-color="#ff0300"/><stop offset="1.000" stop-color="#ff0000"/></linearGradient><linearGradient id="r115" href="#g"><stop offset="0.000" stop-color="#00ffa6"/><stop offset="0.218" stop-color="#00ff7c"/><stop offset="0.342" stop-color="#04ff58"/><stop offset="0.395" stop-color="#1dff45"/><stop offset="0.445" stop-color="#4dff31"/><stop offset="0.504" stop-color="#9eff19"/><stop offset="0.559" stop-color="#eeff06"/><stop offset="0.582" stop-color="#fef901"/><stop offset="0.626" stop-color="#ffc600"/><stop offset="0.695" stop-color="#ff7500"/><stop offset="0.761" stop-color="#ff4100"/><stop offset="0.840" stop-color="#ff1b00"/><stop offset="0.947" stop-color="#ff0400"/><stop offset="1.000" stop-color="#ff0000"/></linearGradient><linearGradient id="r116" href="#g"><stop offset="0.000" stop-color="#00ffa9"/><stop offset="0.218" stop-color="#00ff81"/><stop offset="0.340" stop-color="#04ff5e"/><stop offset="0.393" stop-color="#1dff4b"/><stop offset="0.443" stop-color="#4dff37"/><stop offset="0.502" stop-color="#9fff1e"/><stop offset="0.557" stop-color="#efff09"/><stop offset="0.578" stop-color="#fef903"/><stop offset="0.620" stop-color="#ffc900"/><stop offset="0.689" stop-color="#ff7600"/><stop offset="0.754" stop-color="#ff4100"/><stop offset="0.834" stop-color="#ff1b00"/><stop offset="0.941" stop-color="#ff0400"/><stop offset="1.000" stop-color="#ff0000"/></linearGradient><linearGradient id="r117" href="#g"><stop offset="0.000" stop-color="#00ffad"/><stop offset="0.218" stop-color="#00ff85"/><stop offset="0.338" stop-color="#03ff63"/><stop offset="0.389" stop-color="#1bff51"/><stop offset="0.439" stop-color="#4bff3d"/><stop offset="0.496" stop-color="#9aff24"/><stop offset="0.553" stop-color="#eeff0d"/><stop offset="0.574" stop-color="#fefa06"/><stop offset="0.613" stop-color="#ffcc00"/><stop offset="0.683" stop-color="#ff7800"/><stop offset="0.746" stop-color="#ff4300"/><stop offset="0.824" stop-color="#ff1c00"/><stop offset="0.926" stop-color="#ff0400"/><stop offset="1.000" stop-color="#ff0000"/></linearGradient><linearGradient id="r118" href="#g"><stop offset="0.000" stop-color="#00ffb1"/><stop offset="0.218" stop-color="#00ff8a"/><stop offset="0.338" stop-color="#04ff68"/><stop offset="0.389" stop-color="#1dff56"/><stop offset="0.437" stop-color="#4bff43"/><stop offset="0.494" stop-color="#9bff2a"/><stop offset="0.548" stop-color="#edff11"/><stop offset="0.569" stop-color="#fefa09"/><stop offset="0.607" stop-color="#ffcf00"/><stop offset="0.676" stop-color="#ff7900"/><stop offset="0.739" stop-color="#ff4300"/><stop offset="0.815" stop-color="#ff1d00"/><stop offset="0.918" stop-color="#ff0500"/><stop offset="1.000" stop-color="#ff0000"/></linearGradient><linearGradient id="r119" href="#g"><stop offset="0.000" stop-color="#00ffb4"/><stop offset="0.218" stop-color="#00ff8f"/><stop offset="0.336" stop-color="#03ff6e"/><stop offset="0.387" stop-color="#1cff5c"/><stop offset="0.435" stop-color="#4bff49"/><stop offset="0.489" stop-color="#99ff30"/><stop offset="0.546" stop-color="#efff16"/><stop offset="0.567" stop-color="#fef90c"/><stop offset="0.609" stop-color="#ffc601"/><stop offset="0.674" stop-color="#ff7600"/><stop offset="0.737" stop-color="#ff4100"/><stop offset="0.813" stop-color="#ff1b00"/><stop offset="0.916" stop-color="#ff0400"/><stop offset="1.000" stop-color="#ff0000"/></linearGradient><linearGradient id="r120" href="#g"><stop offset="0.000" stop-color="#00ffb8"/><stop offset="0.218" stop-color="#00ff94"/><stop offset="0.336" stop-color="#04ff74"/><stop offset="0.387" stop-color="#1eff62"/><stop offset="0.435" stop-color="#4eff4e"/><stop offset="0.492" stop-color="#a1ff34"/><stop offset="0.542" stop-color="#eeff1b"/><stop offset="0.563" stop-color="#fef911"/><stop offset="0.603" stop-color="#ffc902"/><stop offset="0.668" stop-color="#ff7800"/><stop offset="0.729" stop-color="#ff4300"/><stop offset="0.803" stop-color="#ff1d00"/><stop offset="0.901" stop-color="#ff0500"/><stop offset="1.000" stop-color="#ff0000"/></linearGradient><linearGradient id="r121" href="#g"><stop offset="0.000" stop-color="#00ffbc"/><stop offset="0.221" stop-color="#00ff98"/><stop offset="0.334" stop-color="#03ff7a"/><stop offset="0.382" stop-color="#1cff69"/><stop offset="0.431" stop-color="#4bff56"/><stop offset="0.485" stop-color="#9bff3c"/><stop offset="0.538" stop-color="#edff22"/><stop offset="0.559" stop-color="#fefa16"/><stop offset="0.597" stop-color="#ffcc05"/><stop offset="0.664" stop-color="#ff7700"/><stop offset="0.725" stop-color="#ff4200"/><stop offset="0.798" stop-color="#ff1c00"/><stop offset="0.897" stop-color="#ff0400"/><stop offset="1.000" stop-color="#ff0000"/></linearGradient><linearGradient id="r122" href="#g"><stop offset="0.000" stop-color="#00ffc0"/><stop offset="0.223" stop-color="#00ff9d"/><stop offset="0.334" stop-color="#04ff80"/><stop offset="0.382" stop-color="#1dff6f"/><stop offset="0.429" stop-color="#4cff5d"/><stop offset="0.483" stop-color="#9dff43"/><stop offset="0.536" stop-color="#efff28"/><stop offset="0.557" stop-color="#fef81b"/><stop offset="0.601" stop-color="#ffc105"/><stop offset="0.664" stop-color="#ff7200"/><stop offset="0.725" stop-color="#ff3e00"/><stop offset="0.800" stop-color="#ff1900"/><stop offset="0.901" stop-color="#ff0300"/><stop offset="1.000" stop-color="#ff0000"/></linearGradient><linearGradient id="r123" href="#g"><stop offset="0.000" stop-color="#00ffc4"/><stop offset="0.225" stop-color="#00ffa1"/><stop offset="0.332" stop-color="#04ff86"/><stop offset="0.380" stop-color="#1dff76"/><stop offset="0.426" stop-color="#4cff64"/><stop offset="0.479" stop-color="#9aff4b"/><stop offset="0.532" stop-color="#eeff2f"/><stop offset="0.553" stop-color="#fef921"/><stop offset="0.595" stop-color="#ffc309"/><stop offset="0.653" stop-color="#ff7800"/><stop offset="0.712" stop-color="#ff4300"/><stop offset="0.784" stop-color="#ff1d00"/><stop offset="0.880" stop-color="#ff0500"/><stop offset="1.000" stop-color="#ff0000"/></linearGradient><linearGradient id="r124" href="#g"><stop offset="0.000" stop-color="#00ffc7"/><stop offset="0.227" stop-color="#00ffa6"/><stop offset="0.332" stop-color="#04ff8c"/><stop offset="0.380" stop-color="#1eff7c"/><stop offset="0.426" stop-color="#4fff6a"/><stop offset="0.481" stop-color="#a3ff51"/><stop offset="0.529" stop-color="#f0ff37"/><stop offset="0.550" stop-color="#fef727"/><stop offset="0.595" stop-color="#ffbd0b"/><stop offset="0.653" stop-color="#ff7200"/><stop offset="0.712" stop-color="#ff3f00"/><stop offset="0.786" stop-color="#ff1a00"/><stop offset="0.884" stop-color="#ff0300"/><stop offset="1.000" stop-color="#ff0000"/></linearGradient><linearGradient id="r125" href="#g"><stop offset="0.000" stop-color="#00ffcb"/><stop offset="0.229" stop-color="#00ffab"/><stop offset="0.330" stop-color="#04ff93"/><stop offset="0.376" stop-color="#1cff84"/><stop offset="0.422" stop-color="#4cff73"/><stop offset="0.475" stop-color="#9dff5b"/><stop offset="0.525" stop-color="#efff3f"/><stop offset="0.546" stop-color="#fef82f"/><stop offset="0.590" stop-color="#ffbd0f"/><stop offset="0.647" stop-color="#ff7400"/><stop offset="0.706" stop-color="#ff4000"/><stop offset="0.777" stop-color="#ff1a00"/><stop offset="0.874" stop-color="#ff0300"/><stop offset="1.000" stop-color="#ff0000"/></linearGradient><linearGradient id="r126" href="#g"><stop offset="0.000" stop-color="#00ffcf"/><stop offset="0.231" stop-color="#00ffb0"/><stop offset="0.328" stop-color="#03ff9a"/><stop offset="0.374" stop-color="#1cff8c"/><stop offset="0.418" stop-color="#4aff7c"/><stop offset="0.468" stop-color="#97ff65"/><stop offset="0.521" stop-color="#eeff49"/><stop offset="0.540" stop-color="#fefa3a"/><stop offset="0.574" stop-color="#ffd01b"/><stop offset="0.624" stop-color="#ff8905"/><stop offset="0.679" stop-color="#ff5000"/><stop offset="0.744" stop-color="#ff2600"/><stop offset="0.830" stop-color="#ff0a00"/><stop offset="0.933" stop-color="#ff0000"/><stop offset="1.000" stop-color="#ff0000"/></linearGradient><linearGradient id="r127" href="#g"><stop offset="0.000" stop-color="#00ffd3"/><stop offset="0.235" stop-color="#00ffb5"/><stop offset="0.328" stop-color="#04ffa0"/><stop offset="0.374" stop-color="#1eff92"/><stop offset="0.418" stop-color="#4dff83"/><stop offset="0.468" stop-color="#9cff6d"/><stop offset="0.517" stop-color="#edff53"/><stop offset="0.536" stop-color="#fdfa44"/><stop offset="0.567" stop-color="#ffd324"/><stop offset="0.616" stop-color="#ff8e09"/><stop offset="0.670" stop-color="#ff5300"/><stop offset="0.733" stop-color="#ff2800"/><stop offset="0.815" stop-color="#ff0b00"/><stop offset="0.916" stop-color="#ff0000"/><stop offset="1.000" stop-color="#ff0000"/></linearGradient><linearGradient id="r128" href="#g"><stop offset="0.000" stop-color="#00ffd6"/><stop offset="0.239" stop-color="#00ffb9"/><stop offset="0.326" stop-color="#04ffa7"/><stop offset="0.372" stop-color="#1dff9a"/><stop offset="0.416" stop-color="#4dff8b"/><stop offset="0.466" stop-color="#9dff76"/><stop offset="0.515" stop-color="#efff5c"/><stop offset="0.534" stop-color="#fef94c"/><stop offset="0.569" stop-color="#ffca25"/><stop offset="0.618" stop-color="#ff850a"/><stop offset="0.672" stop-color="#ff4d00"/><stop offset="0.737" stop-color="#ff2300"/><stop offset="0.824" stop-color="#ff0800"/><stop offset="0.929" stop-color="#ff0000"/><stop offset="1.000" stop-color="#ff0000"/></linearGradient><linearGradient id="r129" href="#g"><stop offset="0.000" stop-color="#00ffda"/><stop offset="0.244" stop-color="#00ffbe"/><stop offset="0.326" stop-color="#04ffae"/><stop offset="0.370" stop-color="#1dffa2"/><stop offset="0.414" stop-color="#4dff94"/><stop offset="0.464" stop-color="#9fff7f"/><stop offset="0.511" stop-color="#eeff67"/><stop offset="0.529" stop-color="#fef956"/><stop offset="0.563" stop-color="#ffcd2e"/><stop offset="0.609" stop-color="#ff8a0f"/><stop offset="0.662" stop-color="#ff5101"/><stop offset="0.725" stop-color="#ff2600"/><stop offset="0.807" stop-color="#ff0a00"/><stop offset="0.905" stop-color="#ff0000"/><stop offset="1.000" stop-color="#ff0000"/></linearGradient><linearGradient id="r130" href="#g"><stop offset="0.000" stop-color="#00ffde"/><stop offset="0.250" stop-color="#00ffc3"/><stop offset="0.326" stop-color="#04ffb4"/><stop offset="0.370" stop-color="#1effa9"/><stop offset="0.412" stop-color="#4dff9c"/><stop offset="0.462" stop-color="#a0ff89"/><stop offset="0.506" stop-color="#edff73"/><stop offset="0.525" stop-color="#fdf962"/><stop offset="0.557" stop-color="#ffd039"/><stop offset="0.601" stop-color="#ff8f16"/><stop offset="0.653" stop-color="#ff5403"/><stop offset="0.714" stop-color="#ff2900"/><stop offset="0.794" stop-color="#ff0b00"/><stop offset="0.893" stop-color="#ff0000"/><stop offset="1.000" stop-color="#ff0000"/></linearGradient><linearGradient id="r131" href="#g"><stop offset="0.000" stop-color="#00ffe1"/><stop offset="0.256" stop-color="#00ffc8"/><stop offset="0.324" stop-color="#04ffbb"/><stop offset="0.368" stop-color="#1effb1"/><stop offset="0.410" stop-color="#4effa5"/><stop offset="0.458" stop-color="#9eff93"/><stop offset="0.504" stop-color="#efff7d"/><stop offset="0.523" stop-color="#fef86b"/><stop offset="0.561" stop-color="#ffc338"/><stop offset="0.605" stop-color="#ff8316"/><stop offset="0.658" stop-color="#ff4b03"/><stop offset="0.721" stop-color="#ff2200"/><stop offset="0.805" stop-color="#ff0700"/><stop offset="0.908" stop-color="#ff0000"/><stop offset="1.000" stop-color="#ff0000"/></linearGradient><linearGradient id="r132" href="#g"><stop offset="0.000" stop-color="#00ffe5"/><stop offset="0.263" stop-color="#00ffcc"/><stop offset="0.324" stop-color="#04ffc2"/><stop offset="0.366" stop-color="#1effb9"/><stop offset="0.408" stop-color="#4effae"/><stop offset="0.456" stop-color="#a0ff9d"/><stop offset="0.500" stop-color="#eeff89"/><stop offset="0.519" stop-color="#fef877"/><stop offset="0.555" stop-color="#ffc744"/><stop offset="0.597" stop-color="#ff881e"/><stop offset="0.649" stop-color="#ff4e06"/><stop offset="0.710" stop-color="#ff2400"/><stop offset="0.790" stop-color="#ff0900"/><stop offset="0.887" stop-color="#ff0000"/><stop offset="1.000" stop-color="#ff0000"/></linearGradient><linearGradient id="r133" href="#g"><stop offset="0.000" stop-color="#00ffe8"/><stop offset="0.271" stop-color="#00ffd1"/><stop offset="0.324" stop-color="#05ffc9"/><stop offset="0.366" stop-color="#1fffc0"/><stop offset="0.408" stop-color="#51ffb6"/><stop offset="0.458" stop-color="#a9ffa6"/><stop offset="0.498" stop-color="#efff95"/><stop offset="0.517" stop-color="#fef781"/><stop offset="0.557" stop-color="#ffbd45"/><stop offset="0.601" stop-color="#ff7c1e"/><stop offset="0.653" stop-color="#ff4607"/><stop offset="0.716" stop-color="#ff1e00"/><stop offset="0.800" stop-color="#ff0600"/><stop offset="0.922" stop-color="#ff0000"/><stop offset="1.000" stop-color="#ff0000"/></linearGradient><linearGradient id="r134" href="#g"><stop offset="0.000" stop-color="#00ffeb"/><stop offset="0.282" stop-color="#00ffd5"/><stop offset="0.326" stop-color="#06ffcf"/><stop offset="0.368" stop-color="#23ffc7"/><stop offset="0.408" stop-color="#55ffbe"/><stop offset="0.458" stop-color="#afffaf"/><stop offset="0.496" stop-color="#f1ffa0"/><stop offset="0.515" stop-color="#fef58b"/><stop offset="0.555" stop-color="#ffb94c"/><stop offset="0.597" stop-color="#ff7c23"/><stop offset="0.647" stop-color="#ff460a"/><stop offset="0.708" stop-color="#ff1f00"/><stop offset="0.790" stop-color="#ff0600"/><stop offset="0.901" stop-color="#ff0000"/><stop offset="1.000" stop-color="#ff0000"/></linearGradient><linearGradient id="r135" href="#g"><stop offset="0.000" stop-color="#00ffee"/><stop offset="0.292" stop-color="#00ffda"/><stop offset="0.332" stop-color="#0affd4"/><stop offset="0.372" stop-color="#29ffce"/><stop offset="0.412" stop-color="#5fffc5"/><stop offset="0.489" stop-color="#edffad"/><stop offset="0.506" stop-color="#fdf99f"/><stop offset="0.536" stop-color="#ffd16c"/><stop offset="0.574" stop-color="#ff953b"/><stop offset="0.622" stop-color="#ff5917"/><stop offset="0.679" stop-color="#ff2c03"/><stop offset="0.752" stop-color="#ff0d00"/><stop offset="0.845" stop-color="#ff0000"/><stop offset="1.000" stop-color="#ff0000"/></linearGradient><linearGradient id="r136" href="#g"><stop offset="0.000" stop-color="#00fff1"/><stop offset="0.305" stop-color="#01ffde"/><stop offset="0.345" stop-color="#12ffd9"/><stop offset="0.384" stop-color="#3bffd3"/><stop offset="0.426" stop-color="#7dffcb"/><stop offset="0.485" stop-color="#ecffba"/><stop offset="0.502" stop-color="#fdfaac"/><stop offset="0.529" stop-color="#ffd57b"/><stop offset="0.567" stop-color="#ff9845"/><stop offset="0.613" stop-color="#ff5c1e"/><stop offset="0.668" stop-color="#ff2f07"/><stop offset="0.737" stop-color="#ff0f00"/><stop offset="0.828" stop-color="#ff0000"/><stop offset="1.000" stop-color="#ff0000"/></linearGradient><linearGradient id="r137" href="#g"><stop offset="0.000" stop-color="#00fff4"/><stop offset="0.313" stop-color="#03ffe3"/><stop offset="0.353" stop-color="#1affdf"/><stop offset="0.393" stop-color="#49ffd9"/><stop offset="0.437" stop-color="#97ffd1"/><stop offset="0.481" stop-color="#ebffc6"/><stop offset="0.498" stop-color="#fdfab9"/><stop offset="0.523" stop-color="#ffd98b"/><stop offset="0.561" stop-color="#ff9a51"/><stop offset="0.605" stop-color="#ff6026"/><stop offset="0.658" stop-color="#ff320c"/><stop offset="0.725" stop-color="#ff1100"/><stop offset="0.813" stop-color="#ff0100"/><stop offset="1.000" stop-color="#ff0000"/></linearGradient><linearGradient id="r138" href="#g"><stop offset="0.000" stop-color="#00fff7"/><stop offset="0.311" stop-color="#03ffe9"/><stop offset="0.351" stop-color="#1affe6"/><stop offset="0.389" stop-color="#46ffe1"/><stop offset="0.431" stop-color="#90ffdb"/><stop offset="0.479" stop-color="#edffd1"/><stop offset="0.496" stop-color="#fdf9c3"/><stop offset="0.525" stop-color="#ffce8c"/><stop offset="0.565" stop-color="#ff8d50"/><stop offset="0.609" stop-color="#ff5626"/><stop offset="0.664" stop-color="#ff2a0b"/><stop offset="0.735" stop-color="#ff0c00"/><stop offset="0.824" stop-color="#ff0000"/><stop offset="1.000" stop-color="#ff0000"/></linearGradient><linearGradient id="r139" href="#g"><stop offset="0.000" stop-color="#00fffa"/><stop offset="0.311" stop-color="#03ffef"/><stop offset="0.351" stop-color="#1cffec"/><stop offset="0.389" stop-color="#4affe8"/><stop offset="0.431" stop-color="#96ffe3"/><stop offset="0.475" stop-color="#ecffdc"/><stop offset="0.492" stop-color="#fdf9d0"/><stop offset="0.519" stop-color="#ffd29d"/><stop offset="0.559" stop-color="#ff8f5c"/><stop offset="0.603" stop-color="#ff572e"/><stop offset="0.655" stop-color="#ff2b10"/><stop offset="0.725" stop-color="#ff0d00"/><stop offset="0.811" stop-color="#ff0000"/><stop offset="1.000" stop-color="#ff0000"/></linearGradient><linearGradient id="r140" href="#g"><stop offset="0.000" stop-color="#00fffc"/><stop offset="0.309" stop-color="#03fff4"/><stop offset="0.347" stop-color="#19fff2"/><stop offset="0.384" stop-color="#47ffef"/><stop offset="0.426" stop-color="#93ffeb"/><stop offset="0.471" stop-color="#ebffe6"/><stop offset="0.487" stop-color="#fdf9dc"/><stop offset="0.513" stop-color="#ffd6ad"/><stop offset="0.555" stop-color="#ff8f66"/><stop offset="0.599" stop-color="#ff5635"/><stop offset="0.651" stop-color="#ff2a14"/><stop offset="0.721" stop-color="#ff0c01"/><stop offset="0.807" stop-color="#ff0000"/><stop offset="1.000" stop-color="#ff0000"/></linearGradient><linearGradient id="r141" href="#g"><stop offset="0.000" stop-color="#00fefd"/><stop offset="0.309" stop-color="#03fff8"/><stop offset="0.347" stop-color="#1bfff7"/><stop offset="0.382" stop-color="#47fff5"/><stop offset="0.422" stop-color="#90fff3"/><stop offset="0.468" stop-color="#edffee"/><stop offset="0.485" stop-color="#fdf8e4"/><stop offset="0.515" stop-color="#ffcbae"/><stop offset="0.557" stop-color="#ff8468"/><stop offset="0.601" stop-color="#ff4e36"/><stop offset="0.655" stop-color="#ff2414"/><stop offset="0.727" stop-color="#ff0901"/><stop offset="0.815" stop-color="#ff0000"/><stop offset="1.000" stop-color="#ff0000"/></linearGradient><linearGradient id="r142" href="#g"><stop offset="0.000" stop-color="#00fdfe"/><stop offset="0.307" stop-color="#03fefc"/><stop offset="0.345" stop-color="#1afefb"/><stop offset="0.380" stop-color="#46fefa"/><stop offset="0.420" stop-color="#90fef8"/><stop offset="0.464" stop-color="#ebfef6"/><stop offset="0.481" stop-color="#fdf8ee"/><stop offset="0.508" stop-color="#ffcfbf"/><stop offset="0.553" stop-color="#ff8472"/><stop offset="0.597" stop-color="#ff4d3e"/><stop offset="0.649" stop-color="#ff2419"/><stop offset="0.718" stop-color="#ff0903"/><stop offset="0.805" stop-color="#ff0000"/><stop offset="1.000" stop-color="#ff0000"/></linearGradient><linearGradient id="r143" href="#g"><stop offset="0.000" stop-color="#00fbff"/><stop offset="0.307" stop-color="#03fcfe"/><stop offset="0.345" stop-color="#1bfcfd"/><stop offset="0.380" stop-color="#48fcfd"/><stop offset="0.420" stop-color="#93fcfc"/><stop offset="0.464" stop-color="#eefcfb"/><stop offset="0.481" stop-color="#fef4f2"/><stop offset="0.555" stop-color="#ff7a73"/><stop offset="0.599" stop-color="#ff453f"/><stop offset="0.651" stop-color="#ff1f1a"/><stop offset="0.723" stop-color="#ff0603"/><stop offset="0.821" stop-color="#ff0000"/><stop offset="1.000" stop-color="#ff0000"/></linearGradient><linearGradient id="r144" href="#g"><stop offset="0.000" stop-color="#00f9ff"/><stop offset="0.305" stop-color="#03f9ff"/><stop offset="0.342" stop-color="#1af9fe"/><stop offset="0.378" stop-color="#46f8fe"/><stop offset="0.418" stop-color="#90f8fe"/><stop offset="0.462" stop-color="#ebf8fd"/><stop offset="0.479" stop-color="#fef1f8"/><stop offset="0.506" stop-color="#ffc3cb"/><stop offset="0.553" stop-color="#ff767b"/><stop offset="0.597" stop-color="#ff4244"/><stop offset="0.649" stop-color="#ff1d1e"/><stop offset="0.718" stop-color="#ff0605"/><stop offset="0.824" stop-color="#ff0000"/><stop offset="1.000" stop-color="#ff0000"/></linearGradient><linearGradient id="r145" href="#g"><stop offset="0.000" stop-color="#00f6ff"/><stop offset="0.305" stop-color="#03f4ff"/><stop offset="0.342" stop-color="#1bf4ff"/><stop offset="0.378" stop-color="#46f3ff"/><stop offset="0.418" stop-color="#8ff3ff"/><stop offset="0.464" stop-color="#eef2ff"/><stop offset="0.479" stop-color="#fdebfa"/><stop offset="0.504" stop-color="#ffbfd3"/><stop offset="0.550" stop-color="#ff7282"/><stop offset="0.595" stop-color="#ff3f4a"/><stop offset="0.647" stop-color="#ff1b21"/><stop offset="0.716" stop-color="#ff0507"/><stop offset="0.803" stop-color="#ff0000"/><stop offset="1.000" stop-color="#ff0000"/></linearGradient><linearGradient id="r146" href="#g"><stop offset="0.000" stop-color="#00f3ff"/><stop offset="0.303" stop-color="#03f0ff"/><stop offset="0.340" stop-color="#19efff"/><stop offset="0.378" stop-color="#46eeff"/><stop offset="0.418" stop-color="#8eecff"/><stop offset="0.464" stop-color="#eceaff"/><stop offset="0.481" stop-color="#fee1f9"/><stop offset="0.508" stop-color="#ffafcf"/><stop offset="0.550" stop-color="#ff6b86"/><stop offset="0.595" stop-color="#ff3a4e"/><stop offset="0.647" stop-color="#ff1824"/><stop offset="0.714" stop-color="#ff0408"/><stop offset="0.794" stop-color="#ff0000"/><stop offset="1.000" stop-color="#ff0000"/></linearGradient><linearGradient id="r147" href="#g"><stop offset="0.000" stop-color="#00f0ff"/><stop offset="0.303" stop-color="#03eaff"/><stop offset="0.342" stop-color="#1be9ff"/><stop offset="0.380" stop-color="#49e7ff"/><stop offset="0.422" stop-color="#95e4ff"/><stop offset="0.466" stop-color="#ede0ff"/><stop offset="0.483" stop-color="#fed6f9"/><stop offset="0.513" stop-color="#ff9fcb"/><stop offset="0.555" stop-color="#ff5e84"/><stop offset="0.601" stop-color="#ff304b"/><stop offset="0.655" stop-color="#ff1221"/><stop offset="0.727" stop-color="#ff0107"/><stop offset="0.815" stop-color="#ff0000"/><stop offset="1.000" stop-color="#ff0000"/></linearGradient><linearGradient id="r148" href="#g"><stop offset="0.000" stop-color="#00edff"/><stop offset="0.300" stop-color="#03e4ff"/><stop offset="0.340" stop-color="#1ae2ff"/><stop offset="0.378" stop-color="#46e0ff"/><stop offset="0.420" stop-color="#90dcff"/><stop offset="0.468" stop-color="#eed6ff"/><stop offset="0.483" stop-color="#fdcdfb"/><stop offset="0.508" stop-color="#ff9fd6"/><stop offset="0.548" stop-color="#ff6092"/><stop offset="0.592" stop-color="#ff3257"/><stop offset="0.645" stop-color="#ff132a"/><stop offset="0.712" stop-color="#ff020c"/><stop offset="0.792" stop-color="#ff0000"/><stop offset="1.000" stop-color="#ff0000"/></linearGradient><linearGradient id="r149" href="#g"><stop offset="0.000" stop-color="#00eaff"/><stop offset="0.300" stop-color="#03deff"/><stop offset="0.340" stop-color="#1adbff"/><stop offset="0.378" stop-color="#46d8ff"/><stop offset="0.420" stop-color="#8ed3ff"/><stop offset="0.468" stop-color="#ecccff"/><stop offset="0.485" stop-color="#fdc1fa"/><stop offset="0.513" stop-color="#ff8fd3"/><stop offset="0.553" stop-color="#ff5490"/><stop offset="0.599" stop-color="#ff2954"/><stop offset="0.651" stop-color="#ff0e29"/><stop offset="0.721" stop-color="#ff000b"/><stop offset="0.803" stop-color="#ff0000"/><stop offset="1.000" stop-color="#ff0000"/></linearGradient><linearGradient id="r150" href="#g"><stop offset="0.000" stop-color="#00e6ff"/><stop offset="0.300" stop-color="#03d8ff"/><stop offset="0.342" stop-color="#1cd4ff"/><stop offset="0.382" stop-color="#4cd0ff"/><stop offset="0.426" stop-color="#99c9ff"/><stop offset="0.471" stop-color="#edc0ff"/><stop offset="0.487" stop-color="#feb4fa"/><stop offset="0.517" stop-color="#ff80cf"/><stop offset="0.557" stop-color="#ff498d"/><stop offset="0.605" stop-color="#ff2151"/><stop offset="0.660" stop-color="#ff0926"/><stop offset="0.731" stop-color="#ff0009"/><stop offset="0.815" stop-color="#ff0000"/><stop offset="1.000" stop-color="#ff0000"/></linearGradient><linearGradient id="r151" href="#g"><stop offset="0.000" stop-color="#00e3ff"/><stop offset="0.298" stop-color="#03d2ff"/><stop offset="0.340" stop-color="#1bcdff"/><stop offset="0.380" stop-color="#48c8ff"/><stop offset="0.424" stop-color="#94c0ff"/><stop offset="0.473" stop-color="#eeb5ff"/><stop offset="0.489" stop-color="#fea8fa"/><stop offset="0.521" stop-color="#ff71cc"/><stop offset="0.561" stop-color="#ff3f8b"/><stop offset="0.609" stop-color="#ff1b50"/><stop offset="0.666" stop-color="#ff0625"/><stop offset="0.739" stop-color="#ff0009"/><stop offset="0.824" stop-color="#ff0000"/><stop offset="1.000" stop-color="#ff0000"/></linearGradient><linearGradient id="r152" href="#g"><stop offset="0.000" stop-color="#00dfff"/><stop offset="0.298" stop-color="#03cbff"/><stop offset="0.340" stop-color="#1bc6ff"/><stop offset="0.380" stop-color="#48bfff"/><stop offset="0.424" stop-color="#92b7ff"/><stop offset="0.475" stop-color="#efa9ff"/><stop offset="0.492" stop-color="#fe9bf9"/><stop offset="0.525" stop-color="#ff63c8"/><stop offset="0.567" stop-color="#ff3486"/><stop offset="0.616" stop-color="#ff144d"/><stop offset="0.672" stop-color="#ff0324"/><stop offset="0.746" stop-color="#ff0008"/><stop offset="0.832" stop-color="#ff0000"/><stop offset="1.000" stop-color="#ff0000"/></linearGradient><linearGradient id="r153" href="#g"><stop offset="0.000" stop-color="#00dbff"/><stop offset="0.292" stop-color="#02c5ff"/><stop offset="0.334" stop-color="#17bfff"/><stop offset="0.376" stop-color="#42b8ff"/><stop offset="0.420" stop-color="#89aeff"/><stop offset="0.475" stop-color="#ed9eff"/><stop offset="0.492" stop-color="#fe91fb"/><stop offset="0.521" stop-color="#ff62d3"/><stop offset="0.561" stop-color="#ff3493"/><stop offset="0.609" stop-color="#ff1457"/><stop offset="0.666" stop-color="#ff032a"/><stop offset="0.737" stop-color="#ff000c"/><stop offset="0.824" stop-color="#ff0000"/><stop offset="1.000" stop-color="#ff0000"/></linearGradient><linearGradient id="r154" href="#g"><stop offset="0.000" stop-color="#00d8ff"/><stop offset="0.279" stop-color="#00c0ff"/><stop offset="0.321" stop-color="#0ebaff"/><stop offset="0.363" stop-color="#33b2ff"/><stop offset="0.405" stop-color="#6ea9ff"/><stop offset="0.477" stop-color="#ee92ff"/><stop offset="0.494" stop-color="#fe85fa"/><stop offset="0.523" stop-color="#ff58d3"/><stop offset="0.565" stop-color="#ff2c91"/><stop offset="0.616" stop-color="#ff0f54"/><stop offset="0.672" stop-color="#ff0128"/><stop offset="0.746" stop-color="#ff000b"/><stop offset="0.832" stop-color="#ff0000"/><stop offset="1.000" stop-color="#ff0000"/></linearGradient><linearGradient id="r155" href="#g"><stop offset="0.000" stop-color="#00d4ff"/><stop offset="0.271" stop-color="#00bbff"/><stop offset="0.313" stop-color="#0ab4ff"/><stop offset="0.357" stop-color="#2cacff"/><stop offset="0.399" stop-color="#63a2ff"/><stop offset="0.479" stop-color="#ef87ff"/><stop offset="0.496" stop-color="#fe79fa"/><stop offset="0.527" stop-color="#ff4ccf"/><stop offset="0.571" stop-color="#ff228c"/><stop offset="0.622" stop-color="#ff0a51"/><stop offset="0.681" stop-color="#ff0026"/><stop offset="0.756" stop-color="#ff0009"/><stop offset="0.845" stop-color="#ff0000"/><stop offset="1.000" stop-color="#ff0000"/></linearGradient><linearGradient id="r156" href="#g"><stop offset="0.000" stop-color="#00d0ff"/><stop offset="0.263" stop-color="#00b6ff"/><stop offset="0.307" stop-color="#08afff"/><stop offset="0.351" stop-color="#26a5ff"/><stop offset="0.393" stop-color="#599bff"/><stop offset="0.450" stop-color="#bb88ff"/><stop offset="0.485" stop-color="#f579ff"/><stop offset="0.504" stop-color="#ff64f4"/><stop offset="0.544" stop-color="#ff34b8"/><stop offset="0.592" stop-color="#ff1374"/><stop offset="0.645" stop-color="#ff0340"/><stop offset="0.710" stop-color="#ff001a"/><stop offset="0.796" stop-color="#ff0003"/><stop offset="1.000" stop-color="#ff0000"/></linearGradient><linearGradient id="r157" href="#g"><stop offset="0.000" stop-color="#00ccff"/><stop offset="0.256" stop-color="#00b1ff"/><stop offset="0.303" stop-color="#06a8ff"/><stop offset="0.347" stop-color="#239fff"/><stop offset="0.391" stop-color="#5693ff"/><stop offset="0.445" stop-color="#b281ff"/><stop offset="0.483" stop-color="#f170ff"/><stop offset="0.502" stop-color="#ff5ff8"/><stop offset="0.542" stop-color="#ff30bf"/><stop offset="0.590" stop-color="#ff117a"/><stop offset="0.643" stop-color="#ff0245"/><stop offset="0.706" stop-color="#ff001e"/><stop offset="0.790" stop-color="#ff0005"/><stop offset="0.918" stop-color="#ff0000"/><stop offset="1.000" stop-color="#ff0000"/></linearGradient><linearGradient id="r158" href="#g"><stop offset="0.000" stop-color="#00c8ff"/><stop offset="0.250" stop-color="#00acff"/><stop offset="0.300" stop-color="#06a2ff"/><stop offset="0.347" stop-color="#2397ff"/><stop offset="0.391" stop-color="#558bff"/><stop offset="0.445" stop-color="#b077ff"/><stop offset="0.485" stop-color="#f265ff"/><stop offset="0.504" stop-color="#ff55f7"/><stop offset="0.544" stop-color="#ff29bf"/><stop offset="0.595" stop-color="#ff0c79"/><stop offset="0.649" stop-color="#ff0143"/><stop offset="0.714" stop-color="#ff001c"/><stop offset="0.800" stop-color="#ff0004"/><stop offset="0.992" stop-color="#ff0000"/><stop offset="1.000" stop-color="#ff0000"/></linearGradient><linearGradient id="r159" href="#g"><stop offset="0.000" stop-color="#00c4ff"/><stop offset="0.244" stop-color="#00a7ff"/><stop offset="0.298" stop-color="#059cff"/><stop offset="0.345" stop-color="#2191ff"/><stop offset="0.389" stop-color="#5284ff"/><stop offset="0.441" stop-color="#a770ff"/><stop offset="0.485" stop-color="#f05cff"/><stop offset="0.504" stop-color="#fe4df9"/><stop offset="0.546" stop-color="#ff23bf"/><stop offset="0.599" stop-color="#ff0877"/><stop offset="0.653" stop-color="#ff0042"/><stop offset="0.721" stop-color="#ff001b"/><stop offset="0.809" stop-color="#ff0004"/><stop offset="1.000" stop-color="#ff0000"/></linearGradient><linearGradient id="r160" href="#g"><stop offset="0.000" stop-color="#00c0ff"/><stop offset="0.239" stop-color="#00a1ff"/><stop offset="0.296" stop-color="#0596ff"/><stop offset="0.342" stop-color="#208aff"/><stop offset="0.389" stop-color="#527cff"/><stop offset="0.441" stop-color="#a568ff"/><stop offset="0.487" stop-color="#f152ff"/><stop offset="0.506" stop-color="#fe43f9"/><stop offset="0.548" stop-color="#ff1dc0"/><stop offset="0.603" stop-color="#ff0576"/><stop offset="0.660" stop-color="#ff0040"/><stop offset="0.727" stop-color="#ff001a"/><stop offset="0.817" stop-color="#ff0003"/><stop offset="1.000" stop-color="#ff0000"/></linearGradient><linearGradient id="r161" href="#g"><stop offset="0.000" stop-color="#00bcff"/><stop offset="0.235" stop-color="#009cff"/><stop offset="0.296" stop-color="#058fff"/><stop offset="0.345" stop-color="#2282ff"/><stop offset="0.391" stop-color="#5474ff"/><stop offset="0.447" stop-color="#af5dff"/><stop offset="0.489" stop-color="#f149ff"/><stop offset="0.508" stop-color="#ff3af8"/><stop offset="0.553" stop-color="#ff16bd"/><stop offset="0.609" stop-color="#ff0272"/><stop offset="0.666" stop-color="#ff003e"/><stop offset="0.735" stop-color="#ff0019"/><stop offset="0.828" stop-color="#ff0002"/><stop offset="1.000" stop-color="#ff0000"/></linearGradient><linearGradient id="r162" href="#g"><stop offset="0.000" stop-color="#00b7ff"/><stop offset="0.231" stop-color="#0097ff"/><stop offset="0.294" stop-color="#0589ff"/><stop offset="0.342" stop-color="#207cff"/><stop offset="0.389" stop-color="#516dff"/><stop offset="0.443" stop-color="#a657ff"/><stop offset="0.489" stop-color="#f041ff"/><stop offset="0.508" stop-color="#fe34fa"/><stop offset="0.548" stop-color="#ff15c6"/><stop offset="0.605" stop-color="#ff027a"/><stop offset="0.662" stop-color="#ff0044"/><stop offset="0.731" stop-color="#ff001c"/><stop offset="0.821" stop-color="#ff0004"/><stop offset="1.000" stop-color="#ff0000"/></linearGradient><linearGradient id="r163" href="#g"><stop offset="0.000" stop-color="#00b3ff"/><stop offset="0.229" stop-color="#0092ff"/><stop offset="0.292" stop-color="#0484ff"/><stop offset="0.340" stop-color="#1f76ff"/><stop offset="0.387" stop-color="#4e67ff"/><stop offset="0.441" stop-color="#a151ff"/><stop offset="0.492" stop-color="#f039ff"/><stop offset="0.511" stop-color="#fe2cf9"/><stop offset="0.553" stop-color="#ff0fc3"/><stop offset="0.611" stop-color="#ff0076"/><stop offset="0.670" stop-color="#ff0040"/><stop offset="0.742" stop-color="#ff001a"/><stop offset="0.836" stop-color="#ff0003"/><stop offset="1.000" stop-color="#ff0000"/></linearGradient><linearGradient id="r164" href="#g"><stop offset="0.000" stop-color="#00afff"/><stop offset="0.227" stop-color="#008dff"/><stop offset="0.292" stop-color="#047eff"/><stop offset="0.342" stop-color="#216fff"/><stop offset="0.391" stop-color="#545eff"/><stop offset="0.447" stop-color="#aa47ff"/><stop offset="0.494" stop-color="#f131ff"/><stop offset="0.513" stop-color="#fe25f9"/><stop offset="0.557" stop-color="#ff0bc0"/><stop offset="0.616" stop-color="#ff0075"/><stop offset="0.674" stop-color="#ff0040"/><stop offset="0.746" stop-color="#ff001a"/><stop offset="0.840" stop-color="#ff0003"/><stop offset="1.000" stop-color="#ff0000"/></linearGradient><linearGradient id="r165" href="#g"><stop offset="0.000" stop-color="#00abff"/><stop offset="0.225" stop-color="#0088ff"/><stop offset="0.292" stop-color="#0578ff"/><stop offset="0.342" stop-color="#2169ff"/><stop offset="0.391" stop-color="#5358ff"/><stop offset="0.447" stop-color="#a840ff"/><stop offset="0.496" stop-color="#f229ff"/><stop offset="0.515" stop-color="#ff1ef9"/><stop offset="0.563" stop-color="#ff06bb"/><stop offset="0.624" stop-color="#ff006f"/><stop offset="0.685" stop-color="#ff003b"/><stop offset="0.758" stop-color="#ff0017"/><stop offset="0.857" stop-color="#ff0002"/><stop offset="1.000" stop-color="#ff0000"/></linearGradient><linearGradient id="r166" href="#g"><stop offset="0.000" stop-color="#00a7ff"/><stop offset="0.223" stop-color="#0083ff"/><stop offset="0.290" stop-color="#0472ff"/><stop offset="0.340" stop-color="#2063ff"/><stop offset="0.389" stop-color="#5052ff"/><stop offset="0.445" stop-color="#a33bff"/><stop offset="0.496" stop-color="#f024ff"/><stop offset="0.515" stop-color="#fe19fa"/><stop offset="0.555" stop-color="#ff06ca"/><stop offset="0.620" stop-color="#ff0076"/><stop offset="0.681" stop-color="#ff0041"/><stop offset="0.754" stop-color="#ff001a"/><stop offset="0.851" stop-color="#ff0003"/><stop offset="1.000" stop-color="#ff0000"/></linearGradient><linearGradient id="r167" href="#g"><stop offset="0.000" stop-color="#00a3ff"/><stop offset="0.221" stop-color="#007eff"/><stop offset="0.290" stop-color="#056dff"/><stop offset="0.340" stop-color="#205dff"/><stop offset="0.391" stop-color="#534bff"/><stop offset="0.450" stop-color="#a933ff"/><stop offset="0.498" stop-color="#f11dff"/><stop offset="0.517" stop-color="#fe14fa"/><stop offset="0.559" stop-color="#ff03c7"/><stop offset="0.624" stop-color="#ff0075"/><stop offset="0.685" stop-color="#ff0040"/><stop offset="0.758" stop-color="#ff001b"/><stop offset="0.857" stop-color="#ff0003"/><stop offset="1.000" stop-color="#ff0000"/></linearGradient><linearGradient id="r168" href="#g"><stop offset="0.000" stop-color="#009fff"/><stop offset="0.221" stop-color="#0079ff"/><stop offset="0.288" stop-color="#0468ff"/><stop offset="0.340" stop-color="#2058ff"/><stop offset="0.391" stop-color="#5246ff"/><stop offset="0.450" stop-color="#a72eff"/><stop offset="0.500" stop-color="#f218ff"/><stop offset="0.519" stop-color="#fe0ffa"/><stop offset="0.563" stop-color="#ff01c4"/><stop offset="0.628" stop-color="#ff0074"/><stop offset="0.691" stop-color="#ff003f"/><stop offset="0.767" stop-color="#ff0019"/><stop offset="0.868" stop-color="#ff0002"/><stop offset="1.000" stop-color="#ff0000"/></linearGradient><linearGradient id="r169" href="#g"><stop offset="0.000" stop-color="#009bff"/><stop offset="0.218" stop-color="#0074ff"/><stop offset="0.288" stop-color="#0562ff"/><stop offset="0.340" stop-color="#2152ff"/><stop offset="0.391" stop-color="#5240ff"/><stop offset="0.452" stop-color="#a928ff"/><stop offset="0.500" stop-color="#f013ff"/><stop offset="0.521" stop-color="#ff0bf9"/><stop offset="0.569" stop-color="#ff00be"/><stop offset="0.634" stop-color="#ff0070"/><stop offset="0.697" stop-color="#ff003d"/><stop offset="0.775" stop-color="#ff0018"/><stop offset="0.878" stop-color="#ff0002"/><stop offset="1.000" stop-color="#ff0000"/></linearGradient><linearGradient id="r170" href="#g"><stop offset="0.000" stop-color="#0097ff"/><stop offset="0.218" stop-color="#0070ff"/><stop offset="0.286" stop-color="#045eff"/><stop offset="0.338" stop-color="#1f4dff"/><stop offset="0.389" stop-color="#4f3cff"/><stop offset="0.447" stop-color="#a124ff"/><stop offset="0.502" stop-color="#f10fff"/><stop offset="0.523" stop-color="#ff07f9"/><stop offset="0.574" stop-color="#ff00bc"/><stop offset="0.639" stop-color="#ff006f"/><stop offset="0.704" stop-color="#ff003b"/><stop offset="0.784" stop-color="#ff0017"/><stop offset="0.889" stop-color="#ff0001"/><stop offset="1.000" stop-color="#ff0000"/></linearGradient><linearGradient id="r171" href="#g"><stop offset="0.000" stop-color="#0093ff"/><stop offset="0.218" stop-color="#006bff"/><stop offset="0.286" stop-color="#0459ff"/><stop offset="0.340" stop-color="#2148ff"/><stop offset="0.393" stop-color="#5435ff"/><stop offset="0.456" stop-color="#ad1dff"/><stop offset="0.504" stop-color="#f20bff"/><stop offset="0.525" stop-color="#ff04f9"/><stop offset="0.580" stop-color="#ff00b7"/><stop offset="0.645" stop-color="#ff006c"/><stop offset="0.710" stop-color="#ff003a"/><stop offset="0.790" stop-color="#ff0016"/><stop offset="0.897" stop-color="#ff0001"/><stop offset="1.000" stop-color="#ff0000"/></linearGradient><linearGradient id="r172" href="#g"><stop offset="0.000" stop-color="#008fff"/><stop offset="0.218" stop-color="#0066ff"/><stop offset="0.286" stop-color="#0554ff"/><stop offset="0.340" stop-color="#2143ff"/><stop offset="0.393" stop-color="#5430ff"/><stop offset="0.456" stop-color="#ac18ff"/><stop offset="0.506" stop-color="#f207ff"/><stop offset="0.527" stop-color="#ff02f8"/><stop offset="0.588" stop-color="#ff00af"/><stop offset="0.653" stop-color="#ff0067"/><stop offset="0.721" stop-color="#ff0036"/><stop offset="0.805" stop-color="#ff0013"/><stop offset="0.914" stop-color="#ff0000"/><stop offset="1.000" stop-color="#ff0000"/></linearGradient><linearGradient id="r173" href="#g"><stop offset="0.000" stop-color="#008bff"/><stop offset="0.218" stop-color="#0061ff"/><stop offset="0.284" stop-color="#0450ff"/><stop offset="0.338" stop-color="#203fff"/><stop offset="0.391" stop-color="#512cff"/><stop offset="0.454" stop-color="#a715ff"/><stop offset="0.506" stop-color="#f105ff"/><stop offset="0.527" stop-color="#ff01fa"/><stop offset="0.576" stop-color="#ff00c2"/><stop offset="0.645" stop-color="#ff0072"/><stop offset="0.712" stop-color="#ff003d"/><stop offset="0.794" stop-color="#ff0018"/><stop offset="0.903" stop-color="#ff0002"/><stop offset="1.000" stop-color="#ff0000"/></linearGradient><linearGradient id="r174" href="#g"><stop offset="0.000" stop-color="#0088ff"/><stop offset="0.221" stop-color="#005cff"/><stop offset="0.284" stop-color="#054bff"/><stop offset="0.340" stop-color="#2239ff"/><stop offset="0.395" stop-color="#5627ff"/><stop offset="0.462" stop-color="#b20fff"/><stop offset="0.511" stop-color="#f402ff"/><stop offset="0.532" stop-color="#ff00f8"/><stop offset="0.645" stop-color="#ff0075"/><stop offset="0.712" stop-color="#ff003f"/><stop offset="0.794" stop-color="#ff0019"/><stop offset="0.903" stop-color="#ff0002"/><stop offset="1.000" stop-color="#ff0000"/></linearGradient><linearGradient id="r175" href="#g"><stop offset="0.000" stop-color="#0084ff"/><stop offset="0.221" stop-color="#0058ff"/><stop offset="0.284" stop-color="#0546ff"/><stop offset="0.340" stop-color="#2235ff"/><stop offset="0.395" stop-color="#5623ff"/><stop offset="0.462" stop-color="#b10cff"/><stop offset="0.511" stop-color="#f201ff"/><stop offset="0.532" stop-color="#ff00f9"/><stop offset="0.586" stop-color="#ff00ba"/><stop offset="0.655" stop-color="#ff006e"/><stop offset="0.725" stop-color="#ff003a"/><stop offset="0.809" stop-color="#ff0016"/><stop offset="0.920" stop-color="#ff0001"/><stop offset="1.000" stop-color="#ff0000"/></linearGradient><linearGradient id="r176" href="#g"><stop offset="0.000" stop-color="#0080ff"/><stop offset="0.223" stop-color="#0053ff"/><stop offset="0.284" stop-color="#0542ff"/><stop offset="0.340" stop-color="#2331ff"/><stop offset="0.395" stop-color="#551fff"/><stop offset="0.462" stop-color="#af09ff"/><stop offset="0.513" stop-color="#f300ff"/><stop offset="0.534" stop-color="#ff00f9"/><stop offset="0.592" stop-color="#ff00b5"/><stop offset="0.660" stop-color="#ff006d"/><stop offset="0.729" stop-color="#ff003a"/><stop offset="0.815" stop-color="#ff0015"/><stop offset="0.929" stop-color="#ff0001"/><stop offset="1.000" stop-color="#ff0000"/></linearGradient><linearGradient id="r177" href="#g"><stop offset="0.000" stop-color="#007cff"/><stop offset="0.225" stop-color="#004eff"/><stop offset="0.284" stop-color="#053eff"/><stop offset="0.340" stop-color="#232dff"/><stop offset="0.395" stop-color="#551bff"/><stop offset="0.462" stop-color="#ae07ff"/><stop offset="0.515" stop-color="#f300ff"/><stop offset="0.536" stop-color="#ff00f9"/><stop offset="0.599" stop-color="#ff00b1"/><stop offset="0.666" stop-color="#ff006a"/><stop offset="0.737" stop-color="#ff0037"/><stop offset="0.826" stop-color="#ff0014"/><stop offset="0.941" stop-color="#ff0000"/><stop offset="1.000" stop-color="#ff0000"/></linearGradient><linearGradient id="r178" href="#g"><stop offset="0.000" stop-color="#0079ff"/><stop offset="0.227" stop-color="#004aff"/><stop offset="0.284" stop-color="#063aff"/><stop offset="0.342" stop-color="#2528ff"/><stop offset="0.399" stop-color="#5a17ff"/><stop offset="0.473" stop-color="#bc03ff"/><stop offset="0.519" stop-color="#f600ff"/><stop offset="0.542" stop-color="#ff00f5"/><stop offset="0.655" stop-color="#ff0076"/><stop offset="0.725" stop-color="#ff0041"/><stop offset="0.809" stop-color="#ff001a"/><stop offset="0.920" stop-color="#ff0003"/><stop offset="1.000" stop-color="#ff0000"/></linearGradient><linearGradient id="r179" href="#g"><stop offset="0.000" stop-color="#0075ff"/><stop offset="0.229" stop-color="#0045ff"/><stop offset="0.284" stop-color="#0636ff"/><stop offset="0.342" stop-color="#2525ff"/><stop offset="0.399" stop-color="#5913ff"/><stop offset="0.473" stop-color="#ba02ff"/><stop offset="0.519" stop-color="#f400ff"/><stop offset="0.540" stop-color="#ff00f8"/><stop offset="0.660" stop-color="#ff0075"/><stop offset="0.729" stop-color="#ff0040"/><stop offset="0.813" stop-color="#ff001a"/><stop offset="0.926" stop-color="#ff0003"/><stop offset="1.000" stop-color="#ff0000"/></linearGradient><linearGradient id="r180" href="#g"><stop offset="0.000" stop-color="#0072ff"/><stop offset="0.233" stop-color="#0040ff"/><stop offset="0.286" stop-color="#0732ff"/><stop offset="0.345" stop-color="#2621ff"/><stop offset="0.401" stop-color="#5b10ff"/><stop offset="0.481" stop-color="#c500ff"/><stop offset="0.523" stop-color="#f700ff"/><stop offset="0.546" stop-color="#ff00f4"/><stop offset="0.660" stop-color="#ff0078"/><stop offset="0.731" stop-color="#ff0041"/><stop offset="0.817" stop-color="#ff001a"/><stop offset="0.931" stop-color="#ff0003"/><stop offset="1.000" stop-color="#ff0000"/></linearGradient><linearGradient id="r181" href="#g"><stop offset="0.000" stop-color="#006eff"/><stop offset="0.235" stop-color="#003cff"/><stop offset="0.286" stop-color="#072eff"/><stop offset="0.347" stop-color="#281dff"/><stop offset="0.405" stop-color="#600cff"/><stop offset="0.483" stop-color="#c600ff"/><stop offset="0.525" stop-color="#f700ff"/><stop offset="0.548" stop-color="#ff00f4"/><stop offset="0.662" stop-color="#ff0078"/><stop offset="0.733" stop-color="#ff0042"/><stop offset="0.819" stop-color="#ff001b"/><stop offset="0.935" stop-color="#ff0003"/><stop offset="1.000" stop-color="#ff0000"/></linearGradient><linearGradient id="r182" href="#g"><stop offset="0.000" stop-color="#006bff"/><stop offset="0.239" stop-color="#0037ff"/><stop offset="0.290" stop-color="#092aff"/><stop offset="0.351" stop-color="#2c18ff"/><stop offset="0.410" stop-color="#6409ff"/><stop offset="0.487" stop-color="#ca00ff"/><stop offset="0.527" stop-color="#f800ff"/><stop offset="0.550" stop-color="#ff00f4"/><stop offset="0.666" stop-color="#ff0077"/><stop offset="0.737" stop-color="#ff0042"/><stop offset="0.824" stop-color="#ff001b"/><stop offset="0.939" stop-color="#ff0003"/><stop offset="1.000" stop-color="#ff0000"/></linearGradient><linearGradient id="r183" href="#g"><stop offset="0.000" stop-color="#0067ff"/><stop offset="0.246" stop-color="#0032ff"/><stop offset="0.300" stop-color="#0e23ff"/><stop offset="0.361" stop-color="#3413ff"/><stop offset="0.422" stop-color="#7304ff"/><stop offset="0.519" stop-color="#ef00ff"/><stop offset="0.542" stop-color="#fe00fb"/><stop offset="0.588" stop-color="#ff00cd"/><stop offset="0.668" stop-color="#ff0078"/><stop offset="0.742" stop-color="#ff0042"/><stop offset="0.830" stop-color="#ff001b"/><stop offset="0.947" stop-color="#ff0003"/><stop offset="1.000" stop-color="#ff0000"/></linearGradient><linearGradient id="r184" href="#g"><stop offset="0.000" stop-color="#0064ff"/><stop offset="0.252" stop-color="#002dff"/><stop offset="0.311" stop-color="#131eff"/><stop offset="0.372" stop-color="#3d0eff"/><stop offset="0.435" stop-color="#8201ff"/><stop offset="0.521" stop-color="#ef00ff"/><stop offset="0.544" stop-color="#fe00fb"/><stop offset="0.592" stop-color="#ff00cb"/><stop offset="0.672" stop-color="#ff0077"/><stop offset="0.746" stop-color="#ff0041"/><stop offset="0.834" stop-color="#ff001b"/><stop offset="0.954" stop-color="#ff0003"/><stop offset="1.000" stop-color="#ff0000"/></linearGradient><linearGradient id="r185" href="#g"><stop offset="0.000" stop-color="#0061ff"/><stop offset="0.258" stop-color="#0128ff"/><stop offset="0.321" stop-color="#1918ff"/><stop offset="0.382" stop-color="#4709ff"/><stop offset="0.447" stop-color="#9100ff"/><stop offset="0.523" stop-color="#f000ff"/><stop offset="0.546" stop-color="#fe00fb"/><stop offset="0.597" stop-color="#ff00c8"/><stop offset="0.676" stop-color="#ff0076"/><stop offset="0.750" stop-color="#ff0041"/><stop offset="0.840" stop-color="#ff001a"/><stop offset="0.960" stop-color="#ff0003"/><stop offset="1.000" stop-color="#ff0000"/></linearGradient><linearGradient id="r186" href="#g"><stop offset="0.000" stop-color="#005eff"/><stop offset="0.267" stop-color="#0323ff"/><stop offset="0.330" stop-color="#1e13ff"/><stop offset="0.391" stop-color="#4f05ff"/><stop offset="0.460" stop-color="#a000ff"/><stop offset="0.525" stop-color="#f100ff"/><stop offset="0.548" stop-color="#ff00fb"/><stop offset="0.601" stop-color="#ff00c6"/><stop offset="0.681" stop-color="#ff0075"/><stop offset="0.756" stop-color="#ff003f"/><stop offset="0.849" stop-color="#ff0019"/><stop offset="0.973" stop-color="#ff0002"/><stop offset="1.000" stop-color="#ff0000"/></linearGradient><linearGradient id="r187" href="#g"><stop offset="0.000" stop-color="#005aff"/><stop offset="0.267" stop-color="#0320ff"/><stop offset="0.332" stop-color="#2010ff"/><stop offset="0.393" stop-color="#5103ff"/><stop offset="0.464" stop-color="#a500ff"/><stop offset="0.527" stop-color="#f100ff"/><stop offset="0.550" stop-color="#ff00fa"/><stop offset="0.605" stop-color="#ff00c4"/><stop offset="0.685" stop-color="#ff0073"/><stop offset="0.761" stop-color="#ff003f"/><stop offset="0.853" stop-color="#ff0019"/><stop offset="0.977" stop-color="#ff0002"/><stop offset="1.000" stop-color="#ff0000"/></linearGradient><linearGradient id="r188" href="#g"><stop offset="0.000" stop-color="#0057ff"/><stop offset="0.265" stop-color="#031eff"/><stop offset="0.330" stop-color="#1f0fff"/><stop offset="0.393" stop-color="#5102ff"/><stop offset="0.464" stop-color="#a400ff"/><stop offset="0.529" stop-color="#f200ff"/><stop offset="0.553" stop-color="#ff00fa"/><stop offset="0.611" stop-color="#ff00bf"/><stop offset="0.691" stop-color="#ff0071"/><stop offset="0.769" stop-color="#ff003d"/><stop offset="0.863" stop-color="#ff0018"/><stop offset="0.989" stop-color="#ff0001"/><stop offset="1.000" stop-color="#ff0001"/></linearGradient><linearGradient id="r189" href="#g"><stop offset="0.000" stop-color="#0054ff"/><stop offset="0.265" stop-color="#031cff"/><stop offset="0.330" stop-color="#1f0dff"/><stop offset="0.393" stop-color="#5001ff"/><stop offset="0.466" stop-color="#a500ff"/><stop offset="0.529" stop-color="#f100ff"/><stop offset="0.555" stop-color="#ff00fa"/><stop offset="0.616" stop-color="#ff00bd"/><stop offset="0.695" stop-color="#ff0070"/><stop offset="0.773" stop-color="#ff003c"/><stop offset="0.870" stop-color="#ff0017"/><stop offset="0.998" stop-color="#ff0001"/><stop offset="1.000" stop-color="#ff0001"/></linearGradient><linearGradient id="r190" href="#g"><stop offset="0.000" stop-color="#0051ff"/><stop offset="0.263" stop-color="#031aff"/><stop offset="0.330" stop-color="#1f0bff"/><stop offset="0.393" stop-color="#5001ff"/><stop offset="0.466" stop-color="#a400ff"/><stop offset="0.532" stop-color="#f100ff"/><stop offset="0.557" stop-color="#ff00fa"/><stop offset="0.622" stop-color="#ff00b9"/><stop offset="0.702" stop-color="#ff006d"/><stop offset="0.782" stop-color="#ff003a"/><stop offset="0.880" stop-color="#ff0016"/><stop offset="1.000" stop-color="#ff0002"/></linearGradient><linearGradient id="r191" href="#g"><stop offset="0.000" stop-color="#004eff"/><stop offset="0.263" stop-color="#0317ff"/><stop offset="0.330" stop-color="#1f09ff"/><stop offset="0.393" stop-color="#5000ff"/><stop offset="0.466" stop-color="#a300ff"/><stop offset="0.534" stop-color="#f200ff"/><stop offset="0.559" stop-color="#ff00f9"/><stop offset="0.626" stop-color="#ff00b7"/><stop offset="0.706" stop-color="#ff006c"/><stop offset="0.786" stop-color="#ff003a"/><stop offset="0.884" stop-color="#ff0016"/><stop offset="1.000" stop-color="#ff0002"/></linearGradient><linearGradient id="r192" href="#g"><stop offset="0.000" stop-color="#004cff"/><stop offset="0.261" stop-color="#0315ff"/><stop offset="0.328" stop-color="#1e07ff"/><stop offset="0.393" stop-color="#5000ff"/><stop offset="0.466" stop-color="#a200ff"/><stop offset="0.534" stop-color="#f000ff"/><stop offset="0.559" stop-color="#ff00fb"/><stop offset="0.618" stop-color="#ff00c2"/><stop offset="0.702" stop-color="#ff0072"/><stop offset="0.782" stop-color="#ff003e"/><stop offset="0.880" stop-color="#ff0018"/><stop offset="1.000" stop-color="#ff0003"/></linearGradient><linearGradient id="r193" href="#g"><stop offset="0.000" stop-color="#0049ff"/><stop offset="0.261" stop-color="#0313ff"/><stop offset="0.330" stop-color="#2005ff"/><stop offset="0.395" stop-color="#5200ff"/><stop offset="0.471" stop-color="#a600ff"/><stop offset="0.536" stop-color="#f100ff"/><stop offset="0.561" stop-color="#ff00fa"/><stop offset="0.622" stop-color="#ff00c0"/><stop offset="0.706" stop-color="#ff0071"/><stop offset="0.788" stop-color="#ff003d"/><stop offset="0.887" stop-color="#ff0018"/><stop offset="1.000" stop-color="#ff0003"/></linearGradient><linearGradient id="r194" href="#g"><stop offset="0.000" stop-color="#0046ff"/><stop offset="0.261" stop-color="#0311ff"/><stop offset="0.330" stop-color="#2004ff"/><stop offset="0.395" stop-color="#5100ff"/><stop offset="0.473" stop-color="#a800ff"/><stop offset="0.538" stop-color="#f200ff"/><stop offset="0.563" stop-color="#ff00fa"/><stop offset="0.628" stop-color="#ff00bc"/><stop offset="0.710" stop-color="#ff0070"/><stop offset="0.792" stop-color="#ff003c"/><stop offset="0.893" stop-color="#ff0017"/><stop offset="1.000" stop-color="#ff0004"/></linearGradient><linearGradient id="r195" href="#g"><stop offset="0.000" stop-color="#0043ff"/><stop offset="0.258" stop-color="#0310ff"/><stop offset="0.328" stop-color="#1f03ff"/><stop offset="0.395" stop-color="#5100ff"/><stop offset="0.473" stop-color="#a600ff"/><stop offset="0.540" stop-color="#f200ff"/><stop offset="0.565" stop-color="#ff00fa"/><stop offset="0.632" stop-color="#ff00ba"/><stop offset="0.716" stop-color="#ff006d"/><stop offset="0.800" stop-color="#ff003a"/><stop offset="0.903" stop-color="#ff0016"/><stop offset="1.000" stop-color="#ff0005"/></linearGradient><linearGradient id="r196" href="#g"><stop offset="0.000" stop-color="#0041ff"/><stop offset="0.258" stop-color="#030eff"/><stop offset="0.328" stop-color="#1f02ff"/><stop offset="0.395" stop-color="#5100ff"/><stop offset="0.473" stop-color="#a500ff"/><stop offset="0.540" stop-color="#f100ff"/><stop offset="0.565" stop-color="#ff00fb"/><stop offset="0.624" stop-color="#ff00c5"/><stop offset="0.712" stop-color="#ff0073"/><stop offset="0.796" stop-color="#ff003e"/><stop offset="0.897" stop-color="#ff0018"/><stop offset="1.000" stop-color="#ff0005"/></linearGradient><linearGradient id="r197" href="#g"><stop offset="0.000" stop-color="#003eff"/><stop offset="0.256" stop-color="#030cff"/><stop offset="0.328" stop-color="#1f01ff"/><stop offset="0.395" stop-color="#5100ff"/><stop offset="0.473" stop-color="#a400ff"/><stop offset="0.542" stop-color="#f100ff"/><stop offset="0.567" stop-color="#ff00fb"/><stop offset="0.628" stop-color="#ff00c3"/><stop offset="0.716" stop-color="#ff0072"/><stop offset="0.800" stop-color="#ff003e"/><stop offset="0.903" stop-color="#ff0018"/><stop offset="1.000" stop-color="#ff0006"/></linearGradient><linearGradient id="r198" href="#g"><stop offset="0.000" stop-color="#003cff"/><stop offset="0.256" stop-color="#030bff"/><stop offset="0.328" stop-color="#2001ff"/><stop offset="0.395" stop-color="#5100ff"/><stop offset="0.475" stop-color="#a600ff"/><stop offset="0.544" stop-color="#f200ff"/><stop offset="0.569" stop-color="#ff00fa"/><stop offset="0.634" stop-color="#ff00bf"/><stop offset="0.721" stop-color="#ff0071"/><stop offset="0.805" stop-color="#ff003d"/><stop offset="0.908" stop-color="#ff0018"/><stop offset="1.000" stop-color="#ff0007"/></linearGradient><linearGradient id="r199" href="#g"><stop offset="0.000" stop-color="#0039ff"/><stop offset="0.254" stop-color="#0309ff"/><stop offset="0.326" stop-color="#1f00ff"/><stop offset="0.395" stop-color="#5100ff"/><stop offset="0.475" stop-color="#a500ff"/><stop offset="0.544" stop-color="#f100ff"/><stop offset="0.569" stop-color="#ff00fb"/><stop offset="0.626" stop-color="#ff00c9"/><stop offset="0.718" stop-color="#ff0075"/><stop offset="0.803" stop-color="#ff0040"/><stop offset="0.905" stop-color="#ff001a"/><stop offset="1.000" stop-color="#ff0008"/></linearGradient><linearGradient id="r200" href="#g"><stop offset="0.000" stop-color="#0037ff"/><stop offset="0.254" stop-color="#0308ff"/><stop offset="0.328" stop-color="#2000ff"/><stop offset="0.397" stop-color="#5200ff"/><stop offset="0.479" stop-color="#a900ff"/><stop offset="0.546" stop-color="#f100ff"/><stop offset="0.571" stop-color="#ff00fb"/><stop offset="0.632" stop-color="#ff00c5"/><stop offset="0.723" stop-color="#ff0074"/><stop offset="0.809" stop-color="#ff003f"/><stop offset="0.914" stop-color="#ff0019"/><stop offset="1.000" stop-color="#ff0008"/></linearGradient><linearGradient id="r201" href="#g"><stop offset="0.000" stop-color="#0034ff"/><stop offset="0.252" stop-color="#0307ff"/><stop offset="0.326" stop-color="#1f00ff"/><stop offset="0.395" stop-color="#5000ff"/><stop offset="0.477" stop-color="#a500ff"/><stop offset="0.548" stop-color="#f200ff"/><stop offset="0.574" stop-color="#ff00fb"/><stop offset="0.637" stop-color="#ff00c3"/><stop offset="0.727" stop-color="#ff0073"/><stop offset="0.813" stop-color="#ff003f"/><stop offset="0.918" stop-color="#ff0019"/><stop offset="1.000" stop-color="#ff0009"/></linearGradient><linearGradient id="r202" href="#g"><stop offset="0.000" stop-color="#0032ff"/><stop offset="0.252" stop-color="#0306ff"/><stop offset="0.326" stop-color="#1f00ff"/><stop offset="0.397" stop-color="#5200ff"/><stop offset="0.479" stop-color="#a700ff"/><stop offset="0.550" stop-color="#f200ff"/><stop offset="0.576" stop-color="#ff00fb"/><stop offset="0.641" stop-color="#ff00c1"/><stop offset="0.731" stop-color="#ff0072"/><stop offset="0.819" stop-color="#ff003e"/><stop offset="0.926" stop-color="#ff0018"/><stop offset="1.000" stop-color="#ff000a"/></linearGradient><linearGradient id="r203" href="#g"><stop offset="0.000" stop-color="#0030ff"/><stop offset="0.252" stop-color="#0304ff"/><stop offset="0.328" stop-color="#2100ff"/><stop offset="0.399" stop-color="#5400ff"/><stop offset="0.485" stop-color="#ad00ff"/><stop offset="0.553" stop-color="#f300ff"/><stop offset="0.578" stop-color="#ff00fa"/><stop offset="0.645" stop-color="#ff00bf"/><stop offset="0.735" stop-color="#ff0071"/><stop offset="0.824" stop-color="#ff003d"/><stop offset="0.931" stop-color="#ff0018"/><stop offset="1.000" stop-color="#ff000b"/></linearGradient><linearGradient id="r204" href="#g"><stop offset="0.000" stop-color="#002eff"/><stop offset="0.250" stop-color="#0303ff"/><stop offset="0.326" stop-color="#2000ff"/><stop offset="0.397" stop-color="#5200ff"/><stop offset="0.481" stop-color="#a700ff"/><stop offset="0.553" stop-color="#f200ff"/><stop offset="0.580" stop-color="#ff00fa"/><stop offset="0.651" stop-color="#ff00bc"/><stop offset="0.742" stop-color="#ff006f"/><stop offset="0.832" stop-color="#ff003b"/><stop offset="0.943" stop-color="#ff0016"/><stop offset="1.000" stop-color="#ff000b"/></linearGradient><linearGradient id="r205" href="#g"><stop offset="0.000" stop-color="#002cff"/><stop offset="0.250" stop-color="#0302ff"/><stop offset="0.326" stop-color="#2000ff"/><stop offset="0.397" stop-color="#5100ff"/><stop offset="0.481" stop-color="#a600ff"/><stop offset="0.555" stop-color="#f200ff"/><stop offset="0.582" stop-color="#ff00fa"/><stop offset="0.655" stop-color="#ff00ba"/><stop offset="0.746" stop-color="#ff006e"/><stop offset="0.836" stop-color="#ff003b"/><stop offset="0.947" stop-color="#ff0016"/><stop offset="1.000" stop-color="#ff000c"/></linearGradient><linearGradient id="r206" href="#g"><stop offset="0.000" stop-color="#0029ff"/><stop offset="0.248" stop-color="#0302ff"/><stop offset="0.326" stop-color="#2000ff"/><stop offset="0.399" stop-color="#5300ff"/><stop offset="0.485" stop-color="#aa00ff"/><stop offset="0.557" stop-color="#f300ff"/><stop offset="0.584" stop-color="#ff00fa"/><stop offset="0.662" stop-color="#ff00b6"/><stop offset="0.752" stop-color="#ff006c"/><stop offset="0.845" stop-color="#ff0039"/><stop offset="0.958" stop-color="#ff0015"/><stop offset="1.000" stop-color="#ff000d"/></linearGradient><linearGradient id="r207" href="#g"><stop offset="0.000" stop-color="#0027ff"/><stop offset="0.248" stop-color="#0301ff"/><stop offset="0.326" stop-color="#2000ff"/><stop offset="0.399" stop-color="#5300ff"/><stop offset="0.487" stop-color="#ab00ff"/><stop offset="0.559" stop-color="#f300ff"/><stop offset="0.586" stop-color="#ff00fa"/><stop offset="0.668" stop-color="#ff00b2"/><stop offset="0.758" stop-color="#ff006a"/><stop offset="0.851" stop-color="#ff0038"/><stop offset="0.966" stop-color="#ff0014"/><stop offset="1.000" stop-color="#ff000e"/></linearGradient><linearGradient id="r208" href="#g"><stop offset="0.000" stop-color="#0025ff"/><stop offset="0.246" stop-color="#0301ff"/><stop offset="0.324" stop-color="#1f00ff"/><stop offset="0.397" stop-color="#5100ff"/><stop offset="0.483" stop-color="#a500ff"/><stop offset="0.559" stop-color="#f200ff"/><stop offset="0.586" stop-color="#ff00fb"/><stop offset="0.658" stop-color="#ff00be"/><stop offset="0.752" stop-color="#ff0070"/><stop offset="0.845" stop-color="#ff003c"/><stop offset="0.958" stop-color="#ff0017"/><stop offset="1.000" stop-color="#ff000f"/></linearGradient><linearGradient id="r209" href="#g"><stop offset="0.000" stop-color="#0024ff"/><stop offset="0.246" stop-color="#0300ff"/><stop offset="0.324" stop-color="#2000ff"/><stop offset="0.399" stop-color="#5300ff"/><stop offset="0.487" stop-color="#a900ff"/><stop offset="0.561" stop-color="#f200ff"/><stop offset="0.588" stop-color="#ff00fa"/><stop offset="0.662" stop-color="#ff00bc"/><stop offset="0.756" stop-color="#ff006f"/><stop offset="0.849" stop-color="#ff003c"/><stop offset="0.962" stop-color="#ff0017"/><stop offset="1.000" stop-color="#ff0010"/></linearGradient><linearGradient id="r210" href="#g"><stop offset="0.000" stop-color="#0022ff"/><stop offset="0.244" stop-color="#0300ff"/><stop offset="0.324" stop-color="#2000ff"/><stop offset="0.399" stop-color="#5200ff"/><stop offset="0.487" stop-color="#a800ff"/><stop offset="0.561" stop-color="#f100ff"/><stop offset="0.588" stop-color="#ff00fb"/><stop offset="0.655" stop-color="#ff00c4"/><stop offset="0.754" stop-color="#ff0073"/><stop offset="0.847" stop-color="#ff003f"/><stop offset="0.960" stop-color="#ff0019"/><stop offset="1.000" stop-color="#ff0011"/></linearGradient><linearGradient id="r211" href="#g"><stop offset="0.000" stop-color="#0020ff"/><stop offset="0.237" stop-color="#0200ff"/><stop offset="0.317" stop-color="#1d00ff"/><stop offset="0.393" stop-color="#4d00ff"/><stop offset="0.479" stop-color="#9e00ff"/><stop offset="0.561" stop-color="#f000ff"/><stop offset="0.590" stop-color="#ff00fb"/><stop offset="0.660" stop-color="#ff00c2"/><stop offset="0.758" stop-color="#ff0072"/><stop offset="0.853" stop-color="#ff003d"/><stop offset="0.968" stop-color="#ff0018"/><stop offset="1.000" stop-color="#ff0012"/></linearGradient><linearGradient id="r212" href="#g"><stop offset="0.000" stop-color="#001eff"/><stop offset="0.231" stop-color="#0100ff"/><stop offset="0.311" stop-color="#1a00ff"/><stop offset="0.389" stop-color="#4a00ff"/><stop offset="0.473" stop-color="#9700ff"/><stop offset="0.563" stop-color="#f100ff"/><stop offset="0.592" stop-color="#ff00fb"/><stop offset="0.664" stop-color="#ff00c1"/><stop offset="0.763" stop-color="#ff0071"/><stop offset="0.857" stop-color="#ff003d"/><stop offset="0.973" stop-color="#ff0018"/><stop offset="1.000" stop-color="#ff0013"/></linearGradient><linearGradient id="r213" href="#g"><stop offset="0.000" stop-color="#001cff"/><stop offset="0.225" stop-color="#0000ff"/><stop offset="0.305" stop-color="#1800ff"/><stop offset="0.382" stop-color="#4500ff"/><stop offset="0.464" stop-color="#8d00ff"/><stop offset="0.563" stop-color="#f000ff"/><stop offset="0.592" stop-color="#ff00fc"/><stop offset="0.658" stop-color="#ff00c8"/><stop offset="0.761" stop-color="#ff0075"/><stop offset="0.855" stop-color="#ff0040"/><stop offset="0.971" stop-color="#ff001a"/><stop offset="1.000" stop-color="#ff0014"/></linearGradient><linearGradient id="r214" href="#g"><stop offset="0.000" stop-color="#001bff"/><stop offset="0.218" stop-color="#0000ff"/><stop offset="0.296" stop-color="#1400ff"/><stop offset="0.374" stop-color="#3f00ff"/><stop offset="0.456" stop-color="#8400ff"/><stop offset="0.565" stop-color="#f000ff"/><stop offset="0.595" stop-color="#ff00fb"/><stop offset="0.662" stop-color="#ff00c7"/><stop offset="0.765" stop-color="#ff0074"/><stop offset="0.861" stop-color="#ff003f"/><stop offset="0.979" stop-color="#ff0019"/><stop offset="1.000" stop-color="#ff0015"/></linearGradient><linearGradient id="r215" href="#g"><stop offset="0.000" stop-color="#0019ff"/><stop offset="0.212" stop-color="#0000ff"/><stop offset="0.284" stop-color="#1000ff"/><stop offset="0.363" stop-color="#3800ff"/><stop offset="0.443" stop-color="#7800ff"/><stop offset="0.567" stop-color="#f100ff"/><stop offset="0.597" stop-color="#ff00fb"/><stop offset="0.666" stop-color="#ff00c5"/><stop offset="0.769" stop-color="#ff0073"/><stop offset="0.866" stop-color="#ff003e"/><stop offset="0.983" stop-color="#ff0019"/><stop offset="1.000" stop-color="#ff0016"/></linearGradient><linearGradient id="r216" href="#g"><stop offset="0.000" stop-color="#0018ff"/><stop offset="0.206" stop-color="#0000ff"/><stop offset="0.273" stop-color="#0c00ff"/><stop offset="0.353" stop-color="#3100ff"/><stop offset="0.433" stop-color="#6e00ff"/><stop offset="0.569" stop-color="#f100ff"/><stop offset="0.599" stop-color="#ff00fb"/><stop offset="0.670" stop-color="#ff00c3"/><stop offset="0.773" stop-color="#ff0072"/><stop offset="0.872" stop-color="#ff003d"/><stop offset="0.992" stop-color="#ff0018"/><stop offset="1.000" stop-color="#ff0017"/></linearGradient><linearGradient id="r217" href="#g"><stop offset="0.000" stop-color="#0016ff"/><stop offset="0.200" stop-color="#0000ff"/><stop offset="0.263" stop-color="#0900ff"/><stop offset="0.345" stop-color="#2c00ff"/><stop offset="0.424" stop-color="#6600ff"/><stop offset="0.571" stop-color="#f200ff"/><stop offset="0.601" stop-color="#ff00fb"/><stop offset="0.676" stop-color="#ff00bf"/><stop offset="0.777" stop-color="#ff0071"/><stop offset="0.876" stop-color="#ff003d"/><stop offset="0.996" stop-color="#ff0018"/><stop offset="1.000" stop-color="#ff0018"/></linearGradient><linearGradient id="r218" href="#g"><stop offset="0.000" stop-color="#0015ff"/><stop offset="0.193" stop-color="#0000ff"/><stop offset="0.256" stop-color="#0800ff"/><stop offset="0.340" stop-color="#2a00ff"/><stop offset="0.420" stop-color="#6200ff"/><stop offset="0.574" stop-color="#f200ff"/><stop offset="0.603" stop-color="#ff00fb"/><stop offset="0.681" stop-color="#ff00be"/><stop offset="0.782" stop-color="#ff0071"/><stop offset="0.882" stop-color="#ff003c"/><stop offset="1.000" stop-color="#ff0019"/></linearGradient><linearGradient id="r219" href="#g"><stop offset="0.000" stop-color="#0013ff"/><stop offset="0.187" stop-color="#0000ff"/><stop offset="0.252" stop-color="#0700ff"/><stop offset="0.336" stop-color="#2800ff"/><stop offset="0.418" stop-color="#6000ff"/><stop offset="0.576" stop-color="#f200ff"/><stop offset="0.605" stop-color="#ff00fa"/><stop offset="0.685" stop-color="#ff00bc"/><stop offset="0.786" stop-color="#ff0070"/><stop offset="0.887" stop-color="#ff003c"/><stop offset="1.000" stop-color="#ff001a"/></linearGradient><linearGradient id="r220" href="#g"><stop offset="0.000" stop-color="#0012ff"/><stop offset="0.181" stop-color="#0000ff"/><stop offset="0.248" stop-color="#0600ff"/><stop offset="0.332" stop-color="#2600ff"/><stop offset="0.414" stop-color="#5c00ff"/><stop offset="0.538" stop-color="#d100ff"/><stop offset="0.590" stop-color="#fb00ff"/><stop offset="0.622" stop-color="#ff00f1"/><stop offset="0.775" stop-color="#ff0079"/><stop offset="0.874" stop-color="#ff0043"/><stop offset="0.994" stop-color="#ff001c"/><stop offset="1.000" stop-color="#ff001b"/></linearGradient><linearGradient id="r221" href="#g"><stop offset="0.000" stop-color="#0011ff"/><stop offset="0.174" stop-color="#0000ff"/><stop offset="0.244" stop-color="#0500ff"/><stop offset="0.330" stop-color="#2500ff"/><stop offset="0.412" stop-color="#5a00ff"/><stop offset="0.523" stop-color="#c200ff"/><stop offset="0.586" stop-color="#f700ff"/><stop offset="0.616" stop-color="#ff00f6"/><stop offset="0.782" stop-color="#ff0076"/><stop offset="0.882" stop-color="#ff0041"/><stop offset="0.998" stop-color="#ff001c"/><stop offset="1.000" stop-color="#ff001c"/></linearGradient><linearGradient id="r222" href="#g"><stop offset="0.000" stop-color="#000fff"/><stop offset="0.170" stop-color="#0000ff"/><stop offset="0.242" stop-color="#0500ff"/><stop offset="0.328" stop-color="#2400ff"/><stop offset="0.410" stop-color="#5900ff"/><stop offset="0.517" stop-color="#bb00ff"/><stop offset="0.586" stop-color="#f600ff"/><stop offset="0.616" stop-color="#ff00f7"/><stop offset="0.786" stop-color="#ff0076"/><stop offset="0.887" stop-color="#ff0040"/><stop offset="1.000" stop-color="#ff001d"/></linearGradient><linearGradient id="r223" href="#g"><stop offset="0.000" stop-color="#000eff"/><stop offset="0.164" stop-color="#0000ff"/><stop offset="0.239" stop-color="#0500ff"/><stop offset="0.328" stop-color="#2400ff"/><stop offset="0.412" stop-color="#5a00ff"/><stop offset="0.523" stop-color="#c000ff"/><stop offset="0.588" stop-color="#f700ff"/><stop offset="0.618" stop-color="#ff00f7"/><stop offset="0.788" stop-color="#ff0076"/><stop offset="0.891" stop-color="#ff0040"/><stop offset="1.000" stop-color="#ff001e"/></linearGradient><linearGradient id="r224" href="#g"><stop offset="0.000" stop-color="#000dff"/><stop offset="0.160" stop-color="#0000ff"/><stop offset="0.239" stop-color="#0500ff"/><stop offset="0.328" stop-color="#2500ff"/><stop offset="0.412" stop-color="#5a00ff"/><stop offset="0.523" stop-color="#bf00ff"/><stop offset="0.590" stop-color="#f700ff"/><stop offset="0.620" stop-color="#ff00f7"/><stop offset="0.792" stop-color="#ff0075"/><stop offset="0.895" stop-color="#ff0040"/><stop offset="1.000" stop-color="#ff001f"/></linearGradient><linearGradient id="r225" href="#g"><stop offset="0.000" stop-color="#000cff"/><stop offset="0.153" stop-color="#0000ff"/><stop offset="0.237" stop-color="#0500ff"/><stop offset="0.326" stop-color="#2400ff"/><stop offset="0.410" stop-color="#5800ff"/><stop offset="0.517" stop-color="#b800ff"/><stop offset="0.588" stop-color="#f500ff"/><stop offset="0.618" stop-color="#ff00f9"/><stop offset="0.796" stop-color="#ff0074"/><stop offset="0.901" stop-color="#ff003f"/><stop offset="1.000" stop-color="#ff0020"/></linearGradient><linearGradient id="r226" href="#g"><stop offset="0.000" stop-color="#000bff"/><stop offset="0.151" stop-color="#0000ff"/><stop offset="0.235" stop-color="#0500ff"/><stop offset="0.324" stop-color="#2300ff"/><stop offset="0.408" stop-color="#5600ff"/><stop offset="0.513" stop-color="#b300ff"/><stop offset="0.588" stop-color="#f400ff"/><stop offset="0.618" stop-color="#ff00fa"/><stop offset="0.708" stop-color="#ff00b6"/><stop offset="0.813" stop-color="#ff006c"/><stop offset="0.920" stop-color="#ff0039"/><stop offset="1.000" stop-color="#ff0021"/></linearGradient><linearGradient id="r227" href="#g"><stop offset="0.000" stop-color="#000aff"/><stop offset="0.147" stop-color="#0000ff"/><stop offset="0.233" stop-color="#0400ff"/><stop offset="0.324" stop-color="#2300ff"/><stop offset="0.410" stop-color="#5800ff"/><stop offset="0.519" stop-color="#b800ff"/><stop offset="0.592" stop-color="#f600ff"/><stop offset="0.622" stop-color="#ff00f9"/><stop offset="0.803" stop-color="#ff0074"/><stop offset="0.908" stop-color="#ff003f"/><stop offset="1.000" stop-color="#ff0022"/></linearGradient><linearGradient id="r228" href="#g"><stop offset="0.000" stop-color="#0009ff"/><stop offset="0.145" stop-color="#0000ff"/><stop offset="0.233" stop-color="#0500ff"/><stop offset="0.324" stop-color="#2300ff"/><stop offset="0.410" stop-color="#5800ff"/><stop offset="0.519" stop-color="#b700ff"/><stop offset="0.592" stop-color="#f500ff"/><stop offset="0.622" stop-color="#ff00fa"/><stop offset="0.723" stop-color="#ff00ae"/><stop offset="0.828" stop-color="#ff0067"/><stop offset="0.937" stop-color="#ff0036"/><stop offset="1.000" stop-color="#ff0023"/></linearGradient><linearGradient id="r229" href="#g"><stop offset="0.000" stop-color="#0008ff"/><stop offset="0.145" stop-color="#0000ff"/><stop offset="0.233" stop-color="#0500ff"/><stop offset="0.324" stop-color="#2300ff"/><stop offset="0.410" stop-color="#5700ff"/><stop offset="0.519" stop-color="#b600ff"/><stop offset="0.595" stop-color="#f500ff"/><stop offset="0.624" stop-color="#ff00fa"/><stop offset="0.731" stop-color="#ff00aa"/><stop offset="0.836" stop-color="#ff0064"/><stop offset="0.947" stop-color="#ff0034"/><stop offset="1.000" stop-color="#ff0025"/></linearGradient><linearGradient id="r230" href="#g"><stop offset="0.000" stop-color="#0007ff"/><stop offset="0.149" stop-color="#0000ff"/><stop offset="0.233" stop-color="#0500ff"/><stop offset="0.326" stop-color="#2500ff"/><stop offset="0.414" stop-color="#5a00ff"/><stop offset="0.532" stop-color="#c100ff"/><stop offset="0.599" stop-color="#f700ff"/><stop offset="0.630" stop-color="#ff00f7"/><stop offset="0.809" stop-color="#ff0076"/><stop offset="0.916" stop-color="#ff0040"/><stop offset="1.000" stop-color="#ff0026"/></linearGradient><linearGradient id="r231" href="#g"><stop offset="0.000" stop-color="#0006ff"/><stop offset="0.158" stop-color="#0000ff"/><stop offset="0.233" stop-color="#0500ff"/><stop offset="0.326" stop-color="#2500ff"/><stop offset="0.414" stop-color="#5a00ff"/><stop offset="0.532" stop-color="#c000ff"/><stop offset="0.601" stop-color="#f700ff"/><stop offset="0.632" stop-color="#ff00f7"/><stop offset="0.811" stop-color="#ff0076"/><stop offset="0.920" stop-color="#ff0040"/><stop offset="1.000" stop-color="#ff0027"/></linearGradient><linearGradient id="r232" href="#g"><stop offset="0.000" stop-color="#0005ff"/><stop offset="0.181" stop-color="#0000ff"/><stop offset="0.250" stop-color="#0900ff"/><stop offset="0.342" stop-color="#2d00ff"/><stop offset="0.431" stop-color="#6700ff"/><stop offset="0.592" stop-color="#f100ff"/><stop offset="0.626" stop-color="#ff00fb"/><stop offset="0.710" stop-color="#ff00c0"/><stop offset="0.824" stop-color="#ff0071"/><stop offset="0.935" stop-color="#ff003c"/><stop offset="1.000" stop-color="#ff0028"/></linearGradient><linearGradient id="r233" href="#g"><stop offset="0.000" stop-color="#0004ff"/><stop offset="0.223" stop-color="#0300ff"/><stop offset="0.317" stop-color="#2100ff"/><stop offset="0.405" stop-color="#5400ff"/><stop offset="0.513" stop-color="#ac00ff"/><stop offset="0.597" stop-color="#f300ff"/><stop offset="0.628" stop-color="#ff00fb"/><stop offset="0.714" stop-color="#ff00be"/><stop offset="0.828" stop-color="#ff0070"/><stop offset="0.939" stop-color="#ff003c"/><stop offset="1.000" stop-color="#ff0029"/></linearGradient><linearGradient id="r234" href="#g"><stop offset="0.000" stop-color="#0003ff"/><stop offset="0.221" stop-color="#0300ff"/><stop offset="0.315" stop-color="#2000ff"/><stop offset="0.405" stop-color="#5400ff"/><stop offset="0.513" stop-color="#ac00ff"/><stop offset="0.599" stop-color="#f300ff"/><stop offset="0.630" stop-color="#ff00fb"/><stop offset="0.721" stop-color="#ff00bb"/><stop offset="0.834" stop-color="#ff006e"/><stop offset="0.947" stop-color="#ff003a"/><stop offset="1.000" stop-color="#ff002a"/></linearGradient><linearGradient id="r235" href="#g"><stop offset="0.000" stop-color="#0003ff"/><stop offset="0.221" stop-color="#0300ff"/><stop offset="0.315" stop-color="#2100ff"/><stop offset="0.405" stop-color="#5300ff"/><stop offset="0.513" stop-color="#ab00ff"/><stop offset="0.599" stop-color="#f200ff"/><stop offset="0.632" stop-color="#ff00fa"/><stop offset="0.725" stop-color="#ff00b9"/><stop offset="0.838" stop-color="#ff006d"/><stop offset="0.952" stop-color="#ff003a"/><stop offset="1.000" stop-color="#ff002b"/></linearGradient><linearGradient id="r236" href="#g"><stop offset="0.000" stop-color="#0002ff"/><stop offset="0.218" stop-color="#0300ff"/><stop offset="0.315" stop-color="#2100ff"/><stop offset="0.405" stop-color="#5300ff"/><stop offset="0.515" stop-color="#ac00ff"/><stop offset="0.601" stop-color="#f300ff"/><stop offset="0.632" stop-color="#ff00fb"/><stop offset="0.718" stop-color="#ff00c0"/><stop offset="0.834" stop-color="#ff0071"/><stop offset="0.947" stop-color="#ff003d"/><stop offset="1.000" stop-color="#ff002d"/></linearGradient><linearGradient id="r237" href="#g"><stop offset="0.000" stop-color="#0001ff"/><stop offset="0.218" stop-color="#0300ff"/><stop offset="0.315" stop-color="#2100ff"/><stop offset="0.408" stop-color="#5500ff"/><stop offset="0.519" stop-color="#af00ff"/><stop offset="0.603" stop-color="#f300ff"/><stop offset="0.634" stop-color="#ff00fb"/><stop offset="0.725" stop-color="#ff00bd"/><stop offset="0.840" stop-color="#ff006f"/><stop offset="0.954" stop-color="#ff003c"/><stop offset="1.000" stop-color="#ff002e"/></linearGradient><linearGradient id="r238" href="#g"><stop offset="0.000" stop-color="#0001ff"/><stop offset="0.218" stop-color="#0300ff"/><stop offset="0.315" stop-color="#2100ff"/><stop offset="0.408" stop-color="#5400ff"/><stop offset="0.519" stop-color="#af00ff"/><stop offset="0.605" stop-color="#f400ff"/><stop offset="0.637" stop-color="#ff00fa"/><stop offset="0.733" stop-color="#ff00b7"/><stop offset="0.847" stop-color="#ff006d"/><stop offset="0.962" stop-color="#ff003a"/><stop offset="1.000" stop-color="#ff002e"/></linearGradient><clipPath id="hs"><path d="M201.1 988.0C201.1 988.0 201.1 988.0 201.0 988.0C201.0 988.0 200.9 988.0 200.9 988.0C200.9 988.0 200.8 988.0 200.8 988.0C200.7 988.0 200.6 988.1 200.6 988.1C200.5 988.1 200.5 988.1 200.4 988.1C200.3 988.1 200.2 988.1 200.1 988.1C200.0 988.1 199.9 988.1 199.8 988.1C199.7 988.1 199.6 988.0 199.4 987.9C199.2 987.8 198.9 987.7 198.7 987.5C198.4 987.3 198.1 987.2 197.8 986.9C197.4 986.6 197.0 986.3 196.5 985.9C196.0 985.5 195.5 985.1 194.9 984.6C194.3 984.1 193.6 983.6 192.8 983.0C191.9 982.3 191.0 981.6 189.9 980.8C188.8 979.9 187.6 979.1 186.3 977.9C184.9 976.8 183.5 975.6 181.8 974.0C180.1 972.3 178.5 970.8 176.4 968.2C174.2 965.5 171.8 962.5 169.0 958.0C166.3 953.6 163.3 948.7 159.8 941.6C156.2 934.5 152.4 926.3 148.0 915.6C143.7 904.8 138.4 892.4 133.5 877.0C128.6 861.7 123.4 843.6 118.6 823.6C113.8 803.5 108.5 779.8 104.6 756.8C100.6 733.8 96.9 708.5 94.8 685.6C92.7 662.7 91.4 639.6 92.0 619.6C92.6 599.6 94.7 580.4 98.4 565.5C102.1 550.7 108.0 538.4 114.4 530.5C120.9 522.6 129.1 519.5 137.1 518.1C145.2 516.8 154.1 519.8 162.7 522.4C171.3 525.1 180.3 529.7 188.7 533.9C197.1 538.1 205.1 542.8 213.1 547.7C221.2 552.6 228.9 557.8 236.7 563.2C244.5 568.6 252.2 574.3 259.9 580.2C267.6 586.1 275.2 592.2 282.8 598.3C290.5 604.5 298.1 610.9 305.7 617.3C313.3 623.7 321.0 630.2 328.7 636.8C336.3 643.3 343.9 650.0 351.5 656.6C359.1 663.2 366.7 669.8 374.2 676.3C381.7 682.9 389.1 689.5 396.4 695.9C403.7 702.3 411.0 708.7 418.0 714.9C425.1 721.2 432.0 727.3 438.7 733.2C445.4 739.1 452.0 744.9 458.2 750.3C464.4 755.8 470.4 761.1 476.0 766.0C481.5 770.9 486.6 775.4 491.4 779.6C496.2 783.9 500.9 788.0 505.0 791.6C509.1 795.2 512.9 798.5 516.3 801.5C519.7 804.5 522.7 807.1 525.4 809.6C528.2 812.0 530.6 814.1 532.8 816.0C534.9 818.0 536.8 819.6 538.6 821.1C540.3 822.7 541.8 824.0 543.3 825.3C544.7 826.5 546.0 827.7 547.2 828.7C548.4 829.8 549.4 830.7 550.4 831.6C551.3 832.4 552.2 833.1 552.9 833.8C553.7 834.4 554.3 835.0 554.9 835.5C555.4 836.0 555.9 836.4 556.3 836.8C556.8 837.2 557.1 837.5 557.4 837.7C557.7 838.0 557.9 838.2 558.1 838.4C558.3 838.5 558.5 838.7 558.7 838.9C558.9 839.0 559.0 839.1 559.2 839.3C559.3 839.4 559.5 839.5 559.6 839.7C559.7 839.8 559.9 839.9 560.0 840.0C560.1 840.1 560.2 840.2 560.3 840.2C560.3 840.3 560.3 840.3 560.4 840.3C560.4 840.4 560.4 840.4 560.4 840.4Z"/></clipPath></defs>
<g clip-path="url(#hs)"><rect x="88" y="514" width="476" height="2.6" fill="url(#r0)"/><rect x="88" y="516" width="476" height="2.6" fill="url(#r1)"/><rect x="88" y="518" width="476" height="2.6" fill="url(#r2)"/><rect x="88" y="520" width="476" height="2.6" fill="url(#r3)"/><rect x="88" y="522" width="476" height="2.6" fill="url(#r4)"/><rect x="88" y="524" width="476" height="2.6" fill="url(#r5)"/><rect x="88" y="526" width="476" height="2.6" fill="url(#r6)"/><rect x="88" y="528" width="476" height="2.6" fill="url(#r7)"/><rect x="88" y="530" width="476" height="2.6" fill="url(#r8)"/><rect x="88" y="532" width="476" height="2.6" fill="url(#r9)"/><rect x="88" y="534" width="476" height="2.6" fill="url(#r10)"/><rect x="88" y="536" width="476" height="2.6" fill="url(#r11)"/><rect x="88" y="538" width="476" height="2.6" fill="url(#r12)"/><rect x="88" y="540" width="476" height="2.6" fill="url(#r13)"/><rect x="88" y="542" width="476" height="2.6" fill="url(#r14)"/><rect x="88" y="544" width="476" height="2.6" fill="url(#r15)"/><rect x="88" y="546" width="476" height="2.6" fill="url(#r16)"/><rect x="88" y="548" width="476" height="2.6" fill="url(#r17)"/><rect x="88" y="550" width="476" height="2.6" fill="url(#r18)"/><rect x="88" y="552" width="476" height="2.6" fill="url(#r19)"/><rect x="88" y="554" width="476" height="2.6" fill="url(#r20)"/><rect x="88" y="556" width="476" height="2.6" fill="url(#r21)"/><rect x="88" y="558" width="476" height="2.6" fill="url(#r22)"/><rect x="88" y="560" width="476" height="2.6" fill="url(#r23)"/><rect x="88" y="562" width="476" height="2.6" fill="url(#r24)"/><rect x="88" y="564" width="476" height="2.6" fill="url(#r25)"/><rect x="88" y="566" width="476" height="2.6" fill="url(#r26)"/><rect x="88" y="568" width="476" height="2.6" fill="url(#r27)"/><rect x="88" y="570" width="476" height="2.6" fill="url(#r28)"/><rect x="88" y="572" width="476" height="2.6" fill="url(#r29)"/><rect x="88" y="574" width="476" height="2.6" fill="url(#r30)"/><rect x="88" y="576" width="476" height="2.6" fill="url(#r31)"/><rect x="88" y="578" width="476" height="2.6" fill="url(#r32)"/><rect x="88" y="580" width="476" height="2.6" fill="url(#r33)"/><rect x="88" y="582" width="476" height="2.6" fill="url(#r34)"/><rect x="88" y="584" width="476" height="2.6" fill="url(#r35)"/><rect x="88" y="586" width="476" height="2.6" fill="url(#r36)"/><rect x="88" y="588" width="476" height="2.6" fill="url(#r37)"/><rect x="88" y="590" width="476" height="2.6" fill="url(#r38)"/><rect x="88" y="592" width="476" height="2.6" fill="url(#r39)"/><rect x="88" y="594" width="476" height="2.6" fill="url(#r40)"/><rect x="88" y="596" width="476" height="2.6" fill="url(#r41)"/><rect x="88" y="598" width="476" height="2.6" fill="url(#r42)"/><rect x="88" y="600" width="476" height="2.6" fill="url(#r43)"/><rect x="88" y="602" width="476" height="2.6" fill="url(#r44)"/><rect x="88" y="604" width="476" height="2.6" fill="url(#r45)"/><rect x="88" y="606" width="476" height="2.6" fill="url(#r46)"/><rect x="88" y="608" width="476" height="2.6" fill="url(#r47)"/><rect x="88" y="610" width="476" height="2.6" fill="url(#r48)"/><rect x="88" y="612" width="476" height="2.6" fill="url(#r49)"/><rect x="88" y="614" width="476" height="2.6" fill="url(#r50)"/><rect x="88" y="616" width="476" height="2.6" fill="url(#r51)"/><rect x="88" y="618" width="476" height="2.6" fill="url(#r52)"/><rect x="88" y="620" width="476" height="2.6" fill="url(#r53)"/><rect x="88" y="622" width="476" height="2.6" fill="url(#r54)"/><rect x="88" y="624" width="476" height="2.6" fill="url(#r55)"/><rect x="88" y="626" width="476" height="2.6" fill="url(#r56)"/><rect x="88" y="628" width="476" height="2.6" fill="url(#r57)"/><rect x="88" y="630" width="476" height="2.6" fill="url(#r58)"/><rect x="88" y="632" width="476" height="2.6" fill="url(#r59)"/><rect x="88" y="634" width="476" height="2.6" fill="url(#r60)"/><rect x="88" y="636" width="476" height="2.6" fill="url(#r61)"/><rect x="88" y="638" width="476" height="2.6" fill="url(#r62)"/><rect x="88" y="640" width="476" height="2.6" fill="url(#r63)"/><rect x="88" y="642" width="476" height="2.6" fill="url(#r64)"/><rect x="88" y="644" width="476" height="2.6" fill="url(#r65)"/><rect x="88" y="646" width="476" height="2.6" fill="url(#r66)"/><rect x="88" y="648" width="476" height="2.6" fill="url(#r67)"/><rect x="88" y="650" width="476" height="2.6" fill="url(#r68)"/><rect x="88" y="652" width="476" height="2.6" fill="url(#r69)"/><rect x="88" y="654" width="476" height="2.6" fill="url(#r70)"/><rect x="88" y="656" width="476" height="2.6" fill="url(#r71)"/><rect x="88" y="658" width="476" height="2.6" fill="url(#r72)"/><rect x="88" y="660" width="476" height="2.6" fill="url(#r73)"/><rect x="88" y="662" width="476" height="2.6" fill="url(#r74)"/><rect x="88" y="664" width="476" height="2.6" fill="url(#r75)"/><rect x="88" y="666" width="476" height="2.6" fill="url(#r76)"/><rect x="88" y="668" width="476" height="2.6" fill="url(#r77)"/><rect x="88" y="670" width="476" height="2.6" fill="url(#r78)"/><rect x="88" y="672" width="476" height="2.6" fill="url(#r79)"/><rect x="88" y="674" width="476" height="2.6" fill="url(#r80)"/><rect x="88" y="676" width="476" height="2.6" fill="url(#r81)"/><rect x="88" y="678" width="476" height="2.6" fill="url(#r82)"/><rect x="88" y="680" width="476" height="2.6" fill="url(#r83)"/><rect x="88" y="682" width="476" height="2.6" fill="url(#r84)"/><rect x="88" y="684" width="476" height="2.6" fill="url(#r85)"/><rect x="88" y="686" width="476" height="2.6" fill="url(#r86)"/><rect x="88" y="688" width="476" height="2.6" fill="url(#r87)"/><rect x="88" y="690" width="476" height="2.6" fill="url(#r88)"/><rect x="88" y="692" width="476" height="2.6" fill="url(#r89)"/><rect x="88" y="694" width="476" height="2.6" fill="url(#r90)"/><rect x="88" y="696" width="476" height="2.6" fill="url(#r91)"/><rect x="88" y="698" width="476" height="2.6" fill="url(#r92)"/><rect x="88" y="700" width="476" height="2.6" fill="url(#r93)"/><rect x="88" y="702" width="476" height="2.6" fill="url(#r94)"/><rect x="88" y="704" width="476" height="2.6" fill="url(#r95)"/><rect x="88" y="706" width="476" height="2.6" fill="url(#r96)"/><rect x="88" y="708" width="476" height="2.6" fill="url(#r97)"/><rect x="88" y="710" width="476" height="2.6" fill="url(#r98)"/><rect x="88" y="712" width="476" height="2.6" fill="url(#r99)"/><rect x="88" y="714" width="476" height="2.6" fill="url(#r100)"/><rect x="88" y="716" width="476" height="2.6" fill="url(#r101)"/><rect x="88" y="718" width="476" height="2.6" fill="url(#r102)"/><rect x="88" y="720" width="476" height="2.6" fill="url(#r103)"/><rect x="88" y="722" width="476" height="2.6" fill="url(#r104)"/><rect x="88" y="724" width="476" height="2.6" fill="url(#r105)"/><rect x="88" y="726" width="476" height="2.6" fill="url(#r106)"/><rect x="88" y="728" width="476" height="2.6" fill="url(#r107)"/><rect x="88" y="730" width="476" height="2.6" fill="url(#r108)"/><rect x="88" y="732" width="476" height="2.6" fill="url(#r109)"/><rect x="88" y="734" width="476" height="2.6" fill="url(#r110)"/><rect x="88" y="736" width="476" height="2.6" fill="url(#r111)"/><rect x="88" y="738" width="476" height="2.6" fill="url(#r112)"/><rect x="88" y="740" width="476" height="2.6" fill="url(#r113)"/><rect x="88" y="742" width="476" height="2.6" fill="url(#r114)"/><rect x="88" y="744" width="476" height="2.6" fill="url(#r115)"/><rect x="88" y="746" width="476" height="2.6" fill="url(#r116)"/><rect x="88" y="748" width="476" height="2.6" fill="url(#r117)"/><rect x="88" y="750" width="476" height="2.6" fill="url(#r118)"/><rect x="88" y="752" width="476" height="2.6" fill="url(#r119)"/><rect x="88" y="754" width="476" height="2.6" fill="url(#r120)"/><rect x="88" y="756" width="476" height="2.6" fill="url(#r121)"/><rect x="88" y="758" width="476" height="2.6" fill="url(#r122)"/><rect x="88" y="760" width="476" height="2.6" fill="url(#r123)"/><rect x="88" y="762" width="476" height="2.6" fill="url(#r124)"/><rect x="88" y="764" width="476" height="2.6" fill="url(#r125)"/><rect x="88" y="766" width="476" height="2.6" fill="url(#r126)"/><rect x="88" y="768" width="476" height="2.6" fill="url(#r127)"/><rect x="88" y="770" width="476" height="2.6" fill="url(#r128)"/><rect x="88" y="772" width="476" height="2.6" fill="url(#r129)"/><rect x="88" y="774" width="476" height="2.6" fill="url(#r130)"/><rect x="88" y="776" width="476" height="2.6" fill="url(#r131)"/><rect x="88" y="778" width="476" height="2.6" fill="url(#r132)"/><rect x="88" y="780" width="476" height="2.6" fill="url(#r133)"/><rect x="88" y="782" width="476" height="2.6" fill="url(#r134)"/><rect x="88" y="784" width="476" height="2.6" fill="url(#r135)"/><rect x="88" y="786" width="476" height="2.6" fill="url(#r136)"/><rect x="88" y="788" width="476" height="2.6" fill="url(#r137)"/><rect x="88" y="790" width="476" height="2.6" fill="url(#r138)"/><rect x="88" y="792" width="476" height="2.6" fill="url(#r139)"/><rect x="88" y="794" width="476" height="2.6" fill="url(#r140)"/><rect x="88" y="796" width="476" height="2.6" fill="url(#r141)"/><rect x="88" y="798" width="476" height="2.6" fill="url(#r142)"/><rect x="88" y="800" width="476" height="2.6" fill="url(#r143)"/><rect x="88" y="802" width="476" height="2.6" fill="url(#r144)"/><rect x="88" y="804" width="476" height="2.6" fill="url(#r145)"/><rect x="88" y="806" width="476" height="2.6" fill="url(#r146)"/><rect x="88" y="808" width="476" height="2.6" fill="url(#r147)"/><rect x="88" y="810" width="476" height="2.6" fill="url(#r148)"/><rect x="88" y="812" width="476" height="2.6" fill="url(#r149)"/><rect x="88" y="814" width="476" height="2.6" fill="url(#r150)"/><rect x="88" y="816" width="476" height="2.6" fill="url(#r151)"/><rect x="88" y="818" width="476" height="2.6" fill="url(#r152)"/><rect x="88" y="820" width="476" height="2.6" fill="url(#r153)"/><rect x="88" y="822" width="476" height="2.6" fill="url(#r154)"/><rect x="88" y="824" width="476" height="2.6" fill="url(#r155)"/><rect x="88" y="826" width="476" height="2.6" fill="url(#r156)"/><rect x="88" y="828" width="476" height="2.6" fill="url(#r157)"/><rect x="88" y="830" width="476" height="2.6" fill="url(#r158)"/><rect x="88" y="832" width="476" height="2.6" fill="url(#r159)"/><rect x="88" y="834" width="476" height="2.6" fill="url(#r160)"/><rect x="88" y="836" width="476" height="2.6" fill="url(#r161)"/><rect x="88" y="838" width="476" height="2.6" fill="url(#r162)"/><rect x="88" y="840" width="476" height="2.6" fill="url(#r163)"/><rect x="88" y="842" width="476" height="2.6" fill="url(#r164)"/><rect x="88" y="844" width="476" height="2.6" fill="url(#r165)"/><rect x="88" y="846" width="476" height="2.6" fill="url(#r166)"/><rect x="88" y="848" width="476" height="2.6" fill="url(#r167)"/><rect x="88" y="850" width="476" height="2.6" fill="url(#r168)"/><rect x="88" y="852" width="476" height="2.6" fill="url(#r169)"/><rect x="88" y="854" width="476" height="2.6" fill="url(#r170)"/><rect x="88" y="856" width="476" height="2.6" fill="url(#r171)"/><rect x="88" y="858" width="476" height="2.6" fill="url(#r172)"/><rect x="88" y="860" width="476" height="2.6" fill="url(#r173)"/><rect x="88" y="862" width="476" height="2.6" fill="url(#r174)"/><rect x="88" y="864" width="476" height="2.6" fill="url(#r175)"/><rect x="88" y="866" width="476" height="2.6" fill="url(#r176)"/><rect x="88" y="868" width="476" height="2.6" fill="url(#r177)"/><rect x="88" y="870" width="476" height="2.6" fill="url(#r178)"/><rect x="88" y="872" width="476" height="2.6" fill="url(#r179)"/><rect x="88" y="874" width="476" height="2.6" fill="url(#r180)"/><rect x="88" y="876" width="476" height="2.6" fill="url(#r181)"/><rect x="88" y="878" width="476" height="2.6" fill="url(#r182)"/><rect x="88" y="880" width="476" height="2.6" fill="url(#r183)"/><rect x="88" y="882" width="476" height="2.6" fill="url(#r184)"/><rect x="88" y="884" width="476" height="2.6" fill="url(#r185)"/><rect x="88" y="886" width="476" height="2.6" fill="url(#r186)"/><rect x="88" y="888" width="476" height="2.6" fill="url(#r187)"/><rect x="88" y="890" width="476" height="2.6" fill="url(#r188)"/><rect x="88" y="892" width="476" height="2.6" fill="url(#r189)"/><rect x="88" y="894" width="476" height="2.6" fill="url(#r190)"/><rect x="88" y="896" width="476" height="2.6" fill="url(#r191)"/><rect x="88" y="898" width="476" height="2.6" fill="url(#r192)"/><rect x="88" y="900" width="476" height="2.6" fill="url(#r193)"/><rect x="88" y="902" width="476" height="2.6" fill="url(#r194)"/><rect x="88" y="904" width="476" height="2.6" fill="url(#r195)"/><rect x="88" y="906" width="476" height="2.6" fill="url(#r196)"/><rect x="88" y="908" width="476" height="2.6" fill="url(#r197)"/><rect x="88" y="910" width="476" height="2.6" fill="url(#r198)"/><rect x="88" y="912" width="476" height="2.6" fill="url(#r199)"/><rect x="88" y="914" width="476" height="2.6" fill="url(#r200)"/><rect x="88" y="916" width="476" height="2.6" fill="url(#r201)"/><rect x="88" y="918" width="476" height="2.6" fill="url(#r202)"/><rect x="88" y="920" width="476" height="2.6" fill="url(#r203)"/><rect x="88" y="922" width="476" height="2.6" fill="url(#r204)"/><rect x="88" y="924" width="476" height="2.6" fill="url(#r205)"/><rect x="88" y="926" width="476" height="2.6" fill="url(#r206)"/><rect x="88" y="928" width="476" height="2.6" fill="url(#r207)"/><rect x="88" y="930" width="476" height="2.6" fill="url(#r208)"/><rect x="88" y="932" width="476" height="2.6" fill="url(#r209)"/><rect x="88" y="934" width="476" height="2.6" fill="url(#r210)"/><rect x="88" y="936" width="476" height="2.6" fill="url(#r211)"/><rect x="88" y="938" width="476" height="2.6" fill="url(#r212)"/><rect x="88" y="940" width="476" height="2.6" fill="url(#r213)"/><rect x="88" y="942" width="476" height="2.6" fill="url(#r214)"/><rect x="88" y="944" width="476" height="2.6" fill="url(#r215)"/><rect x="88" y="946" width="476" height="2.6" fill="url(#r216)"/><rect x="88" y="948" width="476" height="2.6" fill="url(#r217)"/><rect x="88" y="950" width="476" height="2.6" fill="url(#r218)"/><rect x="88" y="952" width="476" height="2.6" fill="url(#r219)"/><rect x="88" y="954" width="476" height="2.6" fill="url(#r220)"/><rect x="88" y="956" width="476" height="2.6" fill="url(#r221)"/><rect x="88" y="958" width="476" height="2.6" fill="url(#r222)"/><rect x="88" y="960" width="476" height="2.6" fill="url(#r223)"/><rect x="88" y="962" width="476" height="2.6" fill="url(#r224)"/><rect x="88" y="964" width="476" height="2.6" fill="url(#r225)"/><rect x="88" y="966" width="476" height="2.6" fill="url(#r226)"/><rect x="88" y="968" width="476" height="2.6" fill="url(#r227)"/><rect x="88" y="970" width="476" height="2.6" fill="url(#r228)"/><rect x="88" y="972" width="476" height="2.6" fill="url(#r229)"/><rect x="88" y="974" width="476" height="2.6" fill="url(#r230)"/><rect x="88" y="976" width="476" height="2.6" fill="url(#r231)"/><rect x="88" y="978" width="476" height="2.6" fill="url(#r232)"/><rect x="88" y="980" width="476" height="2.6" fill="url(#r233)"/><rect x="88" y="982" width="476" height="2.6" fill="url(#r234)"/><rect x="88" y="984" width="476" height="2.6" fill="url(#r235)"/><rect x="88" y="986" width="476" height="2.6" fill="url(#r236)"/><rect x="88" y="988" width="476" height="2.6" fill="url(#r237)"/><rect x="88" y="990" width="476" height="2.6" fill="url(#r238)"/></g>
<text x="122.6" y="505.1" font-size="13.5" fill="#d6d6d6" font-weight="normal" text-anchor="start"  textLength="24.3" lengthAdjust="spacingAndGlyphs" >520</text>
<text x="193.8" y="522.9" font-size="13.5" fill="#d6d6d6" font-weight="normal" text-anchor="start"  textLength="24.3" lengthAdjust="spacingAndGlyphs" >530</text>
<text x="243.0" y="552.7" font-size="13.5" fill="#d6d6d6" font-weight="normal" text-anchor="start"  textLength="24.3" lengthAdjust="spacingAndGlyphs" >540</text>
<text x="290.2" y="588.2" font-size="13.5" fill="#d6d6d6" font-weight="normal" text-anchor="start"  textLength="24.3" lengthAdjust="spacingAndGlyphs" >550</text>
<text x="336.3" y="626.7" font-size="13.5" fill="#d6d6d6" font-weight="normal" text-anchor="start"  textLength="24.3" lengthAdjust="spacingAndGlyphs" >560</text>
<text x="382.9" y="666.7" font-size="13.5" fill="#d6d6d6" font-weight="normal" text-anchor="start"  textLength="24.3" lengthAdjust="spacingAndGlyphs" >570</text>
<text x="426.1" y="705.1" font-size="13.5" fill="#d6d6d6" font-weight="normal" text-anchor="start"  textLength="24.3" lengthAdjust="spacingAndGlyphs" >580</text>
<text x="466.7" y="740.5" font-size="13.5" fill="#d6d6d6" font-weight="normal" text-anchor="start"  textLength="24.3" lengthAdjust="spacingAndGlyphs" >590</text>
<text x="499.2" y="769.7" font-size="13.5" fill="#d6d6d6" font-weight="normal" text-anchor="start"  textLength="24.3" lengthAdjust="spacingAndGlyphs" >600</text>
<text x="524.4" y="791.1" font-size="13.5" fill="#d6d6d6" font-weight="normal" text-anchor="start"  textLength="24.3" lengthAdjust="spacingAndGlyphs" >610</text>
<text x="540.6" y="805.1" font-size="13.5" fill="#d6d6d6" font-weight="normal" text-anchor="start"  textLength="24.3" lengthAdjust="spacingAndGlyphs" >620</text>
<text x="568.7" y="829.1" font-size="13.5" fill="#d6d6d6" font-weight="normal" text-anchor="start"  textLength="24.3" lengthAdjust="spacingAndGlyphs" >680</text>
<text x="62.6" y="568.5" font-size="13.5" fill="#d6d6d6" font-weight="normal" text-anchor="start"  textLength="24.3" lengthAdjust="spacingAndGlyphs" >510</text>
<text x="59.3" y="691.3" font-size="13.5" fill="#d6d6d6" font-weight="normal" text-anchor="start"  textLength="24.3" lengthAdjust="spacingAndGlyphs" >500</text>
<text x="83.5" y="830.2" font-size="13.5" fill="#d6d6d6" font-weight="normal" text-anchor="start"  textLength="24.3" lengthAdjust="spacingAndGlyphs" >490</text>
<text x="112.8" y="923.0" font-size="13.5" fill="#d6d6d6" font-weight="normal" text-anchor="start"  textLength="24.3" lengthAdjust="spacingAndGlyphs" >480</text>
<text x="134.2" y="975.4" font-size="13.5" fill="#d6d6d6" font-weight="normal" text-anchor="start"  textLength="24.3" lengthAdjust="spacingAndGlyphs" >470</text>
<text x="150.5" y="992.7" font-size="13.5" fill="#d6d6d6" font-weight="normal" text-anchor="start"  textLength="24.3" lengthAdjust="spacingAndGlyphs" >460</text>
<text x="169.4" y="1008.7" font-size="13.5" fill="#d6d6d6" font-weight="normal" text-anchor="start"  textLength="24.3" lengthAdjust="spacingAndGlyphs" >420</text>
<rect x="354" y="495" width="250" height="135" fill="#fff"/>
<rect x="148" y="991.6" width="28" height="4.6" fill="#fff"/>
<path d="M89.1 516.2V990.8H568.5" fill="none" stroke="#0a0a0a" stroke-width="3.2"/>
<text x="58.0" y="544.4" font-size="19.3" fill="#2e2e2e" font-weight="normal" text-anchor="start"  textLength="26.9" lengthAdjust="spacingAndGlyphs" stroke="#2e2e2e" stroke-width="0.7">0.8</text>
<text x="58.0" y="601.0" font-size="19.3" fill="#2e2e2e" font-weight="normal" text-anchor="start"  textLength="26.9" lengthAdjust="spacingAndGlyphs" stroke="#2e2e2e" stroke-width="0.7">0.7</text>
<text x="58.0" y="657.7" font-size="19.3" fill="#2e2e2e" font-weight="normal" text-anchor="start"  textLength="26.9" lengthAdjust="spacingAndGlyphs" stroke="#2e2e2e" stroke-width="0.7">0.6</text>
<text x="58.0" y="714.2" font-size="19.3" fill="#2e2e2e" font-weight="normal" text-anchor="start"  textLength="26.9" lengthAdjust="spacingAndGlyphs" stroke="#2e2e2e" stroke-width="0.7">0.5</text>
<text x="58.0" y="770.7" font-size="19.3" fill="#2e2e2e" font-weight="normal" text-anchor="start"  textLength="26.9" lengthAdjust="spacingAndGlyphs" stroke="#2e2e2e" stroke-width="0.7">0.4</text>
<text x="58.0" y="827.3" font-size="19.3" fill="#2e2e2e" font-weight="normal" text-anchor="start"  textLength="26.9" lengthAdjust="spacingAndGlyphs" stroke="#2e2e2e" stroke-width="0.7">0.3</text>
<text x="58.0" y="884.4" font-size="19.3" fill="#2e2e2e" font-weight="normal" text-anchor="start"  textLength="26.9" lengthAdjust="spacingAndGlyphs" stroke="#2e2e2e" stroke-width="0.7">0.2</text>
<text x="58.0" y="940.5" font-size="19.3" fill="#2e2e2e" font-weight="normal" text-anchor="start"  textLength="26.9" lengthAdjust="spacingAndGlyphs" stroke="#2e2e2e" stroke-width="0.7">0.1</text>
<text x="58.0" y="992.2" font-size="19.3" fill="#2e2e2e" font-weight="normal" text-anchor="start"  textLength="26.9" lengthAdjust="spacingAndGlyphs" stroke="#2e2e2e" stroke-width="0.7">0.0</text>
<text x="75.5" y="1008.5" font-size="19.3" fill="#2e2e2e" font-weight="normal" text-anchor="start"  textLength="26.7" lengthAdjust="spacingAndGlyphs" stroke="#2e2e2e" stroke-width="0.7">0.0</text>
<text x="139.7" y="1008.5" font-size="19.3" fill="#2e2e2e" font-weight="normal" text-anchor="start"  textLength="26.7" lengthAdjust="spacingAndGlyphs" stroke="#2e2e2e" stroke-width="0.7">0.1</text>
<text x="203.9" y="1008.5" font-size="19.3" fill="#2e2e2e" font-weight="normal" text-anchor="start"  textLength="26.7" lengthAdjust="spacingAndGlyphs" stroke="#2e2e2e" stroke-width="0.7">0.2</text>
<text x="268.2" y="1008.5" font-size="19.3" fill="#2e2e2e" font-weight="normal" text-anchor="start"  textLength="26.7" lengthAdjust="spacingAndGlyphs" stroke="#2e2e2e" stroke-width="0.7">0.3</text>
<text x="332.4" y="1008.5" font-size="19.3" fill="#2e2e2e" font-weight="normal" text-anchor="start"  textLength="26.7" lengthAdjust="spacingAndGlyphs" stroke="#2e2e2e" stroke-width="0.7">0.4</text>
<text x="396.7" y="1008.5" font-size="19.3" fill="#2e2e2e" font-weight="normal" text-anchor="start"  textLength="26.7" lengthAdjust="spacingAndGlyphs" stroke="#2e2e2e" stroke-width="0.7">0.5</text>
<text x="460.9" y="1008.5" font-size="19.3" fill="#2e2e2e" font-weight="normal" text-anchor="start"  textLength="26.7" lengthAdjust="spacingAndGlyphs" stroke="#2e2e2e" stroke-width="0.7">0.6</text>
<text x="525.2" y="1008.5" font-size="19.3" fill="#2e2e2e" font-weight="normal" text-anchor="start"  textLength="26.7" lengthAdjust="spacingAndGlyphs" stroke="#2e2e2e" stroke-width="0.7">0.7</text>
<text x="82.0" y="508.2" font-size="28" fill="#111" font-weight="normal" text-anchor="start"  textLength="14.0" lengthAdjust="spacingAndGlyphs"  stroke="#111" stroke-width="0.45">y</text>
<text x="571.5" y="1000.0" font-size="28" fill="#111" font-weight="normal" text-anchor="start"  textLength="14.5" lengthAdjust="spacingAndGlyphs"  stroke="#111" stroke-width="0.45">x</text>
<path d="M90.7 538h4M90.7 594.3h4M346.6 988v-4M410.5 988v-4" stroke="#bbb" stroke-width="1" fill="none"/>
<circle cx="369.8" cy="514.6" r="6.5" fill="#3b3bd0"/><path d="M362.75 514.6H376.85M369.8 507.55V521.65" stroke="#3b3bd0" stroke-width="2.0"/>
<circle cx="371.6" cy="557.6" r="6.7" fill="#000"/><path d="M364.35 557.6H378.85M371.6 550.35V564.85" stroke="#000" stroke-width="2.0"/>
<circle cx="372.8" cy="597" r="6.5" fill="#3de8f4"/><path d="M365.75 597H379.85M372.8 589.95V604.05" stroke="#3de8f4" stroke-width="2.0"/>
<circle cx="366.5" cy="734.3" r="6.6" fill="#3b3bd0"/><path d="M359.35 734.3H373.65M366.5 727.15V741.4499999999999" stroke="#3b3bd0" stroke-width="2.0"/>
<circle cx="377.5" cy="752.3" r="6.8" fill="#3de8f4"/><path d="M370.15 752.3H384.85M377.5 744.9499999999999V759.65" stroke="#3de8f4" stroke-width="2.0"/>
<circle cx="362.8" cy="774.4" r="6.8" fill="#000"/><path d="M355.45 774.4H370.15000000000003M362.8 767.05V781.75" stroke="#000" stroke-width="2.0"/>
<text x="388.2" y="523.3" font-size="29" fill="#111" stroke="#111" stroke-width="0.6" textLength="102.6" lengthAdjust="spacingAndGlyphs" xml:space="preserve">Cu<tspan font-size="17.5" stroke-width="0.9">4</tspan>I<tspan font-size="17.5" stroke-width="0.9">4</tspan> L1</text>
<circle cx="496.3" cy="515.3" r="4.6" fill="#000"/>
<text x="509.9" y="526.0" font-size="29" fill="#111" font-weight="normal" text-anchor="start"  textLength="82.2" lengthAdjust="spacingAndGlyphs"  stroke="#111" stroke-width="0.45">MeCN</text>
<text x="389.5" y="566" font-size="29" fill="#111" stroke="#111" stroke-width="0.6" textLength="102.6" lengthAdjust="spacingAndGlyphs" xml:space="preserve">Cu<tspan font-size="17.5" stroke-width="0.9">4</tspan>I<tspan font-size="17.5" stroke-width="0.9">4</tspan> L1</text>
<circle cx="499.5" cy="558.5" r="4.5" fill="#000"/>
<text x="508.8" y="566.3" font-size="29" fill="#111" font-weight="normal" text-anchor="start"  textLength="58.5" lengthAdjust="spacingAndGlyphs"  stroke="#111" stroke-width="0.45">Void</text>
<text x="391.3" y="608.8" font-size="29" fill="#111" stroke="#111" stroke-width="0.6" textLength="102.6" lengthAdjust="spacingAndGlyphs" xml:space="preserve">Cu<tspan font-size="17.5" stroke-width="0.9">4</tspan>I<tspan font-size="17.5" stroke-width="0.9">4</tspan> L1</text>
<circle cx="500.4" cy="606" r="4.4" fill="#000"/>
<text x="506.1" y="610.6" font-size="29" fill="#111" font-weight="normal" text-anchor="start"  textLength="89.5" lengthAdjust="spacingAndGlyphs"  stroke="#111" stroke-width="0.45">MeCN'</text>
</g>
</svg>
</body></html>
